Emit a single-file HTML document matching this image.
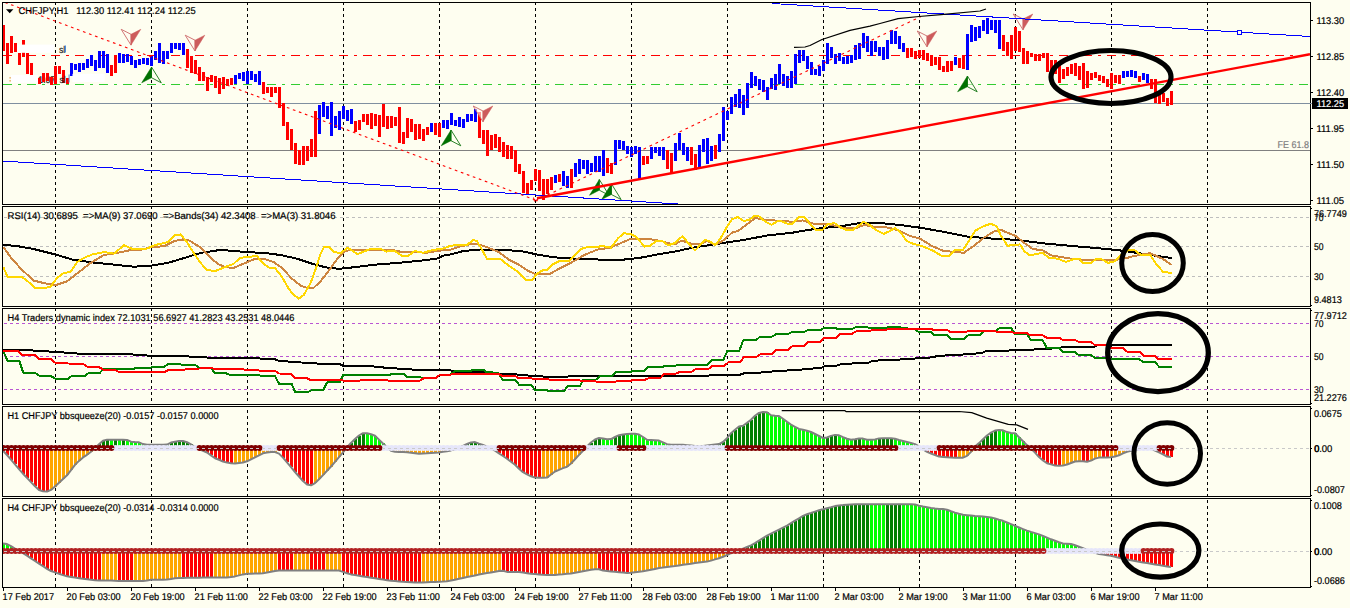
<!DOCTYPE html>
<html><head><meta charset="utf-8"><title>CHFJPY H1</title>
<style>html,body{margin:0;padding:0;background:#FEFEF0;overflow:hidden}svg text{font-family:"Liberation Sans",sans-serif}</style></head>
<body>
<svg width="1350" height="608" viewBox="0 0 1350 608" font-family="Liberation Sans, sans-serif" style="display:block">
<rect width="1350" height="608" fill="#FEFEF0"/>
<defs>
<clipPath id="cp0"><rect x="3" y="3" width="1307" height="201"/></clipPath>
<clipPath id="cp1"><rect x="3" y="207" width="1307" height="99"/></clipPath>
<clipPath id="cp2"><rect x="3" y="309" width="1307" height="95"/></clipPath>
<clipPath id="cp3"><rect x="3" y="407" width="1307" height="89"/></clipPath>
<clipPath id="cp4"><rect x="3" y="499" width="1307" height="88"/></clipPath>
</defs>
<clipPath id="cpall"><rect x="3" y="3" width="1307" height="201"/><rect x="3" y="207" width="1307" height="99"/><rect x="3" y="309" width="1307" height="95"/><rect x="3" y="407" width="1307" height="89"/><rect x="3" y="499" width="1307" height="88"/></clipPath>
<g clip-path="url(#cpall)">
<line x1="55.5" y1="2" x2="55.5" y2="590" stroke="#000" stroke-width="1" stroke-dasharray="3 3" shape-rendering="crispEdges"/>
<line x1="151.5" y1="2" x2="151.5" y2="590" stroke="#000" stroke-width="1" stroke-dasharray="3 3" shape-rendering="crispEdges"/>
<line x1="247.5" y1="2" x2="247.5" y2="590" stroke="#000" stroke-width="1" stroke-dasharray="3 3" shape-rendering="crispEdges"/>
<line x1="343.5" y1="2" x2="343.5" y2="590" stroke="#000" stroke-width="1" stroke-dasharray="3 3" shape-rendering="crispEdges"/>
<line x1="439.5" y1="2" x2="439.5" y2="590" stroke="#000" stroke-width="1" stroke-dasharray="3 3" shape-rendering="crispEdges"/>
<line x1="535.5" y1="2" x2="535.5" y2="590" stroke="#000" stroke-width="1" stroke-dasharray="3 3" shape-rendering="crispEdges"/>
<line x1="631.5" y1="2" x2="631.5" y2="590" stroke="#000" stroke-width="1" stroke-dasharray="3 3" shape-rendering="crispEdges"/>
<line x1="727.5" y1="2" x2="727.5" y2="590" stroke="#000" stroke-width="1" stroke-dasharray="3 3" shape-rendering="crispEdges"/>
<line x1="823.5" y1="2" x2="823.5" y2="590" stroke="#000" stroke-width="1" stroke-dasharray="3 3" shape-rendering="crispEdges"/>
<line x1="919.5" y1="2" x2="919.5" y2="590" stroke="#000" stroke-width="1" stroke-dasharray="3 3" shape-rendering="crispEdges"/>
<line x1="1015.5" y1="2" x2="1015.5" y2="590" stroke="#000" stroke-width="1" stroke-dasharray="3 3" shape-rendering="crispEdges"/>
<line x1="1111.5" y1="2" x2="1111.5" y2="590" stroke="#000" stroke-width="1" stroke-dasharray="3 3" shape-rendering="crispEdges"/>
<line x1="1207.5" y1="2" x2="1207.5" y2="590" stroke="#000" stroke-width="1" stroke-dasharray="3 3" shape-rendering="crispEdges"/>
</g>
<g clip-path="url(#cp0)">
<line x1="3" y1="103.5" x2="1310" y2="103.5" stroke="#7F8FA0" stroke-width="1" shape-rendering="crispEdges"/>
<line x1="3" y1="150.5" x2="1310" y2="150.5" stroke="#808080" stroke-width="1" shape-rendering="crispEdges"/>
<line x1="3" y1="55.5" x2="1310" y2="55.5" stroke="#FF0000" stroke-width="1" stroke-dasharray="9 6 3 6" shape-rendering="crispEdges"/>
<line x1="3" y1="84.5" x2="1310" y2="84.5" stroke="#32CD32" stroke-width="1" stroke-dasharray="9 6 3 6" shape-rendering="crispEdges"/>
<text x="38.30" y="82.60" font-size="9.8px" fill="#1a1a1a" text-anchor="start" textLength="17.00" lengthAdjust="spacingAndGlyphs" xml:space="preserve" stroke="#1a1a1a" stroke-width="0.2" style="text-rendering:geometricPrecision" >1.07</text>
<rect x="2" y="25" width="3" height="26" fill="#FF0000" shape-rendering="crispEdges"/>
<rect x="6" y="43" width="3" height="21" fill="#FF0000" shape-rendering="crispEdges"/>
<rect x="10" y="36" width="3" height="17" fill="#FF0000" shape-rendering="crispEdges"/>
<rect x="14" y="43" width="3" height="9" fill="#FF0000" shape-rendering="crispEdges"/>
<rect x="18" y="53" width="3" height="12" fill="#FF0000" shape-rendering="crispEdges"/>
<rect x="22" y="40" width="3" height="17" fill="#FF0000" shape-rendering="crispEdges"/>
<rect x="26" y="53" width="3" height="21" fill="#FF0000" shape-rendering="crispEdges"/>
<rect x="30" y="63" width="3" height="12" fill="#FF0000" shape-rendering="crispEdges"/>
<rect x="34" y="75" width="3" height="7" fill="#FF0000" shape-rendering="crispEdges"/>
<rect x="38" y="78" width="3" height="6" fill="#FF0000" shape-rendering="crispEdges"/>
<rect x="42" y="73" width="3" height="9" fill="#FF0000" shape-rendering="crispEdges"/>
<rect x="46" y="73" width="3" height="8" fill="#FF0000" shape-rendering="crispEdges"/>
<rect x="50" y="77" width="3" height="8" fill="#FF0000" shape-rendering="crispEdges"/>
<rect x="54" y="66" width="3" height="18" fill="#FF0000" shape-rendering="crispEdges"/>
<rect x="58" y="66" width="3" height="8" fill="#FF0000" shape-rendering="crispEdges"/>
<rect x="62" y="70" width="3" height="13" fill="#FF0000" shape-rendering="crispEdges"/>
<rect x="66" y="78" width="3" height="6" fill="#FF0000" shape-rendering="crispEdges"/>
<rect x="70" y="63" width="3" height="13" fill="#0000FF" shape-rendering="crispEdges"/>
<rect x="74" y="64" width="3" height="6" fill="#0000FF" shape-rendering="crispEdges"/>
<rect x="78" y="63" width="3" height="9" fill="#0000FF" shape-rendering="crispEdges"/>
<rect x="82" y="63" width="3" height="7" fill="#0000FF" shape-rendering="crispEdges"/>
<rect x="86" y="59" width="3" height="9" fill="#0000FF" shape-rendering="crispEdges"/>
<rect x="90" y="55" width="3" height="11" fill="#0000FF" shape-rendering="crispEdges"/>
<rect x="94" y="60" width="3" height="11" fill="#0000FF" shape-rendering="crispEdges"/>
<rect x="98" y="51" width="3" height="17" fill="#0000FF" shape-rendering="crispEdges"/>
<rect x="102" y="51" width="3" height="17" fill="#0000FF" shape-rendering="crispEdges"/>
<rect x="106" y="54" width="3" height="19" fill="#0000FF" shape-rendering="crispEdges"/>
<rect x="110" y="65" width="3" height="11" fill="#FF0000" shape-rendering="crispEdges"/>
<rect x="114" y="55" width="3" height="18" fill="#FF0000" shape-rendering="crispEdges"/>
<rect x="118" y="53" width="3" height="10" fill="#0000FF" shape-rendering="crispEdges"/>
<rect x="122" y="54" width="3" height="9" fill="#0000FF" shape-rendering="crispEdges"/>
<rect x="126" y="54" width="3" height="8" fill="#0000FF" shape-rendering="crispEdges"/>
<rect x="130" y="56" width="3" height="9" fill="#0000FF" shape-rendering="crispEdges"/>
<rect x="134" y="60" width="3" height="8" fill="#0000FF" shape-rendering="crispEdges"/>
<rect x="138" y="59" width="3" height="6" fill="#0000FF" shape-rendering="crispEdges"/>
<rect x="142" y="58" width="3" height="6" fill="#0000FF" shape-rendering="crispEdges"/>
<rect x="146" y="58" width="3" height="7" fill="#0000FF" shape-rendering="crispEdges"/>
<rect x="150" y="56" width="3" height="10" fill="#0000FF" shape-rendering="crispEdges"/>
<rect x="154" y="51" width="3" height="9" fill="#0000FF" shape-rendering="crispEdges"/>
<rect x="158" y="43" width="3" height="20" fill="#0000FF" shape-rendering="crispEdges"/>
<rect x="162" y="51" width="3" height="13" fill="#0000FF" shape-rendering="crispEdges"/>
<rect x="166" y="51" width="3" height="8" fill="#0000FF" shape-rendering="crispEdges"/>
<rect x="170" y="43" width="3" height="10" fill="#0000FF" shape-rendering="crispEdges"/>
<rect x="174" y="43" width="3" height="6" fill="#0000FF" shape-rendering="crispEdges"/>
<rect x="178" y="43" width="3" height="7" fill="#0000FF" shape-rendering="crispEdges"/>
<rect x="182" y="43" width="3" height="12" fill="#0000FF" shape-rendering="crispEdges"/>
<rect x="186" y="49" width="3" height="19" fill="#FF0000" shape-rendering="crispEdges"/>
<rect x="190" y="56" width="3" height="17" fill="#FF0000" shape-rendering="crispEdges"/>
<rect x="194" y="60" width="3" height="14" fill="#FF0000" shape-rendering="crispEdges"/>
<rect x="198" y="67" width="3" height="14" fill="#FF0000" shape-rendering="crispEdges"/>
<rect x="202" y="72" width="3" height="9" fill="#FF0000" shape-rendering="crispEdges"/>
<rect x="206" y="77" width="3" height="14" fill="#FF0000" shape-rendering="crispEdges"/>
<rect x="210" y="75" width="3" height="7" fill="#FF0000" shape-rendering="crispEdges"/>
<rect x="214" y="76" width="3" height="12" fill="#FF0000" shape-rendering="crispEdges"/>
<rect x="218" y="78" width="3" height="16" fill="#FF0000" shape-rendering="crispEdges"/>
<rect x="222" y="77" width="3" height="12" fill="#FF0000" shape-rendering="crispEdges"/>
<rect x="226" y="79" width="3" height="7" fill="#FF0000" shape-rendering="crispEdges"/>
<rect x="230" y="78" width="3" height="7" fill="#FF0000" shape-rendering="crispEdges"/>
<rect x="234" y="75" width="3" height="9" fill="#0000FF" shape-rendering="crispEdges"/>
<rect x="238" y="73" width="3" height="6" fill="#0000FF" shape-rendering="crispEdges"/>
<rect x="242" y="72" width="3" height="9" fill="#0000FF" shape-rendering="crispEdges"/>
<rect x="246" y="71" width="3" height="13" fill="#0000FF" shape-rendering="crispEdges"/>
<rect x="250" y="71" width="3" height="9" fill="#0000FF" shape-rendering="crispEdges"/>
<rect x="254" y="74" width="3" height="8" fill="#0000FF" shape-rendering="crispEdges"/>
<rect x="258" y="71" width="3" height="14" fill="#0000FF" shape-rendering="crispEdges"/>
<rect x="262" y="82" width="3" height="12" fill="#FF0000" shape-rendering="crispEdges"/>
<rect x="266" y="87" width="3" height="6" fill="#FF0000" shape-rendering="crispEdges"/>
<rect x="270" y="87" width="3" height="10" fill="#FF0000" shape-rendering="crispEdges"/>
<rect x="274" y="87" width="3" height="6" fill="#FF0000" shape-rendering="crispEdges"/>
<rect x="278" y="87" width="3" height="21" fill="#FF0000" shape-rendering="crispEdges"/>
<rect x="282" y="103" width="3" height="23" fill="#FF0000" shape-rendering="crispEdges"/>
<rect x="286" y="122" width="3" height="18" fill="#FF0000" shape-rendering="crispEdges"/>
<rect x="290" y="129" width="3" height="21" fill="#FF0000" shape-rendering="crispEdges"/>
<rect x="294" y="143" width="3" height="21" fill="#FF0000" shape-rendering="crispEdges"/>
<rect x="298" y="150" width="3" height="15" fill="#FF0000" shape-rendering="crispEdges"/>
<rect x="302" y="146" width="3" height="19" fill="#FF0000" shape-rendering="crispEdges"/>
<rect x="306" y="146" width="3" height="15" fill="#FF0000" shape-rendering="crispEdges"/>
<rect x="310" y="139" width="3" height="18" fill="#FF0000" shape-rendering="crispEdges"/>
<rect x="314" y="111" width="3" height="46" fill="#FF0000" shape-rendering="crispEdges"/>
<rect x="318" y="105" width="3" height="29" fill="#0000FF" shape-rendering="crispEdges"/>
<rect x="322" y="102" width="3" height="15" fill="#0000FF" shape-rendering="crispEdges"/>
<rect x="326" y="106" width="3" height="13" fill="#0000FF" shape-rendering="crispEdges"/>
<rect x="330" y="102" width="3" height="34" fill="#0000FF" shape-rendering="crispEdges"/>
<rect x="334" y="116" width="3" height="12" fill="#0000FF" shape-rendering="crispEdges"/>
<rect x="338" y="111" width="3" height="19" fill="#0000FF" shape-rendering="crispEdges"/>
<rect x="342" y="106" width="3" height="13" fill="#0000FF" shape-rendering="crispEdges"/>
<rect x="346" y="110" width="3" height="11" fill="#0000FF" shape-rendering="crispEdges"/>
<rect x="350" y="109" width="3" height="15" fill="#0000FF" shape-rendering="crispEdges"/>
<rect x="354" y="121" width="3" height="11" fill="#FF0000" shape-rendering="crispEdges"/>
<rect x="358" y="120" width="3" height="10" fill="#FF0000" shape-rendering="crispEdges"/>
<rect x="362" y="114" width="3" height="8" fill="#FF0000" shape-rendering="crispEdges"/>
<rect x="366" y="114" width="3" height="11" fill="#FF0000" shape-rendering="crispEdges"/>
<rect x="370" y="113" width="3" height="16" fill="#FF0000" shape-rendering="crispEdges"/>
<rect x="374" y="114" width="3" height="12" fill="#FF0000" shape-rendering="crispEdges"/>
<rect x="378" y="115" width="3" height="22" fill="#FF0000" shape-rendering="crispEdges"/>
<rect x="382" y="104" width="3" height="23" fill="#FF0000" shape-rendering="crispEdges"/>
<rect x="386" y="116" width="3" height="13" fill="#FF0000" shape-rendering="crispEdges"/>
<rect x="390" y="116" width="3" height="12" fill="#FF0000" shape-rendering="crispEdges"/>
<rect x="394" y="117" width="3" height="9" fill="#FF0000" shape-rendering="crispEdges"/>
<rect x="398" y="107" width="3" height="36" fill="#FF0000" shape-rendering="crispEdges"/>
<rect x="402" y="132" width="3" height="12" fill="#FF0000" shape-rendering="crispEdges"/>
<rect x="406" y="118" width="3" height="20" fill="#FF0000" shape-rendering="crispEdges"/>
<rect x="410" y="119" width="3" height="13" fill="#FF0000" shape-rendering="crispEdges"/>
<rect x="414" y="124" width="3" height="16" fill="#FF0000" shape-rendering="crispEdges"/>
<rect x="418" y="124" width="3" height="15" fill="#FF0000" shape-rendering="crispEdges"/>
<rect x="422" y="129" width="3" height="12" fill="#FF0000" shape-rendering="crispEdges"/>
<rect x="426" y="127" width="3" height="8" fill="#FF0000" shape-rendering="crispEdges"/>
<rect x="430" y="123" width="3" height="9" fill="#0000FF" shape-rendering="crispEdges"/>
<rect x="434" y="123" width="3" height="12" fill="#FF0000" shape-rendering="crispEdges"/>
<rect x="438" y="123" width="3" height="14" fill="#FF0000" shape-rendering="crispEdges"/>
<rect x="442" y="120" width="3" height="8" fill="#0000FF" shape-rendering="crispEdges"/>
<rect x="446" y="120" width="3" height="9" fill="#0000FF" shape-rendering="crispEdges"/>
<rect x="450" y="113" width="3" height="12" fill="#0000FF" shape-rendering="crispEdges"/>
<rect x="454" y="120" width="3" height="6" fill="#0000FF" shape-rendering="crispEdges"/>
<rect x="458" y="117" width="3" height="10" fill="#0000FF" shape-rendering="crispEdges"/>
<rect x="462" y="119" width="3" height="9" fill="#0000FF" shape-rendering="crispEdges"/>
<rect x="466" y="114" width="3" height="8" fill="#0000FF" shape-rendering="crispEdges"/>
<rect x="470" y="114" width="3" height="7" fill="#0000FF" shape-rendering="crispEdges"/>
<rect x="474" y="109" width="3" height="13" fill="#0000FF" shape-rendering="crispEdges"/>
<rect x="478" y="112" width="3" height="26" fill="#FF0000" shape-rendering="crispEdges"/>
<rect x="482" y="130" width="3" height="14" fill="#FF0000" shape-rendering="crispEdges"/>
<rect x="486" y="130" width="3" height="26" fill="#FF0000" shape-rendering="crispEdges"/>
<rect x="490" y="135" width="3" height="15" fill="#FF0000" shape-rendering="crispEdges"/>
<rect x="494" y="134" width="3" height="14" fill="#FF0000" shape-rendering="crispEdges"/>
<rect x="498" y="137" width="3" height="15" fill="#FF0000" shape-rendering="crispEdges"/>
<rect x="502" y="142" width="3" height="15" fill="#FF0000" shape-rendering="crispEdges"/>
<rect x="506" y="145" width="3" height="14" fill="#FF0000" shape-rendering="crispEdges"/>
<rect x="510" y="146" width="3" height="13" fill="#FF0000" shape-rendering="crispEdges"/>
<rect x="514" y="150" width="3" height="22" fill="#FF0000" shape-rendering="crispEdges"/>
<rect x="518" y="164" width="3" height="10" fill="#FF0000" shape-rendering="crispEdges"/>
<rect x="522" y="171" width="3" height="22" fill="#FF0000" shape-rendering="crispEdges"/>
<rect x="526" y="183" width="3" height="12" fill="#FF0000" shape-rendering="crispEdges"/>
<rect x="530" y="180" width="3" height="10" fill="#FF0000" shape-rendering="crispEdges"/>
<rect x="534" y="169" width="3" height="12" fill="#FF0000" shape-rendering="crispEdges"/>
<rect x="538" y="170" width="3" height="21" fill="#FF0000" shape-rendering="crispEdges"/>
<rect x="542" y="179" width="3" height="21" fill="#FF0000" shape-rendering="crispEdges"/>
<rect x="546" y="179" width="3" height="15" fill="#FF0000" shape-rendering="crispEdges"/>
<rect x="550" y="177" width="3" height="13" fill="#FF0000" shape-rendering="crispEdges"/>
<rect x="554" y="175" width="3" height="8" fill="#0000FF" shape-rendering="crispEdges"/>
<rect x="558" y="174" width="3" height="8" fill="#FF0000" shape-rendering="crispEdges"/>
<rect x="562" y="171" width="3" height="15" fill="#0000FF" shape-rendering="crispEdges"/>
<rect x="566" y="176" width="3" height="12" fill="#0000FF" shape-rendering="crispEdges"/>
<rect x="570" y="169" width="3" height="19" fill="#FF0000" shape-rendering="crispEdges"/>
<rect x="574" y="163" width="3" height="14" fill="#0000FF" shape-rendering="crispEdges"/>
<rect x="578" y="159" width="3" height="15" fill="#0000FF" shape-rendering="crispEdges"/>
<rect x="582" y="160" width="3" height="9" fill="#0000FF" shape-rendering="crispEdges"/>
<rect x="586" y="160" width="3" height="14" fill="#0000FF" shape-rendering="crispEdges"/>
<rect x="590" y="163" width="3" height="9" fill="#0000FF" shape-rendering="crispEdges"/>
<rect x="594" y="156" width="3" height="16" fill="#0000FF" shape-rendering="crispEdges"/>
<rect x="598" y="156" width="3" height="16" fill="#0000FF" shape-rendering="crispEdges"/>
<rect x="602" y="150" width="3" height="26" fill="#0000FF" shape-rendering="crispEdges"/>
<rect x="606" y="158" width="3" height="15" fill="#FF0000" shape-rendering="crispEdges"/>
<rect x="610" y="163" width="3" height="11" fill="#FF0000" shape-rendering="crispEdges"/>
<rect x="614" y="140" width="3" height="25" fill="#0000FF" shape-rendering="crispEdges"/>
<rect x="618" y="140" width="3" height="9" fill="#0000FF" shape-rendering="crispEdges"/>
<rect x="622" y="141" width="3" height="9" fill="#0000FF" shape-rendering="crispEdges"/>
<rect x="626" y="146" width="3" height="8" fill="#0000FF" shape-rendering="crispEdges"/>
<rect x="630" y="147" width="3" height="10" fill="#0000FF" shape-rendering="crispEdges"/>
<rect x="634" y="146" width="3" height="8" fill="#0000FF" shape-rendering="crispEdges"/>
<rect x="638" y="147" width="3" height="32" fill="#0000FF" shape-rendering="crispEdges"/>
<rect x="642" y="156" width="3" height="9" fill="#FF0000" shape-rendering="crispEdges"/>
<rect x="646" y="156" width="3" height="8" fill="#FF0000" shape-rendering="crispEdges"/>
<rect x="650" y="147" width="3" height="12" fill="#0000FF" shape-rendering="crispEdges"/>
<rect x="654" y="147" width="3" height="6" fill="#0000FF" shape-rendering="crispEdges"/>
<rect x="658" y="147" width="3" height="9" fill="#0000FF" shape-rendering="crispEdges"/>
<rect x="662" y="147" width="3" height="13" fill="#0000FF" shape-rendering="crispEdges"/>
<rect x="666" y="150" width="3" height="19" fill="#FF0000" shape-rendering="crispEdges"/>
<rect x="670" y="153" width="3" height="21" fill="#FF0000" shape-rendering="crispEdges"/>
<rect x="674" y="143" width="3" height="18" fill="#0000FF" shape-rendering="crispEdges"/>
<rect x="678" y="133" width="3" height="17" fill="#0000FF" shape-rendering="crispEdges"/>
<rect x="682" y="143" width="3" height="12" fill="#0000FF" shape-rendering="crispEdges"/>
<rect x="686" y="147" width="3" height="14" fill="#0000FF" shape-rendering="crispEdges"/>
<rect x="690" y="147" width="3" height="18" fill="#FF0000" shape-rendering="crispEdges"/>
<rect x="694" y="154" width="3" height="16" fill="#FF0000" shape-rendering="crispEdges"/>
<rect x="698" y="145" width="3" height="22" fill="#0000FF" shape-rendering="crispEdges"/>
<rect x="702" y="139" width="3" height="13" fill="#0000FF" shape-rendering="crispEdges"/>
<rect x="706" y="138" width="3" height="26" fill="#0000FF" shape-rendering="crispEdges"/>
<rect x="710" y="146" width="3" height="15" fill="#0000FF" shape-rendering="crispEdges"/>
<rect x="714" y="145" width="3" height="14" fill="#FF0000" shape-rendering="crispEdges"/>
<rect x="718" y="134" width="3" height="18" fill="#0000FF" shape-rendering="crispEdges"/>
<rect x="722" y="107" width="3" height="34" fill="#0000FF" shape-rendering="crispEdges"/>
<rect x="726" y="111" width="3" height="9" fill="#0000FF" shape-rendering="crispEdges"/>
<rect x="730" y="97" width="3" height="17" fill="#0000FF" shape-rendering="crispEdges"/>
<rect x="734" y="94" width="3" height="13" fill="#0000FF" shape-rendering="crispEdges"/>
<rect x="738" y="89" width="3" height="19" fill="#0000FF" shape-rendering="crispEdges"/>
<rect x="742" y="95" width="3" height="20" fill="#0000FF" shape-rendering="crispEdges"/>
<rect x="746" y="83" width="3" height="25" fill="#0000FF" shape-rendering="crispEdges"/>
<rect x="750" y="72" width="3" height="16" fill="#0000FF" shape-rendering="crispEdges"/>
<rect x="754" y="76" width="3" height="10" fill="#0000FF" shape-rendering="crispEdges"/>
<rect x="758" y="79" width="3" height="11" fill="#0000FF" shape-rendering="crispEdges"/>
<rect x="762" y="80" width="3" height="12" fill="#0000FF" shape-rendering="crispEdges"/>
<rect x="766" y="87" width="3" height="13" fill="#0000FF" shape-rendering="crispEdges"/>
<rect x="770" y="78" width="3" height="11" fill="#0000FF" shape-rendering="crispEdges"/>
<rect x="774" y="74" width="3" height="16" fill="#0000FF" shape-rendering="crispEdges"/>
<rect x="778" y="64" width="3" height="20" fill="#0000FF" shape-rendering="crispEdges"/>
<rect x="782" y="74" width="3" height="12" fill="#0000FF" shape-rendering="crispEdges"/>
<rect x="786" y="76" width="3" height="12" fill="#0000FF" shape-rendering="crispEdges"/>
<rect x="790" y="71" width="3" height="17" fill="#0000FF" shape-rendering="crispEdges"/>
<rect x="794" y="54" width="3" height="30" fill="#0000FF" shape-rendering="crispEdges"/>
<rect x="798" y="50" width="3" height="13" fill="#0000FF" shape-rendering="crispEdges"/>
<rect x="802" y="50" width="3" height="11" fill="#0000FF" shape-rendering="crispEdges"/>
<rect x="806" y="56" width="3" height="13" fill="#0000FF" shape-rendering="crispEdges"/>
<rect x="810" y="62" width="3" height="13" fill="#0000FF" shape-rendering="crispEdges"/>
<rect x="814" y="69" width="3" height="6" fill="#0000FF" shape-rendering="crispEdges"/>
<rect x="818" y="66" width="3" height="10" fill="#0000FF" shape-rendering="crispEdges"/>
<rect x="822" y="60" width="3" height="11" fill="#0000FF" shape-rendering="crispEdges"/>
<rect x="826" y="43" width="3" height="21" fill="#0000FF" shape-rendering="crispEdges"/>
<rect x="830" y="47" width="3" height="11" fill="#0000FF" shape-rendering="crispEdges"/>
<rect x="834" y="54" width="3" height="10" fill="#0000FF" shape-rendering="crispEdges"/>
<rect x="838" y="53" width="3" height="8" fill="#0000FF" shape-rendering="crispEdges"/>
<rect x="842" y="57" width="3" height="7" fill="#0000FF" shape-rendering="crispEdges"/>
<rect x="846" y="56" width="3" height="8" fill="#0000FF" shape-rendering="crispEdges"/>
<rect x="850" y="55" width="3" height="8" fill="#0000FF" shape-rendering="crispEdges"/>
<rect x="854" y="45" width="3" height="15" fill="#0000FF" shape-rendering="crispEdges"/>
<rect x="858" y="43" width="3" height="16" fill="#0000FF" shape-rendering="crispEdges"/>
<rect x="862" y="33" width="3" height="15" fill="#0000FF" shape-rendering="crispEdges"/>
<rect x="866" y="36" width="3" height="16" fill="#0000FF" shape-rendering="crispEdges"/>
<rect x="870" y="41" width="3" height="15" fill="#0000FF" shape-rendering="crispEdges"/>
<rect x="874" y="41" width="3" height="11" fill="#0000FF" shape-rendering="crispEdges"/>
<rect x="878" y="47" width="3" height="9" fill="#0000FF" shape-rendering="crispEdges"/>
<rect x="882" y="47" width="3" height="13" fill="#0000FF" shape-rendering="crispEdges"/>
<rect x="886" y="40" width="3" height="19" fill="#0000FF" shape-rendering="crispEdges"/>
<rect x="890" y="30" width="3" height="14" fill="#0000FF" shape-rendering="crispEdges"/>
<rect x="894" y="31" width="3" height="13" fill="#0000FF" shape-rendering="crispEdges"/>
<rect x="898" y="36" width="3" height="13" fill="#0000FF" shape-rendering="crispEdges"/>
<rect x="902" y="43" width="3" height="9" fill="#0000FF" shape-rendering="crispEdges"/>
<rect x="906" y="48" width="3" height="10" fill="#FF0000" shape-rendering="crispEdges"/>
<rect x="910" y="48" width="3" height="9" fill="#FF0000" shape-rendering="crispEdges"/>
<rect x="914" y="51" width="3" height="8" fill="#FF0000" shape-rendering="crispEdges"/>
<rect x="918" y="50" width="3" height="8" fill="#FF0000" shape-rendering="crispEdges"/>
<rect x="922" y="50" width="3" height="10" fill="#FF0000" shape-rendering="crispEdges"/>
<rect x="926" y="53" width="3" height="8" fill="#FF0000" shape-rendering="crispEdges"/>
<rect x="930" y="55" width="3" height="11" fill="#FF0000" shape-rendering="crispEdges"/>
<rect x="934" y="57" width="3" height="8" fill="#FF0000" shape-rendering="crispEdges"/>
<rect x="938" y="57" width="3" height="13" fill="#FF0000" shape-rendering="crispEdges"/>
<rect x="942" y="66" width="3" height="6" fill="#FF0000" shape-rendering="crispEdges"/>
<rect x="946" y="61" width="3" height="11" fill="#FF0000" shape-rendering="crispEdges"/>
<rect x="950" y="61" width="3" height="10" fill="#FF0000" shape-rendering="crispEdges"/>
<rect x="954" y="57" width="3" height="8" fill="#0000FF" shape-rendering="crispEdges"/>
<rect x="958" y="58" width="3" height="10" fill="#FF0000" shape-rendering="crispEdges"/>
<rect x="962" y="55" width="3" height="14" fill="#FF0000" shape-rendering="crispEdges"/>
<rect x="966" y="34" width="3" height="36" fill="#0000FF" shape-rendering="crispEdges"/>
<rect x="970" y="25" width="3" height="17" fill="#0000FF" shape-rendering="crispEdges"/>
<rect x="974" y="27" width="3" height="14" fill="#0000FF" shape-rendering="crispEdges"/>
<rect x="978" y="26" width="3" height="12" fill="#0000FF" shape-rendering="crispEdges"/>
<rect x="982" y="20" width="3" height="11" fill="#0000FF" shape-rendering="crispEdges"/>
<rect x="986" y="18" width="3" height="16" fill="#0000FF" shape-rendering="crispEdges"/>
<rect x="990" y="20" width="3" height="10" fill="#0000FF" shape-rendering="crispEdges"/>
<rect x="994" y="20" width="3" height="13" fill="#0000FF" shape-rendering="crispEdges"/>
<rect x="998" y="20" width="3" height="29" fill="#0000FF" shape-rendering="crispEdges"/>
<rect x="1002" y="35" width="3" height="16" fill="#FF0000" shape-rendering="crispEdges"/>
<rect x="1006" y="42" width="3" height="14" fill="#FF0000" shape-rendering="crispEdges"/>
<rect x="1010" y="35" width="3" height="24" fill="#FF0000" shape-rendering="crispEdges"/>
<rect x="1014" y="27" width="3" height="24" fill="#FF0000" shape-rendering="crispEdges"/>
<rect x="1018" y="31" width="3" height="21" fill="#FF0000" shape-rendering="crispEdges"/>
<rect x="1022" y="48" width="3" height="16" fill="#FF0000" shape-rendering="crispEdges"/>
<rect x="1026" y="51" width="3" height="13" fill="#FF0000" shape-rendering="crispEdges"/>
<rect x="1030" y="53" width="3" height="4" fill="#FF0000" shape-rendering="crispEdges"/>
<rect x="1034" y="54" width="3" height="7" fill="#FF0000" shape-rendering="crispEdges"/>
<rect x="1038" y="54" width="3" height="7" fill="#FF0000" shape-rendering="crispEdges"/>
<rect x="1042" y="53" width="3" height="5" fill="#FF0000" shape-rendering="crispEdges"/>
<rect x="1046" y="53" width="3" height="19" fill="#FF0000" shape-rendering="crispEdges"/>
<rect x="1050" y="60" width="3" height="10" fill="#FF0000" shape-rendering="crispEdges"/>
<rect x="1054" y="60" width="3" height="14" fill="#FF0000" shape-rendering="crispEdges"/>
<rect x="1058" y="61" width="3" height="22" fill="#FF0000" shape-rendering="crispEdges"/>
<rect x="1062" y="69" width="3" height="10" fill="#FF0000" shape-rendering="crispEdges"/>
<rect x="1066" y="67" width="3" height="9" fill="#FF0000" shape-rendering="crispEdges"/>
<rect x="1070" y="64" width="3" height="10" fill="#FF0000" shape-rendering="crispEdges"/>
<rect x="1074" y="63" width="3" height="13" fill="#FF0000" shape-rendering="crispEdges"/>
<rect x="1078" y="66" width="3" height="14" fill="#FF0000" shape-rendering="crispEdges"/>
<rect x="1082" y="63" width="3" height="26" fill="#FF0000" shape-rendering="crispEdges"/>
<rect x="1086" y="71" width="3" height="17" fill="#FF0000" shape-rendering="crispEdges"/>
<rect x="1090" y="73" width="3" height="7" fill="#FF0000" shape-rendering="crispEdges"/>
<rect x="1094" y="72" width="3" height="6" fill="#FF0000" shape-rendering="crispEdges"/>
<rect x="1098" y="75" width="3" height="6" fill="#FF0000" shape-rendering="crispEdges"/>
<rect x="1102" y="76" width="3" height="7" fill="#FF0000" shape-rendering="crispEdges"/>
<rect x="1106" y="79" width="3" height="8" fill="#FF0000" shape-rendering="crispEdges"/>
<rect x="1110" y="73" width="3" height="16" fill="#FF0000" shape-rendering="crispEdges"/>
<rect x="1114" y="75" width="3" height="8" fill="#FF0000" shape-rendering="crispEdges"/>
<rect x="1118" y="75" width="3" height="9" fill="#FF0000" shape-rendering="crispEdges"/>
<rect x="1122" y="71" width="3" height="7" fill="#0000FF" shape-rendering="crispEdges"/>
<rect x="1126" y="71" width="3" height="6" fill="#0000FF" shape-rendering="crispEdges"/>
<rect x="1130" y="70" width="3" height="7" fill="#0000FF" shape-rendering="crispEdges"/>
<rect x="1134" y="71" width="3" height="7" fill="#0000FF" shape-rendering="crispEdges"/>
<rect x="1138" y="76" width="3" height="6" fill="#FF0000" shape-rendering="crispEdges"/>
<rect x="1142" y="73" width="3" height="7" fill="#0000FF" shape-rendering="crispEdges"/>
<rect x="1146" y="74" width="3" height="9" fill="#0000FF" shape-rendering="crispEdges"/>
<rect x="1150" y="79" width="3" height="10" fill="#FF0000" shape-rendering="crispEdges"/>
<rect x="1154" y="79" width="3" height="24" fill="#FF0000" shape-rendering="crispEdges"/>
<rect x="1158" y="93" width="3" height="11" fill="#FF0000" shape-rendering="crispEdges"/>
<rect x="1162" y="93" width="3" height="9" fill="#FF0000" shape-rendering="crispEdges"/>
<rect x="1166" y="98" width="3" height="8" fill="#FF0000" shape-rendering="crispEdges"/>
<rect x="1170" y="91" width="3" height="14" fill="#FF0000" shape-rendering="crispEdges"/>
<rect x="17" y="44.6" width="37.3" height="8.2" fill="#FFFFFF"/>
<rect x="11" y="75" width="27" height="7.8" fill="#FFFFFF"/>
<rect x="72.5" y="73.8" width="32" height="8.2" fill="#FFFFFF"/>
<rect x="9.6" y="77" width="1" height="1.6" fill="#E0903A"/><rect x="9.6" y="80" width="1" height="1.6" fill="#E0903A"/>
<text x="59.00" y="52.60" font-size="9.8px" fill="#1a1a1a" text-anchor="start" textLength="6.20" lengthAdjust="spacingAndGlyphs" xml:space="preserve" stroke="#1a1a1a" stroke-width="0.2" style="text-rendering:geometricPrecision" >sl</text>
<text x="59.50" y="82.60" font-size="9.8px" fill="#1a1a1a" text-anchor="start" textLength="6.20" lengthAdjust="spacingAndGlyphs" xml:space="preserve" stroke="#1a1a1a" stroke-width="0.2" style="text-rendering:geometricPrecision" >sl</text>
<rect x="65" y="45.5" width="1" height="7" fill="#4A90D9"/>
<rect x="68.6" y="74.5" width="1" height="8" fill="#4A90D9"/>
<polygon points="121.2,29.3 131,34.3 131,45.1" fill="#FFFAF0" fill-opacity="0.6" stroke="#CF7070" stroke-width="0.95"/>
<polygon points="131,34.3 140.8,29.3 131,45.1" fill="#CD5C5C" stroke="#CD5C5C" stroke-width="0.5"/>
<polygon points="185.2,35.2 195,40.2 195,51.0" fill="#FFFAF0" fill-opacity="0.6" stroke="#CF7070" stroke-width="0.95"/>
<polygon points="195,40.2 204.8,35.2 195,51.0" fill="#CD5C5C" stroke="#CD5C5C" stroke-width="0.5"/>
<polygon points="473.2,106 483,111 483,121.8" fill="#FFFAF0" fill-opacity="0.6" stroke="#CF7070" stroke-width="0.95"/>
<polygon points="483,111 492.8,106 483,121.8" fill="#CD5C5C" stroke="#CD5C5C" stroke-width="0.5"/>
<polygon points="917.2,31 927,36 927,46.8" fill="#FFFAF0" fill-opacity="0.6" stroke="#CF7070" stroke-width="0.95"/>
<polygon points="927,36 936.8,31 927,46.8" fill="#CD5C5C" stroke="#CD5C5C" stroke-width="0.5"/>
<polygon points="1013.2,14 1023,19 1023,29.8" fill="#FFFAF0" fill-opacity="0.6" stroke="#CF7070" stroke-width="0.95"/>
<polygon points="1023,19 1032.8,14 1023,29.8" fill="#CD5C5C" stroke="#CD5C5C" stroke-width="0.5"/>
<polygon points="151.5,67 161.3,82.8 151.5,77.7" fill="#FFFFF0" fill-opacity="0.5" stroke="#1E7B1E" stroke-width="0.95"/>
<polygon points="151.5,67 141.7,82.8 151.5,77.7" fill="#007000" stroke="#007000" stroke-width="0.5"/>
<polygon points="451,130 460.8,145.8 451,140.7" fill="#FFFFF0" fill-opacity="0.5" stroke="#1E7B1E" stroke-width="0.95"/>
<polygon points="451,130 441.2,145.8 451,140.7" fill="#007000" stroke="#007000" stroke-width="0.5"/>
<polygon points="599.3,179.5 609.0999999999999,195.3 599.3,190.2" fill="#FFFFF0" fill-opacity="0.5" stroke="#1E7B1E" stroke-width="0.95"/>
<polygon points="599.3,179.5 589.5,195.3 599.3,190.2" fill="#007000" stroke="#007000" stroke-width="0.5"/>
<polygon points="611.4,183.8 621.1999999999999,199.60000000000002 611.4,194.5" fill="#FFFFF0" fill-opacity="0.5" stroke="#1E7B1E" stroke-width="0.95"/>
<polygon points="611.4,183.8 601.6,199.60000000000002 611.4,194.5" fill="#007000" stroke="#007000" stroke-width="0.5"/>
<polygon points="967.4,76 977.1999999999999,91.8 967.4,86.7" fill="#FFFFF0" fill-opacity="0.5" stroke="#1E7B1E" stroke-width="0.95"/>
<polygon points="967.4,76 957.6,91.8 967.4,86.7" fill="#007000" stroke="#007000" stroke-width="0.5"/>
<line x1="3" y1="161.02" x2="680" y2="204.15" stroke="#0000FF" stroke-width="1" shape-rendering="crispEdges"/>
<line x1="772" y1="3.48" x2="1310" y2="36.5" stroke="#0000FF" stroke-width="1" shape-rendering="crispEdges"/>
<rect x="1237.5" y="30.5" width="4" height="4" fill="#FEFEF0" stroke="#0000FF" stroke-width="1"/>
<line x1="537" y1="198.3" x2="1310" y2="54.3" stroke="#FF0000" stroke-width="2.4"/>
<line x1="-1" y1="0.2" x2="535.5" y2="200" stroke="#FF0000" stroke-width="1.1" stroke-dasharray="2.7 3.7"/>
<line x1="535.5" y1="200.8" x2="921" y2="16.5" stroke="#FF0000" stroke-width="1.1" stroke-dasharray="2.8 3.85"/>
<path d="M533.5,197.5 L534.5,201.5 M537.8,197.5 L536.8,201.5" stroke="#FF0000" stroke-width="1" fill="none"/>
<polyline points="794.0,47.4 805.0,47.0 810.0,45.5 822.0,39.5 850.0,30.4 870.0,26.2 880.0,23.5 898.0,18.6 919.0,16.5 941.0,14.6 980.0,11.0 986.0,9.0" fill="none" stroke="#000" stroke-width="1.25" stroke-linejoin="round" />
<text x="1309.00" y="148.00" font-size="9.8px" fill="#808080" text-anchor="end" textLength="31.50" lengthAdjust="spacingAndGlyphs" xml:space="preserve" stroke="#808080" stroke-width="0.2" style="text-rendering:geometricPrecision" >FE 61.8</text>
</g>
<polygon points="6,9.2 13.4,9.2 9.7,13.2" fill="#000"/>
<text x="18.50" y="14.00" font-size="9.8px" fill="#000" text-anchor="start" textLength="50.00" lengthAdjust="spacingAndGlyphs" xml:space="preserve" stroke="#000" stroke-width="0.2" style="text-rendering:geometricPrecision" >CHFJPY,H1</text>
<text x="76.20" y="14.00" font-size="9.8px" fill="#000" text-anchor="start" textLength="119.40" lengthAdjust="spacingAndGlyphs" xml:space="preserve" stroke="#000" stroke-width="0.2" style="text-rendering:geometricPrecision" >112.30 112.41 112.24 112.25</text>
<g clip-path="url(#cp1)">
<line x1="4" y1="217.5" x2="1310" y2="217.5" stroke="#BEBEBE" stroke-width="1" stroke-dasharray="3 3" shape-rendering="crispEdges"/>
<line x1="4" y1="246.5" x2="1310" y2="246.5" stroke="#BEBEBE" stroke-width="1" stroke-dasharray="3 3" shape-rendering="crispEdges"/>
<line x1="4" y1="276.5" x2="1310" y2="276.5" stroke="#BEBEBE" stroke-width="1" stroke-dasharray="3 3" shape-rendering="crispEdges"/>
<polyline points="3.4,244.9 16.8,246.0 33.6,249.0 55.4,254.5 72.0,259.5 92.0,262.4 117.4,265.0 134.0,266.7 151.0,265.7 168.0,262.9 184.6,257.9 201.0,252.8 218.0,250.3 225.0,250.3 246.8,252.0 267.0,253.3 280.4,255.0 297.0,258.7 312.0,263.7 325.7,267.4 339.0,268.8 352.5,267.4 376.0,264.6 401.0,262.6 423.0,260.4 438.0,258.4 443.0,255.7 450.0,254.5 463.4,251.0 480.2,249.5 503.7,250.0 520.5,251.0 537.2,254.5 554.0,257.3 570.8,258.4 597.7,259.5 624.5,259.5 639.6,257.9 659.7,254.0 675.0,251.6 691.8,247.8 717.0,243.9 742.0,240.2 767.3,235.5 792.4,232.7 809.2,229.8 826.0,227.7 842.8,226.0 859.6,223.0 876.3,222.6 900.0,225.0 920.0,227.7 942.0,231.5 967.0,236.5 992.3,238.6 1017.4,239.9 1042.6,243.3 1067.8,245.6 1093.0,247.8 1111.4,249.5 1125.0,251.0 1142.0,253.7 1158.7,256.2 1171.8,258.0" fill="none" stroke="#000" stroke-width="2" stroke-linejoin="round" shape-rendering="crispEdges"/>
<polyline points="3.4,247.0 11.7,258.7 21.8,269.6 33.6,280.5 43.6,283.0 55.4,285.2 67.0,281.3 79.0,272.0 90.6,262.9 104.0,255.0 117.4,252.8 131.0,250.0 142.6,249.5 151.0,247.3 164.4,246.1 174.5,241.0 183.0,239.4 189.6,240.6 199.7,247.0 209.7,257.0 218.0,264.0 225.0,267.0 233.4,268.0 243.5,263.7 253.5,259.5 263.6,258.7 273.7,262.0 282.0,268.0 292.0,278.8 300.5,285.5 307.2,288.0 314.0,287.5 320.6,281.3 329.0,270.4 337.4,258.7 345.8,250.6 352.5,250.3 369.3,250.3 382.7,250.0 392.8,250.0 402.9,252.3 414.6,252.0 426.3,252.8 439.8,250.6 450.0,249.8 460.0,246.6 471.8,243.9 478.5,244.4 488.6,247.8 498.7,252.0 508.7,259.5 518.8,264.6 527.2,270.4 533.9,273.5 550.7,273.5 559.0,268.8 570.8,262.9 584.2,255.0 597.7,249.5 609.4,247.8 619.5,243.6 629.5,239.4 638.0,238.6 651.3,239.4 661.4,241.0 669.8,243.6 675.0,244.2 681.7,240.6 691.8,243.9 700.0,243.9 706.9,241.0 715.3,245.0 723.7,240.2 732.0,232.7 738.8,230.5 748.8,223.0 755.5,218.0 765.6,219.8 782.4,221.0 792.4,221.8 802.5,220.4 814.3,223.8 826.0,223.8 836.0,226.0 846.0,228.5 856.0,228.0 864.6,225.0 873.0,226.5 889.8,227.7 900.0,231.0 910.0,236.0 920.0,238.6 931.9,246.0 943.6,251.0 955.4,252.0 963.8,252.8 973.8,246.0 983.9,237.7 994.0,231.5 1000.7,229.8 1007.4,232.7 1015.8,236.0 1024.2,242.8 1032.6,249.0 1042.6,250.3 1051.0,255.3 1061.0,257.0 1071.0,258.7 1084.6,260.0 1098.0,259.5 1109.7,260.4 1118.0,259.5 1125.0,258.4 1133.5,256.2 1142.0,254.5 1150.0,253.3 1157.0,256.2 1163.8,259.5 1171.8,265.0" fill="none" stroke="#CD853F" stroke-width="2" stroke-linejoin="round" shape-rendering="crispEdges"/>
<polyline points="3.4,267.0 7.5,277.0 16.8,277.5 21.8,277.0 26.8,280.5 36.0,288.5 50.3,287.2 57.0,278.0 63.8,273.0 70.5,272.0 77.2,262.0 84.0,257.8 92.3,254.5 104.0,252.0 114.0,253.6 124.0,245.3 132.5,249.0 146.0,249.0 154.4,245.3 167.8,242.0 174.5,235.2 180.4,234.4 186.2,241.0 194.6,254.5 201.3,263.7 206.4,269.6 214.8,271.3 225.0,267.0 233.4,264.0 240.0,257.9 248.5,256.7 256.9,256.2 263.6,263.7 268.6,267.4 275.3,268.4 282.0,277.0 288.8,289.0 293.8,294.8 298.8,298.6 303.9,294.8 310.6,283.0 316.4,267.0 320.6,253.7 324.0,247.3 329.0,247.0 334.0,252.3 340.8,252.8 347.5,247.8 357.6,254.0 369.3,249.5 381.0,249.0 386.0,251.6 394.5,251.0 402.9,256.2 407.9,256.2 414.6,251.0 423.0,252.8 433.0,250.0 443.0,248.6 450.0,246.0 456.7,245.0 466.8,245.0 473.5,240.0 476.8,241.0 481.9,249.5 486.9,258.7 500.3,259.0 508.7,265.7 517.0,271.3 525.5,279.7 532.2,279.7 537.2,273.8 543.0,270.0 547.3,269.6 552.3,264.6 559.0,261.2 569.0,261.2 574.2,256.2 580.9,249.0 587.6,247.0 594.3,247.3 602.7,246.0 611.0,247.8 617.8,238.6 623.7,233.2 631.2,234.4 636.2,236.9 644.6,246.6 649.7,246.0 656.4,241.0 662.2,241.0 668.0,245.3 675.0,243.0 682.6,236.0 688.4,243.6 695.0,250.6 700.0,245.3 705.2,240.0 710.2,241.6 715.3,245.0 721.0,237.7 727.0,226.8 732.0,219.3 738.0,217.0 743.8,221.0 748.8,220.0 753.9,216.4 758.9,216.4 765.6,221.8 771.5,224.8 779.0,220.4 789.0,224.3 792.4,223.8 799.2,217.0 804.2,217.0 810.9,224.8 816.0,230.2 822.7,229.8 827.7,224.3 834.4,223.0 841.0,227.7 847.8,230.5 852.9,229.8 857.9,226.0 863.8,221.8 869.6,225.0 876.3,230.2 883.9,233.9 889.8,231.0 894.8,228.0 900.0,231.6 906.7,241.0 913.4,243.9 921.8,246.0 933.6,251.0 942.0,256.2 948.7,256.2 955.4,249.5 963.0,250.0 968.8,241.0 975.5,230.5 983.9,226.0 990.6,223.8 996.5,226.0 1000.7,235.2 1007.4,245.6 1014.0,245.3 1020.0,244.4 1024.2,251.0 1029.2,255.0 1034.2,254.5 1042.6,252.8 1049.3,257.9 1057.7,258.7 1066.0,262.0 1074.5,258.7 1079.5,258.7 1082.9,262.9 1091.3,262.9 1096.3,258.7 1101.3,259.0 1108.0,262.9 1115.0,261.2 1121.8,254.5 1128.5,250.0 1134.4,250.0 1140.3,254.5 1150.3,255.3 1155.4,262.9 1163.0,271.8 1171.8,273.0" fill="none" stroke="#FFD700" stroke-width="2" stroke-linejoin="round" shape-rendering="crispEdges"/>
</g>
<text x="7.50" y="219.00" font-size="9.8px" fill="#000" text-anchor="start" textLength="328.00" lengthAdjust="spacingAndGlyphs" xml:space="preserve" stroke="#000" stroke-width="0.2" style="text-rendering:geometricPrecision" >RSI(14) 30.6895  =&gt;MA(9) 37.0690  =&gt;Bands(34) 42.3408  =&gt;MA(3) 31.8046</text>
<g clip-path="url(#cp2)">
<line x1="4" y1="323.5" x2="1310" y2="323.5" stroke="#BA55D3" stroke-width="1" stroke-dasharray="3 3" shape-rendering="crispEdges"/>
<line x1="4" y1="356.5" x2="1310" y2="356.5" stroke="#BA55D3" stroke-width="1" stroke-dasharray="3 3" shape-rendering="crispEdges"/>
<line x1="4" y1="389.5" x2="1310" y2="389.5" stroke="#BA55D3" stroke-width="1" stroke-dasharray="3 3" shape-rendering="crispEdges"/>
<polyline points="3.3,349.7 18.3,349.7 36.7,350.7 66.7,352.7 86.7,354.3 130.0,354.3 150.0,355.7 180.0,356.0 210.0,357.7 225.0,358.0 258.3,358.0 261.7,359.0 275.0,359.3 278.3,360.7 291.7,361.8 308.3,363.0 325.0,364.0 340.0,364.3 343.3,366.0 371.7,366.3 388.3,368.0 405.0,369.0 421.7,370.2 450.0,370.2 455.0,371.8 483.3,372.3 500.0,374.0 515.0,374.3 530.0,375.7 548.3,376.8 566.7,376.8 570.0,376.0 616.7,376.0 675.0,376.0 708.3,375.7 713.3,374.7 740.0,374.7 745.0,373.0 758.3,372.7 775.0,371.3 805.0,369.3 821.7,367.7 825.0,366.0 836.7,365.7 841.7,364.0 868.3,362.7 873.3,360.7 886.7,360.2 890.0,359.5 900.0,359.5 933.3,357.3 936.7,356.0 966.7,354.3 981.7,353.0 985.0,351.5 1016.7,350.2 1046.7,349.0 1063.3,347.3 1080.0,346.5 1095.0,346.5 1096.7,345.2 1171.7,345.2" fill="none" stroke="#000" stroke-width="2" stroke-linejoin="round" shape-rendering="crispEdges"/>
<polyline points="3.3,351.0 7.5,360.7 19.2,360.7 23.3,372.7 35.0,372.7 39.2,375.7 50.8,376.0 55.8,379.0 67.5,379.0 71.7,376.0 85.0,375.7 89.2,372.7 100.0,372.7 103.3,369.0 133.3,369.0 136.7,367.7 150.0,367.7 153.3,366.8 164.2,366.8 168.3,364.0 179.2,364.0 181.7,364.8 195.0,364.8 199.2,368.0 210.8,368.0 215.0,373.0 225.0,373.0 230.0,374.8 258.3,374.8 260.8,376.0 275.0,376.0 279.2,384.0 291.7,384.0 295.0,391.8 308.3,391.8 311.7,390.2 323.3,389.8 327.5,381.8 340.0,381.8 343.3,374.7 390.0,374.7 393.3,373.5 403.3,373.5 406.7,376.8 419.2,376.8 422.5,378.0 435.8,378.0 440.0,374.7 450.0,374.7 455.0,371.3 470.0,371.0 473.3,369.8 483.3,369.8 486.7,372.3 498.3,372.7 502.5,379.8 515.0,379.8 519.2,384.8 530.8,384.8 535.0,389.8 546.7,390.2 548.3,391.0 564.2,391.0 567.5,386.0 580.0,386.0 583.3,379.8 595.8,379.8 600.0,376.0 611.7,376.0 615.8,372.2 630.8,372.2 632.5,371.0 644.2,371.0 648.3,366.8 663.3,366.8 665.0,365.7 675.0,365.7 680.0,364.7 707.5,364.7 711.7,359.8 723.3,359.8 727.5,350.7 739.2,350.7 743.3,340.2 755.8,340.2 760.0,336.8 771.7,336.8 776.7,333.8 788.3,333.8 792.5,331.8 804.2,331.8 808.3,329.8 820.8,329.8 824.2,327.7 835.0,327.7 837.5,329.0 851.7,329.0 856.7,326.8 866.7,326.8 869.2,328.0 886.7,327.7 890.0,326.8 900.0,326.8 900.0,327.7 915.0,329.3 918.3,331.8 930.8,331.8 934.2,335.2 947.5,335.2 950.8,339.0 964.2,339.0 968.3,335.2 980.0,335.2 983.3,331.3 995.8,331.0 1000.0,327.7 1010.8,327.7 1015.0,334.0 1026.7,334.0 1030.8,339.8 1042.5,339.8 1046.7,348.0 1059.2,348.0 1062.5,351.8 1075.0,351.8 1078.3,354.8 1090.8,354.8 1095.0,358.0 1106.7,358.0 1110.0,359.0 1139.2,359.0 1142.5,361.8 1155.0,361.8 1159.2,367.0 1171.7,367.0" fill="none" stroke="#008000" stroke-width="2" stroke-linejoin="round" shape-rendering="crispEdges"/>
<polyline points="3.3,351.0 18.3,351.3 22.5,355.2 35.0,355.2 39.2,359.0 50.8,359.0 55.8,363.2 68.3,363.5 83.3,364.0 87.5,366.8 99.2,367.2 103.3,369.8 115.0,369.8 118.3,371.8 165.0,371.8 169.2,369.8 183.3,369.8 188.3,368.8 200.0,368.5 211.7,368.0 215.0,369.3 225.0,369.3 241.7,369.0 245.0,369.8 258.3,370.2 260.8,371.0 275.0,371.0 279.2,373.5 290.8,373.8 295.0,378.0 306.7,378.0 310.0,379.7 341.7,380.2 345.0,381.0 358.3,381.0 361.7,379.8 386.7,379.8 389.2,381.0 419.2,381.0 424.2,378.0 435.8,378.0 440.0,374.7 450.0,374.7 455.0,374.0 498.3,374.0 501.7,375.7 515.0,376.0 518.3,378.0 530.0,378.0 533.3,379.0 546.7,379.0 550.0,379.8 578.3,379.8 581.7,381.0 595.0,381.0 597.5,382.0 615.0,382.0 618.3,380.7 630.8,380.7 633.3,379.8 645.0,379.8 649.2,378.0 660.8,377.7 664.2,374.0 675.0,374.0 680.0,371.8 691.7,371.8 695.8,369.0 708.3,369.0 712.5,366.0 724.2,366.0 728.3,362.3 740.0,362.3 744.2,356.8 756.7,356.8 760.8,354.0 771.7,354.0 776.7,349.8 788.3,349.8 792.5,346.0 804.2,346.0 808.3,341.8 820.0,341.8 824.2,338.0 835.8,338.0 840.0,334.0 851.7,334.0 856.7,331.0 870.0,331.0 873.3,329.7 886.7,329.7 890.0,328.5 900.0,328.5 930.0,328.5 933.3,329.8 946.7,329.8 950.0,331.8 965.8,331.8 969.2,331.0 994.2,331.0 996.7,331.8 1010.8,331.8 1014.2,333.0 1026.7,333.0 1030.0,335.2 1042.5,335.2 1046.7,337.7 1059.2,337.7 1062.5,339.8 1075.0,339.8 1078.3,341.8 1090.8,341.8 1095.0,345.2 1106.7,345.2 1110.0,347.7 1122.5,347.7 1126.7,351.5 1139.2,351.5 1143.3,355.7 1155.0,355.7 1158.3,359.0 1171.7,359.0" fill="none" stroke="#FF0000" stroke-width="2" stroke-linejoin="round" shape-rendering="crispEdges"/>
</g>
<text x="7.50" y="321.00" font-size="9.8px" fill="#000" text-anchor="start" textLength="287.00" lengthAdjust="spacingAndGlyphs" xml:space="preserve" stroke="#000" stroke-width="0.2" style="text-rendering:geometricPrecision" >H4 Traders dynamic index 72.1031 56.6927 41.2823 43.2531 48.0446</text>
<g clip-path="url(#cp3)">
<rect x="2" y="448.5" width="3" height="2.2" fill="#FF0000" shape-rendering="crispEdges"/>
<rect x="6" y="448.5" width="3" height="6.5" fill="#FF0000" shape-rendering="crispEdges"/>
<rect x="10" y="448.5" width="3" height="11.2" fill="#FF0000" shape-rendering="crispEdges"/>
<rect x="14" y="448.5" width="3" height="15.9" fill="#FF0000" shape-rendering="crispEdges"/>
<rect x="18" y="448.5" width="3" height="20.6" fill="#FF0000" shape-rendering="crispEdges"/>
<rect x="22" y="448.5" width="3" height="25.2" fill="#FF0000" shape-rendering="crispEdges"/>
<rect x="26" y="448.5" width="3" height="29.4" fill="#FF0000" shape-rendering="crispEdges"/>
<rect x="30" y="448.5" width="3" height="33.6" fill="#FF0000" shape-rendering="crispEdges"/>
<rect x="34" y="448.5" width="3" height="37.8" fill="#FF0000" shape-rendering="crispEdges"/>
<rect x="38" y="448.5" width="3" height="41.5" fill="#FF0000" shape-rendering="crispEdges"/>
<rect x="42" y="448.5" width="3" height="42.7" fill="#FF0000" shape-rendering="crispEdges"/>
<rect x="46" y="448.5" width="3" height="43.0" fill="#FF0000" shape-rendering="crispEdges"/>
<rect x="50" y="448.5" width="3" height="41.4" fill="#FFA500" shape-rendering="crispEdges"/>
<rect x="54" y="448.5" width="3" height="38.0" fill="#FFA500" shape-rendering="crispEdges"/>
<rect x="58" y="448.5" width="3" height="34.3" fill="#FFA500" shape-rendering="crispEdges"/>
<rect x="62" y="448.5" width="3" height="30.6" fill="#FFA500" shape-rendering="crispEdges"/>
<rect x="66" y="448.5" width="3" height="26.8" fill="#FFA500" shape-rendering="crispEdges"/>
<rect x="70" y="448.5" width="3" height="21.6" fill="#FFA500" shape-rendering="crispEdges"/>
<rect x="74" y="448.5" width="3" height="16.3" fill="#FFA500" shape-rendering="crispEdges"/>
<rect x="78" y="448.5" width="3" height="12.4" fill="#FFA500" shape-rendering="crispEdges"/>
<rect x="82" y="448.5" width="3" height="8.9" fill="#FFA500" shape-rendering="crispEdges"/>
<rect x="86" y="448.5" width="3" height="6.3" fill="#FFA500" shape-rendering="crispEdges"/>
<rect x="90" y="448.5" width="3" height="3.2" fill="#FFA500" shape-rendering="crispEdges"/>
<rect x="98" y="444.2" width="3" height="4.3" fill="#008000" shape-rendering="crispEdges"/>
<rect x="102" y="440.8" width="3" height="7.7" fill="#008000" shape-rendering="crispEdges"/>
<rect x="106" y="439.8" width="3" height="8.7" fill="#008000" shape-rendering="crispEdges"/>
<rect x="110" y="439.8" width="3" height="8.7" fill="#00FF00" shape-rendering="crispEdges"/>
<rect x="114" y="439.8" width="3" height="8.7" fill="#008000" shape-rendering="crispEdges"/>
<rect x="118" y="439.8" width="3" height="8.7" fill="#00FF00" shape-rendering="crispEdges"/>
<rect x="122" y="439.8" width="3" height="8.7" fill="#008000" shape-rendering="crispEdges"/>
<rect x="126" y="439.9" width="3" height="8.6" fill="#00FF00" shape-rendering="crispEdges"/>
<rect x="130" y="441.7" width="3" height="6.8" fill="#00FF00" shape-rendering="crispEdges"/>
<rect x="134" y="442.1" width="3" height="6.4" fill="#00FF00" shape-rendering="crispEdges"/>
<rect x="138" y="442.3" width="3" height="6.2" fill="#00FF00" shape-rendering="crispEdges"/>
<rect x="142" y="444.1" width="3" height="4.4" fill="#00FF00" shape-rendering="crispEdges"/>
<rect x="166" y="444.6" width="3" height="3.9" fill="#008000" shape-rendering="crispEdges"/>
<rect x="170" y="442.6" width="3" height="5.9" fill="#008000" shape-rendering="crispEdges"/>
<rect x="174" y="441.8" width="3" height="6.7" fill="#008000" shape-rendering="crispEdges"/>
<rect x="178" y="441.1" width="3" height="7.4" fill="#008000" shape-rendering="crispEdges"/>
<rect x="182" y="441.0" width="3" height="7.5" fill="#008000" shape-rendering="crispEdges"/>
<rect x="186" y="442.2" width="3" height="6.3" fill="#008000" shape-rendering="crispEdges"/>
<rect x="190" y="444.4" width="3" height="4.1" fill="#008000" shape-rendering="crispEdges"/>
<rect x="198" y="448.5" width="3" height="0.6" fill="#FF0000" shape-rendering="crispEdges"/>
<rect x="202" y="448.5" width="3" height="2.3" fill="#FF0000" shape-rendering="crispEdges"/>
<rect x="206" y="448.5" width="3" height="4.0" fill="#FF0000" shape-rendering="crispEdges"/>
<rect x="210" y="448.5" width="3" height="6.9" fill="#FF0000" shape-rendering="crispEdges"/>
<rect x="214" y="448.5" width="3" height="9.7" fill="#FF0000" shape-rendering="crispEdges"/>
<rect x="218" y="448.5" width="3" height="11.3" fill="#FF0000" shape-rendering="crispEdges"/>
<rect x="222" y="448.5" width="3" height="13.0" fill="#FF0000" shape-rendering="crispEdges"/>
<rect x="226" y="448.5" width="3" height="14.1" fill="#FF0000" shape-rendering="crispEdges"/>
<rect x="230" y="448.5" width="3" height="14.8" fill="#FF0000" shape-rendering="crispEdges"/>
<rect x="234" y="448.5" width="3" height="15.0" fill="#FFA500" shape-rendering="crispEdges"/>
<rect x="238" y="448.5" width="3" height="14.5" fill="#FFA500" shape-rendering="crispEdges"/>
<rect x="242" y="448.5" width="3" height="14.0" fill="#FFA500" shape-rendering="crispEdges"/>
<rect x="246" y="448.5" width="3" height="12.8" fill="#FFA500" shape-rendering="crispEdges"/>
<rect x="250" y="448.5" width="3" height="10.8" fill="#FFA500" shape-rendering="crispEdges"/>
<rect x="254" y="448.5" width="3" height="8.8" fill="#FFA500" shape-rendering="crispEdges"/>
<rect x="258" y="448.5" width="3" height="6.8" fill="#FFA500" shape-rendering="crispEdges"/>
<rect x="262" y="448.5" width="3" height="4.8" fill="#FFA500" shape-rendering="crispEdges"/>
<rect x="266" y="448.5" width="3" height="4.1" fill="#FFA500" shape-rendering="crispEdges"/>
<rect x="270" y="448.5" width="3" height="3.4" fill="#FFA500" shape-rendering="crispEdges"/>
<rect x="274" y="448.5" width="3" height="3.6" fill="#FFA500" shape-rendering="crispEdges"/>
<rect x="282" y="448.5" width="3" height="9.1" fill="#FF0000" shape-rendering="crispEdges"/>
<rect x="286" y="448.5" width="3" height="13.9" fill="#FF0000" shape-rendering="crispEdges"/>
<rect x="290" y="448.5" width="3" height="18.7" fill="#FF0000" shape-rendering="crispEdges"/>
<rect x="294" y="448.5" width="3" height="23.5" fill="#FF0000" shape-rendering="crispEdges"/>
<rect x="298" y="448.5" width="3" height="28.0" fill="#FF0000" shape-rendering="crispEdges"/>
<rect x="302" y="448.5" width="3" height="32.5" fill="#FF0000" shape-rendering="crispEdges"/>
<rect x="306" y="448.5" width="3" height="35.9" fill="#FF0000" shape-rendering="crispEdges"/>
<rect x="310" y="448.5" width="3" height="36.8" fill="#FF0000" shape-rendering="crispEdges"/>
<rect x="314" y="448.5" width="3" height="34.6" fill="#FFA500" shape-rendering="crispEdges"/>
<rect x="318" y="448.5" width="3" height="30.7" fill="#FFA500" shape-rendering="crispEdges"/>
<rect x="322" y="448.5" width="3" height="26.6" fill="#FFA500" shape-rendering="crispEdges"/>
<rect x="326" y="448.5" width="3" height="22.3" fill="#FFA500" shape-rendering="crispEdges"/>
<rect x="330" y="448.5" width="3" height="18.0" fill="#FFA500" shape-rendering="crispEdges"/>
<rect x="334" y="448.5" width="3" height="13.3" fill="#FFA500" shape-rendering="crispEdges"/>
<rect x="338" y="448.5" width="3" height="8.7" fill="#FFA500" shape-rendering="crispEdges"/>
<rect x="342" y="448.5" width="3" height="3.9" fill="#FFA500" shape-rendering="crispEdges"/>
<rect x="346" y="447.3" width="3" height="1.2" fill="#008000" shape-rendering="crispEdges"/>
<rect x="350" y="443.0" width="3" height="5.5" fill="#008000" shape-rendering="crispEdges"/>
<rect x="354" y="439.0" width="3" height="9.5" fill="#008000" shape-rendering="crispEdges"/>
<rect x="358" y="435.5" width="3" height="13.0" fill="#008000" shape-rendering="crispEdges"/>
<rect x="362" y="433.2" width="3" height="15.3" fill="#008000" shape-rendering="crispEdges"/>
<rect x="366" y="433.2" width="3" height="15.3" fill="#00FF00" shape-rendering="crispEdges"/>
<rect x="370" y="434.2" width="3" height="14.3" fill="#00FF00" shape-rendering="crispEdges"/>
<rect x="374" y="435.7" width="3" height="12.8" fill="#00FF00" shape-rendering="crispEdges"/>
<rect x="378" y="439.6" width="3" height="8.9" fill="#00FF00" shape-rendering="crispEdges"/>
<rect x="382" y="443.4" width="3" height="5.1" fill="#00FF00" shape-rendering="crispEdges"/>
<rect x="386" y="446.9" width="3" height="1.6" fill="#FFA500" shape-rendering="crispEdges"/>
<rect x="390" y="448.5" width="3" height="2.3" fill="#FFA500" shape-rendering="crispEdges"/>
<rect x="394" y="448.5" width="3" height="3.2" fill="#FFA500" shape-rendering="crispEdges"/>
<rect x="398" y="448.5" width="3" height="3.4" fill="#FFA500" shape-rendering="crispEdges"/>
<rect x="402" y="448.5" width="3" height="3.5" fill="#FFA500" shape-rendering="crispEdges"/>
<rect x="406" y="448.5" width="3" height="3.7" fill="#FFA500" shape-rendering="crispEdges"/>
<rect x="410" y="448.5" width="3" height="4.2" fill="#FFA500" shape-rendering="crispEdges"/>
<rect x="414" y="448.5" width="3" height="4.7" fill="#FFA500" shape-rendering="crispEdges"/>
<rect x="418" y="448.5" width="3" height="5.2" fill="#FFA500" shape-rendering="crispEdges"/>
<rect x="422" y="448.5" width="3" height="5.0" fill="#FFA500" shape-rendering="crispEdges"/>
<rect x="426" y="448.5" width="3" height="4.8" fill="#FFA500" shape-rendering="crispEdges"/>
<rect x="430" y="448.5" width="3" height="4.5" fill="#FFA500" shape-rendering="crispEdges"/>
<rect x="434" y="448.5" width="3" height="4.2" fill="#FFA500" shape-rendering="crispEdges"/>
<rect x="438" y="448.5" width="3" height="3.9" fill="#FFA500" shape-rendering="crispEdges"/>
<rect x="442" y="448.5" width="3" height="3.3" fill="#FFA500" shape-rendering="crispEdges"/>
<rect x="446" y="448.5" width="3" height="2.7" fill="#FFA500" shape-rendering="crispEdges"/>
<rect x="450" y="448.5" width="3" height="1.9" fill="#FFA500" shape-rendering="crispEdges"/>
<rect x="454" y="448.5" width="3" height="0.8" fill="#FFA500" shape-rendering="crispEdges"/>
<rect x="462" y="445.9" width="3" height="2.6" fill="#008000" shape-rendering="crispEdges"/>
<rect x="466" y="444.0" width="3" height="4.5" fill="#008000" shape-rendering="crispEdges"/>
<rect x="470" y="442.4" width="3" height="6.1" fill="#008000" shape-rendering="crispEdges"/>
<rect x="474" y="442.1" width="3" height="6.4" fill="#008000" shape-rendering="crispEdges"/>
<rect x="478" y="443.6" width="3" height="4.9" fill="#008000" shape-rendering="crispEdges"/>
<rect x="482" y="444.9" width="3" height="3.6" fill="#008000" shape-rendering="crispEdges"/>
<rect x="498" y="448.5" width="3" height="4.8" fill="#FF0000" shape-rendering="crispEdges"/>
<rect x="502" y="448.5" width="3" height="7.5" fill="#FF0000" shape-rendering="crispEdges"/>
<rect x="506" y="448.5" width="3" height="10.3" fill="#FF0000" shape-rendering="crispEdges"/>
<rect x="510" y="448.5" width="3" height="13.3" fill="#FF0000" shape-rendering="crispEdges"/>
<rect x="514" y="448.5" width="3" height="16.3" fill="#FF0000" shape-rendering="crispEdges"/>
<rect x="518" y="448.5" width="3" height="20.3" fill="#FF0000" shape-rendering="crispEdges"/>
<rect x="522" y="448.5" width="3" height="23.7" fill="#FF0000" shape-rendering="crispEdges"/>
<rect x="526" y="448.5" width="3" height="25.9" fill="#FF0000" shape-rendering="crispEdges"/>
<rect x="530" y="448.5" width="3" height="27.8" fill="#FF0000" shape-rendering="crispEdges"/>
<rect x="534" y="448.5" width="3" height="29.1" fill="#FF0000" shape-rendering="crispEdges"/>
<rect x="538" y="448.5" width="3" height="29.3" fill="#FF0000" shape-rendering="crispEdges"/>
<rect x="542" y="448.5" width="3" height="29.3" fill="#FFA500" shape-rendering="crispEdges"/>
<rect x="546" y="448.5" width="3" height="29.1" fill="#FFA500" shape-rendering="crispEdges"/>
<rect x="550" y="448.5" width="3" height="26.0" fill="#FFA500" shape-rendering="crispEdges"/>
<rect x="554" y="448.5" width="3" height="23.0" fill="#FFA500" shape-rendering="crispEdges"/>
<rect x="558" y="448.5" width="3" height="21.3" fill="#FFA500" shape-rendering="crispEdges"/>
<rect x="562" y="448.5" width="3" height="19.6" fill="#FFA500" shape-rendering="crispEdges"/>
<rect x="566" y="448.5" width="3" height="18.3" fill="#FFA500" shape-rendering="crispEdges"/>
<rect x="570" y="448.5" width="3" height="15.0" fill="#FFA500" shape-rendering="crispEdges"/>
<rect x="574" y="448.5" width="3" height="10.7" fill="#FFA500" shape-rendering="crispEdges"/>
<rect x="578" y="448.5" width="3" height="6.4" fill="#FFA500" shape-rendering="crispEdges"/>
<rect x="582" y="448.5" width="3" height="2.3" fill="#FFA500" shape-rendering="crispEdges"/>
<rect x="586" y="446.5" width="3" height="2.0" fill="#FFA500" shape-rendering="crispEdges"/>
<rect x="590" y="442.5" width="3" height="6.0" fill="#008000" shape-rendering="crispEdges"/>
<rect x="594" y="439.5" width="3" height="9.0" fill="#008000" shape-rendering="crispEdges"/>
<rect x="598" y="438.0" width="3" height="10.5" fill="#008000" shape-rendering="crispEdges"/>
<rect x="602" y="438.4" width="3" height="10.1" fill="#00FF00" shape-rendering="crispEdges"/>
<rect x="606" y="439.2" width="3" height="9.3" fill="#00FF00" shape-rendering="crispEdges"/>
<rect x="610" y="439.1" width="3" height="9.4" fill="#00FF00" shape-rendering="crispEdges"/>
<rect x="614" y="437.0" width="3" height="11.5" fill="#008000" shape-rendering="crispEdges"/>
<rect x="618" y="435.2" width="3" height="13.3" fill="#008000" shape-rendering="crispEdges"/>
<rect x="622" y="434.4" width="3" height="14.1" fill="#008000" shape-rendering="crispEdges"/>
<rect x="626" y="433.9" width="3" height="14.6" fill="#00FF00" shape-rendering="crispEdges"/>
<rect x="630" y="433.8" width="3" height="14.7" fill="#00FF00" shape-rendering="crispEdges"/>
<rect x="634" y="433.7" width="3" height="14.8" fill="#00FF00" shape-rendering="crispEdges"/>
<rect x="638" y="434.6" width="3" height="13.9" fill="#00FF00" shape-rendering="crispEdges"/>
<rect x="642" y="437.0" width="3" height="11.5" fill="#00FF00" shape-rendering="crispEdges"/>
<rect x="646" y="439.8" width="3" height="8.7" fill="#00FF00" shape-rendering="crispEdges"/>
<rect x="650" y="440.0" width="3" height="8.5" fill="#00FF00" shape-rendering="crispEdges"/>
<rect x="654" y="440.2" width="3" height="8.3" fill="#00FF00" shape-rendering="crispEdges"/>
<rect x="658" y="440.6" width="3" height="7.9" fill="#00FF00" shape-rendering="crispEdges"/>
<rect x="662" y="442.4" width="3" height="6.1" fill="#00FF00" shape-rendering="crispEdges"/>
<rect x="666" y="444.2" width="3" height="4.3" fill="#00FF00" shape-rendering="crispEdges"/>
<rect x="670" y="444.8" width="3" height="3.7" fill="#00FF00" shape-rendering="crispEdges"/>
<rect x="718" y="444.1" width="3" height="4.4" fill="#008000" shape-rendering="crispEdges"/>
<rect x="722" y="442.0" width="3" height="6.5" fill="#008000" shape-rendering="crispEdges"/>
<rect x="726" y="438.2" width="3" height="10.3" fill="#008000" shape-rendering="crispEdges"/>
<rect x="730" y="433.2" width="3" height="15.3" fill="#008000" shape-rendering="crispEdges"/>
<rect x="734" y="429.7" width="3" height="18.8" fill="#008000" shape-rendering="crispEdges"/>
<rect x="738" y="426.5" width="3" height="22.0" fill="#008000" shape-rendering="crispEdges"/>
<rect x="742" y="425.7" width="3" height="22.8" fill="#008000" shape-rendering="crispEdges"/>
<rect x="746" y="422.9" width="3" height="25.6" fill="#008000" shape-rendering="crispEdges"/>
<rect x="750" y="419.7" width="3" height="28.8" fill="#008000" shape-rendering="crispEdges"/>
<rect x="754" y="415.7" width="3" height="32.8" fill="#008000" shape-rendering="crispEdges"/>
<rect x="758" y="412.9" width="3" height="35.6" fill="#008000" shape-rendering="crispEdges"/>
<rect x="762" y="412.0" width="3" height="36.5" fill="#008000" shape-rendering="crispEdges"/>
<rect x="766" y="412.2" width="3" height="36.3" fill="#00FF00" shape-rendering="crispEdges"/>
<rect x="770" y="415.2" width="3" height="33.3" fill="#00FF00" shape-rendering="crispEdges"/>
<rect x="774" y="415.8" width="3" height="32.7" fill="#00FF00" shape-rendering="crispEdges"/>
<rect x="778" y="416.0" width="3" height="32.5" fill="#00FF00" shape-rendering="crispEdges"/>
<rect x="782" y="418.8" width="3" height="29.7" fill="#00FF00" shape-rendering="crispEdges"/>
<rect x="786" y="421.8" width="3" height="26.7" fill="#00FF00" shape-rendering="crispEdges"/>
<rect x="790" y="424.6" width="3" height="23.9" fill="#00FF00" shape-rendering="crispEdges"/>
<rect x="794" y="426.8" width="3" height="21.7" fill="#00FF00" shape-rendering="crispEdges"/>
<rect x="798" y="428.9" width="3" height="19.6" fill="#00FF00" shape-rendering="crispEdges"/>
<rect x="802" y="429.8" width="3" height="18.7" fill="#00FF00" shape-rendering="crispEdges"/>
<rect x="806" y="430.8" width="3" height="17.7" fill="#00FF00" shape-rendering="crispEdges"/>
<rect x="810" y="432.0" width="3" height="16.5" fill="#00FF00" shape-rendering="crispEdges"/>
<rect x="814" y="434.0" width="3" height="14.5" fill="#00FF00" shape-rendering="crispEdges"/>
<rect x="818" y="436.0" width="3" height="12.5" fill="#00FF00" shape-rendering="crispEdges"/>
<rect x="822" y="438.0" width="3" height="10.5" fill="#00FF00" shape-rendering="crispEdges"/>
<rect x="826" y="437.5" width="3" height="11.0" fill="#008000" shape-rendering="crispEdges"/>
<rect x="830" y="435.9" width="3" height="12.6" fill="#008000" shape-rendering="crispEdges"/>
<rect x="834" y="434.9" width="3" height="13.6" fill="#008000" shape-rendering="crispEdges"/>
<rect x="838" y="435.3" width="3" height="13.2" fill="#00FF00" shape-rendering="crispEdges"/>
<rect x="842" y="437.2" width="3" height="11.3" fill="#00FF00" shape-rendering="crispEdges"/>
<rect x="846" y="438.7" width="3" height="9.8" fill="#00FF00" shape-rendering="crispEdges"/>
<rect x="850" y="439.7" width="3" height="8.8" fill="#00FF00" shape-rendering="crispEdges"/>
<rect x="854" y="439.3" width="3" height="9.2" fill="#008000" shape-rendering="crispEdges"/>
<rect x="858" y="438.6" width="3" height="9.9" fill="#008000" shape-rendering="crispEdges"/>
<rect x="862" y="438.6" width="3" height="9.9" fill="#00FF00" shape-rendering="crispEdges"/>
<rect x="866" y="439.8" width="3" height="8.7" fill="#00FF00" shape-rendering="crispEdges"/>
<rect x="870" y="439.8" width="3" height="8.7" fill="#00FF00" shape-rendering="crispEdges"/>
<rect x="874" y="439.4" width="3" height="9.1" fill="#00FF00" shape-rendering="crispEdges"/>
<rect x="878" y="438.4" width="3" height="10.1" fill="#008000" shape-rendering="crispEdges"/>
<rect x="882" y="438.2" width="3" height="10.3" fill="#008000" shape-rendering="crispEdges"/>
<rect x="886" y="438.2" width="3" height="10.3" fill="#008000" shape-rendering="crispEdges"/>
<rect x="890" y="438.2" width="3" height="10.3" fill="#008000" shape-rendering="crispEdges"/>
<rect x="894" y="438.7" width="3" height="9.8" fill="#00FF00" shape-rendering="crispEdges"/>
<rect x="898" y="440.0" width="3" height="8.5" fill="#00FF00" shape-rendering="crispEdges"/>
<rect x="902" y="441.0" width="3" height="7.5" fill="#00FF00" shape-rendering="crispEdges"/>
<rect x="906" y="442.0" width="3" height="6.5" fill="#00FF00" shape-rendering="crispEdges"/>
<rect x="910" y="443.0" width="3" height="5.5" fill="#00FF00" shape-rendering="crispEdges"/>
<rect x="914" y="444.1" width="3" height="4.4" fill="#00FF00" shape-rendering="crispEdges"/>
<rect x="918" y="446.3" width="3" height="2.2" fill="#00FF00" shape-rendering="crispEdges"/>
<rect x="926" y="448.5" width="3" height="3.3" fill="#FF0000" shape-rendering="crispEdges"/>
<rect x="930" y="448.5" width="3" height="5.0" fill="#FF0000" shape-rendering="crispEdges"/>
<rect x="934" y="448.5" width="3" height="6.6" fill="#FF0000" shape-rendering="crispEdges"/>
<rect x="938" y="448.5" width="3" height="8.1" fill="#FF0000" shape-rendering="crispEdges"/>
<rect x="942" y="448.5" width="3" height="8.4" fill="#FF0000" shape-rendering="crispEdges"/>
<rect x="946" y="448.5" width="3" height="8.8" fill="#FF0000" shape-rendering="crispEdges"/>
<rect x="950" y="448.5" width="3" height="9.1" fill="#FF0000" shape-rendering="crispEdges"/>
<rect x="954" y="448.5" width="3" height="9.2" fill="#FF0000" shape-rendering="crispEdges"/>
<rect x="958" y="448.5" width="3" height="9.2" fill="#FFA500" shape-rendering="crispEdges"/>
<rect x="962" y="448.5" width="3" height="9.2" fill="#FFA500" shape-rendering="crispEdges"/>
<rect x="966" y="448.5" width="3" height="7.4" fill="#FFA500" shape-rendering="crispEdges"/>
<rect x="970" y="448.5" width="3" height="3.4" fill="#FFA500" shape-rendering="crispEdges"/>
<rect x="974" y="446.5" width="3" height="2.0" fill="#008000" shape-rendering="crispEdges"/>
<rect x="978" y="443.1" width="3" height="5.4" fill="#008000" shape-rendering="crispEdges"/>
<rect x="982" y="439.3" width="3" height="9.2" fill="#008000" shape-rendering="crispEdges"/>
<rect x="986" y="435.5" width="3" height="13.0" fill="#008000" shape-rendering="crispEdges"/>
<rect x="990" y="432.6" width="3" height="15.9" fill="#008000" shape-rendering="crispEdges"/>
<rect x="994" y="430.6" width="3" height="17.9" fill="#008000" shape-rendering="crispEdges"/>
<rect x="998" y="429.9" width="3" height="18.6" fill="#00FF00" shape-rendering="crispEdges"/>
<rect x="1002" y="430.3" width="3" height="18.2" fill="#00FF00" shape-rendering="crispEdges"/>
<rect x="1006" y="432.1" width="3" height="16.4" fill="#00FF00" shape-rendering="crispEdges"/>
<rect x="1010" y="432.9" width="3" height="15.6" fill="#00FF00" shape-rendering="crispEdges"/>
<rect x="1014" y="433.2" width="3" height="15.3" fill="#00FF00" shape-rendering="crispEdges"/>
<rect x="1018" y="437.2" width="3" height="11.3" fill="#00FF00" shape-rendering="crispEdges"/>
<rect x="1022" y="441.2" width="3" height="7.3" fill="#00FF00" shape-rendering="crispEdges"/>
<rect x="1026" y="445.1" width="3" height="3.4" fill="#00FF00" shape-rendering="crispEdges"/>
<rect x="1034" y="448.5" width="3" height="4.1" fill="#FF0000" shape-rendering="crispEdges"/>
<rect x="1038" y="448.5" width="3" height="8.6" fill="#FF0000" shape-rendering="crispEdges"/>
<rect x="1042" y="448.5" width="3" height="11.9" fill="#FF0000" shape-rendering="crispEdges"/>
<rect x="1046" y="448.5" width="3" height="14.8" fill="#FF0000" shape-rendering="crispEdges"/>
<rect x="1050" y="448.5" width="3" height="15.9" fill="#FF0000" shape-rendering="crispEdges"/>
<rect x="1054" y="448.5" width="3" height="17.0" fill="#FF0000" shape-rendering="crispEdges"/>
<rect x="1058" y="448.5" width="3" height="17.3" fill="#FF0000" shape-rendering="crispEdges"/>
<rect x="1062" y="448.5" width="3" height="17.0" fill="#FFA500" shape-rendering="crispEdges"/>
<rect x="1066" y="448.5" width="3" height="16.0" fill="#FFA500" shape-rendering="crispEdges"/>
<rect x="1070" y="448.5" width="3" height="14.5" fill="#FFA500" shape-rendering="crispEdges"/>
<rect x="1074" y="448.5" width="3" height="13.0" fill="#FFA500" shape-rendering="crispEdges"/>
<rect x="1078" y="448.5" width="3" height="12.7" fill="#FFA500" shape-rendering="crispEdges"/>
<rect x="1082" y="448.5" width="3" height="12.7" fill="#FF0000" shape-rendering="crispEdges"/>
<rect x="1086" y="448.5" width="3" height="13.3" fill="#FF0000" shape-rendering="crispEdges"/>
<rect x="1090" y="448.5" width="3" height="12.1" fill="#FFA500" shape-rendering="crispEdges"/>
<rect x="1094" y="448.5" width="3" height="10.1" fill="#FFA500" shape-rendering="crispEdges"/>
<rect x="1098" y="448.5" width="3" height="9.1" fill="#FFA500" shape-rendering="crispEdges"/>
<rect x="1102" y="448.5" width="3" height="9.0" fill="#FF0000" shape-rendering="crispEdges"/>
<rect x="1106" y="448.5" width="3" height="8.9" fill="#FF0000" shape-rendering="crispEdges"/>
<rect x="1110" y="448.5" width="3" height="8.8" fill="#FFA500" shape-rendering="crispEdges"/>
<rect x="1114" y="448.5" width="3" height="8.0" fill="#FFA500" shape-rendering="crispEdges"/>
<rect x="1118" y="448.5" width="3" height="6.8" fill="#FFA500" shape-rendering="crispEdges"/>
<rect x="1122" y="448.5" width="3" height="4.8" fill="#FFA500" shape-rendering="crispEdges"/>
<rect x="1126" y="448.5" width="3" height="3.3" fill="#FFA500" shape-rendering="crispEdges"/>
<rect x="1130" y="448.5" width="3" height="2.3" fill="#FFA500" shape-rendering="crispEdges"/>
<rect x="1134" y="448.5" width="3" height="1.5" fill="#FFA500" shape-rendering="crispEdges"/>
<rect x="1138" y="448.5" width="3" height="0.6" fill="#FFA500" shape-rendering="crispEdges"/>
<rect x="1154" y="448.5" width="3" height="2.2" fill="#FFA500" shape-rendering="crispEdges"/>
<rect x="1158" y="448.5" width="3" height="3.9" fill="#FF0000" shape-rendering="crispEdges"/>
<rect x="1162" y="448.5" width="3" height="5.9" fill="#FF0000" shape-rendering="crispEdges"/>
<rect x="1166" y="448.5" width="3" height="8.0" fill="#FF0000" shape-rendering="crispEdges"/>
<rect x="1170" y="448.5" width="3" height="8.6" fill="#FF0000" shape-rendering="crispEdges"/>
<polyline points="3.0,450.7 7.0,455.0 11.0,459.7 15.0,464.4 19.0,469.1 23.0,473.7 27.0,477.9 31.0,482.1 35.0,486.3 39.0,490.0 43.0,491.2 47.0,491.5 51.0,489.9 55.0,486.5 59.0,482.8 63.0,479.1 67.0,475.3 71.0,470.1 75.0,464.8 79.0,460.9 83.0,457.4 87.0,454.8 91.0,451.7 95.0,448.1 99.0,444.2 103.0,440.8 107.0,439.8 111.0,439.8 115.0,439.8 119.0,439.8 123.0,439.8 127.0,439.9 131.0,441.7 135.0,442.1 139.0,442.3 143.0,444.1 147.0,444.8 151.0,444.8 155.0,444.8 159.0,444.8 163.0,444.8 167.0,444.6 171.0,442.6 175.0,441.8 179.0,441.1 183.0,441.0 187.0,442.2 191.0,444.4 195.0,447.0 199.0,449.1 203.0,450.8 207.0,452.5 211.0,455.4 215.0,458.2 219.0,459.8 223.0,461.5 227.0,462.6 231.0,463.3 235.0,463.5 239.0,463.0 243.0,462.5 247.0,461.3 251.0,459.3 255.0,457.3 259.0,455.3 263.0,453.3 267.0,452.6 271.0,451.9 275.0,452.1 279.0,453.6 283.0,457.6 287.0,462.4 291.0,467.2 295.0,472.0 299.0,476.5 303.0,481.0 307.0,484.4 311.0,485.3 315.0,483.1 319.0,479.2 323.0,475.1 327.0,470.8 331.0,466.5 335.0,461.8 339.0,457.2 343.0,452.4 347.0,447.3 351.0,443.0 355.0,439.0 359.0,435.5 363.0,433.2 367.0,433.2 371.0,434.2 375.0,435.7 379.0,439.6 383.0,443.4 387.0,446.9 391.0,450.8 395.0,451.7 399.0,451.9 403.0,452.0 407.0,452.2 411.0,452.7 415.0,453.2 419.0,453.7 423.0,453.5 427.0,453.3 431.0,453.0 435.0,452.7 439.0,452.4 443.0,451.8 447.0,451.2 451.0,450.4 455.0,449.3 459.0,448.0 463.0,445.9 467.0,444.0 471.0,442.4 475.0,442.1 479.0,443.6 483.0,444.9 487.0,446.7 491.0,448.7 495.0,450.7 499.0,453.3 503.0,456.0 507.0,458.8 511.0,461.8 515.0,464.8 519.0,468.8 523.0,472.2 527.0,474.4 531.0,476.3 535.0,477.6 539.0,477.8 543.0,477.8 547.0,477.6 551.0,474.5 555.0,471.5 559.0,469.8 563.0,468.1 567.0,466.8 571.0,463.5 575.0,459.2 579.0,454.9 583.0,450.8 587.0,446.5 591.0,442.5 595.0,439.5 599.0,438.0 603.0,438.4 607.0,439.2 611.0,439.1 615.0,437.0 619.0,435.2 623.0,434.4 627.0,433.9 631.0,433.8 635.0,433.7 639.0,434.6 643.0,437.0 647.0,439.8 651.0,440.0 655.0,440.2 659.0,440.6 663.0,442.4 667.0,444.2 671.0,444.8 675.0,444.8 679.0,444.8 683.0,444.8 687.0,445.2 691.0,445.6 695.0,446.0 699.0,446.4 703.0,446.1 707.0,445.5 711.0,445.0 715.0,444.5 719.0,444.1 723.0,442.0 727.0,438.2 731.0,433.2 735.0,429.7 739.0,426.5 743.0,425.7 747.0,422.9 751.0,419.7 755.0,415.7 759.0,412.9 763.0,412.0 767.0,412.2 771.0,415.2 775.0,415.8 779.0,416.0 783.0,418.8 787.0,421.8 791.0,424.6 795.0,426.8 799.0,428.9 803.0,429.8 807.0,430.8 811.0,432.0 815.0,434.0 819.0,436.0 823.0,438.0 827.0,437.5 831.0,435.9 835.0,434.9 839.0,435.3 843.0,437.2 847.0,438.7 851.0,439.7 855.0,439.3 859.0,438.6 863.0,438.6 867.0,439.8 871.0,439.8 875.0,439.4 879.0,438.4 883.0,438.2 887.0,438.2 891.0,438.2 895.0,438.7 899.0,440.0 903.0,441.0 907.0,442.0 911.0,443.0 915.0,444.1 919.0,446.3 923.0,449.4 927.0,451.8 931.0,453.5 935.0,455.1 939.0,456.6 943.0,456.9 947.0,457.3 951.0,457.6 955.0,457.7 959.0,457.7 963.0,457.7 967.0,455.9 971.0,451.9 975.0,446.5 979.0,443.1 983.0,439.3 987.0,435.5 991.0,432.6 995.0,430.6 999.0,429.9 1003.0,430.3 1007.0,432.1 1011.0,432.9 1015.0,433.2 1019.0,437.2 1023.0,441.2 1027.0,445.1 1031.0,448.6 1035.0,452.6 1039.0,457.1 1043.0,460.4 1047.0,463.3 1051.0,464.4 1055.0,465.5 1059.0,465.8 1063.0,465.5 1067.0,464.5 1071.0,463.0 1075.0,461.5 1079.0,461.2 1083.0,461.2 1087.0,461.8 1091.0,460.6 1095.0,458.6 1099.0,457.6 1103.0,457.5 1107.0,457.4 1111.0,457.3 1115.0,456.5 1119.0,455.3 1123.0,453.3 1127.0,451.8 1131.0,450.8 1135.0,450.0 1139.0,449.1 1143.0,448.5 1147.0,448.5 1151.0,448.9 1155.0,450.7 1159.0,452.4 1163.0,454.4 1167.0,456.5 1171.0,457.1" fill="none" stroke="#808080" stroke-width="2" stroke-linejoin="round" />
<circle cx="115.5" cy="448.0" r="2.9" fill="#E6E6FA"/>
<circle cx="119.5" cy="448.0" r="2.9" fill="#E6E6FA"/>
<circle cx="123.5" cy="448.0" r="2.9" fill="#E6E6FA"/>
<circle cx="127.5" cy="448.0" r="2.9" fill="#E6E6FA"/>
<circle cx="131.5" cy="448.0" r="2.9" fill="#E6E6FA"/>
<circle cx="135.5" cy="448.0" r="2.9" fill="#E6E6FA"/>
<circle cx="139.5" cy="448.0" r="2.9" fill="#E6E6FA"/>
<circle cx="143.5" cy="448.0" r="2.9" fill="#E6E6FA"/>
<circle cx="147.5" cy="448.0" r="2.9" fill="#E6E6FA"/>
<circle cx="151.5" cy="448.0" r="2.9" fill="#E6E6FA"/>
<circle cx="155.5" cy="448.0" r="2.9" fill="#E6E6FA"/>
<circle cx="159.5" cy="448.0" r="2.9" fill="#E6E6FA"/>
<circle cx="163.5" cy="448.0" r="2.9" fill="#E6E6FA"/>
<circle cx="167.5" cy="448.0" r="2.9" fill="#E6E6FA"/>
<circle cx="171.5" cy="448.0" r="2.9" fill="#E6E6FA"/>
<circle cx="175.5" cy="448.0" r="2.9" fill="#E6E6FA"/>
<circle cx="179.5" cy="448.0" r="2.9" fill="#E6E6FA"/>
<circle cx="183.5" cy="448.0" r="2.9" fill="#E6E6FA"/>
<circle cx="187.5" cy="448.0" r="2.9" fill="#E6E6FA"/>
<circle cx="191.5" cy="448.0" r="2.9" fill="#E6E6FA"/>
<circle cx="195.5" cy="448.0" r="2.9" fill="#E6E6FA"/>
<circle cx="263.5" cy="448.0" r="2.9" fill="#E6E6FA"/>
<circle cx="267.5" cy="448.0" r="2.9" fill="#E6E6FA"/>
<circle cx="271.5" cy="448.0" r="2.9" fill="#E6E6FA"/>
<circle cx="275.5" cy="448.0" r="2.9" fill="#E6E6FA"/>
<circle cx="383.5" cy="448.0" r="2.9" fill="#E6E6FA"/>
<circle cx="387.5" cy="448.0" r="2.9" fill="#E6E6FA"/>
<circle cx="391.5" cy="448.0" r="2.9" fill="#E6E6FA"/>
<circle cx="395.5" cy="448.0" r="2.9" fill="#E6E6FA"/>
<circle cx="399.5" cy="448.0" r="2.9" fill="#E6E6FA"/>
<circle cx="403.5" cy="448.0" r="2.9" fill="#E6E6FA"/>
<circle cx="407.5" cy="448.0" r="2.9" fill="#E6E6FA"/>
<circle cx="411.5" cy="448.0" r="2.9" fill="#E6E6FA"/>
<circle cx="415.5" cy="448.0" r="2.9" fill="#E6E6FA"/>
<circle cx="419.5" cy="448.0" r="2.9" fill="#E6E6FA"/>
<circle cx="423.5" cy="448.0" r="2.9" fill="#E6E6FA"/>
<circle cx="427.5" cy="448.0" r="2.9" fill="#E6E6FA"/>
<circle cx="431.5" cy="448.0" r="2.9" fill="#E6E6FA"/>
<circle cx="435.5" cy="448.0" r="2.9" fill="#E6E6FA"/>
<circle cx="439.5" cy="448.0" r="2.9" fill="#E6E6FA"/>
<circle cx="443.5" cy="448.0" r="2.9" fill="#E6E6FA"/>
<circle cx="447.5" cy="448.0" r="2.9" fill="#E6E6FA"/>
<circle cx="451.5" cy="448.0" r="2.9" fill="#E6E6FA"/>
<circle cx="455.5" cy="448.0" r="2.9" fill="#E6E6FA"/>
<circle cx="459.5" cy="448.0" r="2.9" fill="#E6E6FA"/>
<circle cx="463.5" cy="448.0" r="2.9" fill="#E6E6FA"/>
<circle cx="467.5" cy="448.0" r="2.9" fill="#E6E6FA"/>
<circle cx="471.5" cy="448.0" r="2.9" fill="#E6E6FA"/>
<circle cx="475.5" cy="448.0" r="2.9" fill="#E6E6FA"/>
<circle cx="479.5" cy="448.0" r="2.9" fill="#E6E6FA"/>
<circle cx="483.5" cy="448.0" r="2.9" fill="#E6E6FA"/>
<circle cx="487.5" cy="448.0" r="2.9" fill="#E6E6FA"/>
<circle cx="491.5" cy="448.0" r="2.9" fill="#E6E6FA"/>
<circle cx="495.5" cy="448.0" r="2.9" fill="#E6E6FA"/>
<circle cx="587.5" cy="448.0" r="2.9" fill="#E6E6FA"/>
<circle cx="591.5" cy="448.0" r="2.9" fill="#E6E6FA"/>
<circle cx="595.5" cy="448.0" r="2.9" fill="#E6E6FA"/>
<circle cx="599.5" cy="448.0" r="2.9" fill="#E6E6FA"/>
<circle cx="603.5" cy="448.0" r="2.9" fill="#E6E6FA"/>
<circle cx="607.5" cy="448.0" r="2.9" fill="#E6E6FA"/>
<circle cx="611.5" cy="448.0" r="2.9" fill="#E6E6FA"/>
<circle cx="615.5" cy="448.0" r="2.9" fill="#E6E6FA"/>
<circle cx="647.5" cy="448.0" r="2.9" fill="#E6E6FA"/>
<circle cx="651.5" cy="448.0" r="2.9" fill="#E6E6FA"/>
<circle cx="655.5" cy="448.0" r="2.9" fill="#E6E6FA"/>
<circle cx="659.5" cy="448.0" r="2.9" fill="#E6E6FA"/>
<circle cx="663.5" cy="448.0" r="2.9" fill="#E6E6FA"/>
<circle cx="667.5" cy="448.0" r="2.9" fill="#E6E6FA"/>
<circle cx="671.5" cy="448.0" r="2.9" fill="#E6E6FA"/>
<circle cx="675.5" cy="448.0" r="2.9" fill="#E6E6FA"/>
<circle cx="679.5" cy="448.0" r="2.9" fill="#E6E6FA"/>
<circle cx="683.5" cy="448.0" r="2.9" fill="#E6E6FA"/>
<circle cx="687.5" cy="448.0" r="2.9" fill="#E6E6FA"/>
<circle cx="691.5" cy="448.0" r="2.9" fill="#E6E6FA"/>
<circle cx="695.5" cy="448.0" r="2.9" fill="#E6E6FA"/>
<circle cx="699.5" cy="448.0" r="2.9" fill="#E6E6FA"/>
<circle cx="703.5" cy="448.0" r="2.9" fill="#E6E6FA"/>
<circle cx="707.5" cy="448.0" r="2.9" fill="#E6E6FA"/>
<circle cx="711.5" cy="448.0" r="2.9" fill="#E6E6FA"/>
<circle cx="715.5" cy="448.0" r="2.9" fill="#E6E6FA"/>
<circle cx="719.5" cy="448.0" r="2.9" fill="#E6E6FA"/>
<circle cx="723.5" cy="448.0" r="2.9" fill="#E6E6FA"/>
<circle cx="899.5" cy="448.0" r="2.9" fill="#E6E6FA"/>
<circle cx="903.5" cy="448.0" r="2.9" fill="#E6E6FA"/>
<circle cx="907.5" cy="448.0" r="2.9" fill="#E6E6FA"/>
<circle cx="911.5" cy="448.0" r="2.9" fill="#E6E6FA"/>
<circle cx="915.5" cy="448.0" r="2.9" fill="#E6E6FA"/>
<circle cx="919.5" cy="448.0" r="2.9" fill="#E6E6FA"/>
<circle cx="923.5" cy="448.0" r="2.9" fill="#E6E6FA"/>
<circle cx="927.5" cy="448.0" r="2.9" fill="#E6E6FA"/>
<circle cx="931.5" cy="448.0" r="2.9" fill="#E6E6FA"/>
<circle cx="935.5" cy="448.0" r="2.9" fill="#E6E6FA"/>
<circle cx="1119.5" cy="448.0" r="2.9" fill="#E6E6FA"/>
<circle cx="1123.5" cy="448.0" r="2.9" fill="#E6E6FA"/>
<circle cx="1127.5" cy="448.0" r="2.9" fill="#E6E6FA"/>
<circle cx="1131.5" cy="448.0" r="2.9" fill="#E6E6FA"/>
<circle cx="1135.5" cy="448.0" r="2.9" fill="#E6E6FA"/>
<circle cx="1139.5" cy="448.0" r="2.9" fill="#E6E6FA"/>
<circle cx="1143.5" cy="448.0" r="2.9" fill="#E6E6FA"/>
<circle cx="1147.5" cy="448.0" r="2.9" fill="#E6E6FA"/>
<circle cx="1151.5" cy="448.0" r="2.9" fill="#E6E6FA"/>
<circle cx="1155.5" cy="448.0" r="2.9" fill="#E6E6FA"/>
<circle cx="3.5" cy="448.0" r="2.9" fill="#800000"/>
<circle cx="7.5" cy="448.0" r="2.9" fill="#800000"/>
<circle cx="11.5" cy="448.0" r="2.9" fill="#800000"/>
<circle cx="15.5" cy="448.0" r="2.9" fill="#800000"/>
<circle cx="19.5" cy="448.0" r="2.9" fill="#800000"/>
<circle cx="23.5" cy="448.0" r="2.9" fill="#800000"/>
<circle cx="27.5" cy="448.0" r="2.9" fill="#800000"/>
<circle cx="31.5" cy="448.0" r="2.9" fill="#800000"/>
<circle cx="35.5" cy="448.0" r="2.9" fill="#800000"/>
<circle cx="39.5" cy="448.0" r="2.9" fill="#800000"/>
<circle cx="43.5" cy="448.0" r="2.9" fill="#800000"/>
<circle cx="47.5" cy="448.0" r="2.9" fill="#800000"/>
<circle cx="51.5" cy="448.0" r="2.9" fill="#800000"/>
<circle cx="55.5" cy="448.0" r="2.9" fill="#800000"/>
<circle cx="59.5" cy="448.0" r="2.9" fill="#800000"/>
<circle cx="63.5" cy="448.0" r="2.9" fill="#800000"/>
<circle cx="67.5" cy="448.0" r="2.9" fill="#800000"/>
<circle cx="71.5" cy="448.0" r="2.9" fill="#800000"/>
<circle cx="75.5" cy="448.0" r="2.9" fill="#800000"/>
<circle cx="79.5" cy="448.0" r="2.9" fill="#800000"/>
<circle cx="83.5" cy="448.0" r="2.9" fill="#800000"/>
<circle cx="87.5" cy="448.0" r="2.9" fill="#800000"/>
<circle cx="91.5" cy="448.0" r="2.9" fill="#800000"/>
<circle cx="95.5" cy="448.0" r="2.9" fill="#800000"/>
<circle cx="99.5" cy="448.0" r="2.9" fill="#800000"/>
<circle cx="103.5" cy="448.0" r="2.9" fill="#800000"/>
<circle cx="107.5" cy="448.0" r="2.9" fill="#800000"/>
<circle cx="111.5" cy="448.0" r="2.9" fill="#800000"/>
<circle cx="199.5" cy="448.0" r="2.9" fill="#800000"/>
<circle cx="203.5" cy="448.0" r="2.9" fill="#800000"/>
<circle cx="207.5" cy="448.0" r="2.9" fill="#800000"/>
<circle cx="211.5" cy="448.0" r="2.9" fill="#800000"/>
<circle cx="215.5" cy="448.0" r="2.9" fill="#800000"/>
<circle cx="219.5" cy="448.0" r="2.9" fill="#800000"/>
<circle cx="223.5" cy="448.0" r="2.9" fill="#800000"/>
<circle cx="227.5" cy="448.0" r="2.9" fill="#800000"/>
<circle cx="231.5" cy="448.0" r="2.9" fill="#800000"/>
<circle cx="235.5" cy="448.0" r="2.9" fill="#800000"/>
<circle cx="239.5" cy="448.0" r="2.9" fill="#800000"/>
<circle cx="243.5" cy="448.0" r="2.9" fill="#800000"/>
<circle cx="247.5" cy="448.0" r="2.9" fill="#800000"/>
<circle cx="251.5" cy="448.0" r="2.9" fill="#800000"/>
<circle cx="255.5" cy="448.0" r="2.9" fill="#800000"/>
<circle cx="259.5" cy="448.0" r="2.9" fill="#800000"/>
<circle cx="279.5" cy="448.0" r="2.9" fill="#800000"/>
<circle cx="283.5" cy="448.0" r="2.9" fill="#800000"/>
<circle cx="287.5" cy="448.0" r="2.9" fill="#800000"/>
<circle cx="291.5" cy="448.0" r="2.9" fill="#800000"/>
<circle cx="295.5" cy="448.0" r="2.9" fill="#800000"/>
<circle cx="299.5" cy="448.0" r="2.9" fill="#800000"/>
<circle cx="303.5" cy="448.0" r="2.9" fill="#800000"/>
<circle cx="307.5" cy="448.0" r="2.9" fill="#800000"/>
<circle cx="311.5" cy="448.0" r="2.9" fill="#800000"/>
<circle cx="315.5" cy="448.0" r="2.9" fill="#800000"/>
<circle cx="319.5" cy="448.0" r="2.9" fill="#800000"/>
<circle cx="323.5" cy="448.0" r="2.9" fill="#800000"/>
<circle cx="327.5" cy="448.0" r="2.9" fill="#800000"/>
<circle cx="331.5" cy="448.0" r="2.9" fill="#800000"/>
<circle cx="335.5" cy="448.0" r="2.9" fill="#800000"/>
<circle cx="339.5" cy="448.0" r="2.9" fill="#800000"/>
<circle cx="343.5" cy="448.0" r="2.9" fill="#800000"/>
<circle cx="347.5" cy="448.0" r="2.9" fill="#800000"/>
<circle cx="351.5" cy="448.0" r="2.9" fill="#800000"/>
<circle cx="355.5" cy="448.0" r="2.9" fill="#800000"/>
<circle cx="359.5" cy="448.0" r="2.9" fill="#800000"/>
<circle cx="363.5" cy="448.0" r="2.9" fill="#800000"/>
<circle cx="367.5" cy="448.0" r="2.9" fill="#800000"/>
<circle cx="371.5" cy="448.0" r="2.9" fill="#800000"/>
<circle cx="375.5" cy="448.0" r="2.9" fill="#800000"/>
<circle cx="379.5" cy="448.0" r="2.9" fill="#800000"/>
<circle cx="499.5" cy="448.0" r="2.9" fill="#800000"/>
<circle cx="503.5" cy="448.0" r="2.9" fill="#800000"/>
<circle cx="507.5" cy="448.0" r="2.9" fill="#800000"/>
<circle cx="511.5" cy="448.0" r="2.9" fill="#800000"/>
<circle cx="515.5" cy="448.0" r="2.9" fill="#800000"/>
<circle cx="519.5" cy="448.0" r="2.9" fill="#800000"/>
<circle cx="523.5" cy="448.0" r="2.9" fill="#800000"/>
<circle cx="527.5" cy="448.0" r="2.9" fill="#800000"/>
<circle cx="531.5" cy="448.0" r="2.9" fill="#800000"/>
<circle cx="535.5" cy="448.0" r="2.9" fill="#800000"/>
<circle cx="539.5" cy="448.0" r="2.9" fill="#800000"/>
<circle cx="543.5" cy="448.0" r="2.9" fill="#800000"/>
<circle cx="547.5" cy="448.0" r="2.9" fill="#800000"/>
<circle cx="551.5" cy="448.0" r="2.9" fill="#800000"/>
<circle cx="555.5" cy="448.0" r="2.9" fill="#800000"/>
<circle cx="559.5" cy="448.0" r="2.9" fill="#800000"/>
<circle cx="563.5" cy="448.0" r="2.9" fill="#800000"/>
<circle cx="567.5" cy="448.0" r="2.9" fill="#800000"/>
<circle cx="571.5" cy="448.0" r="2.9" fill="#800000"/>
<circle cx="575.5" cy="448.0" r="2.9" fill="#800000"/>
<circle cx="579.5" cy="448.0" r="2.9" fill="#800000"/>
<circle cx="583.5" cy="448.0" r="2.9" fill="#800000"/>
<circle cx="619.5" cy="448.0" r="2.9" fill="#800000"/>
<circle cx="623.5" cy="448.0" r="2.9" fill="#800000"/>
<circle cx="627.5" cy="448.0" r="2.9" fill="#800000"/>
<circle cx="631.5" cy="448.0" r="2.9" fill="#800000"/>
<circle cx="635.5" cy="448.0" r="2.9" fill="#800000"/>
<circle cx="639.5" cy="448.0" r="2.9" fill="#800000"/>
<circle cx="643.5" cy="448.0" r="2.9" fill="#800000"/>
<circle cx="727.5" cy="448.0" r="2.9" fill="#800000"/>
<circle cx="731.5" cy="448.0" r="2.9" fill="#800000"/>
<circle cx="735.5" cy="448.0" r="2.9" fill="#800000"/>
<circle cx="739.5" cy="448.0" r="2.9" fill="#800000"/>
<circle cx="743.5" cy="448.0" r="2.9" fill="#800000"/>
<circle cx="747.5" cy="448.0" r="2.9" fill="#800000"/>
<circle cx="751.5" cy="448.0" r="2.9" fill="#800000"/>
<circle cx="755.5" cy="448.0" r="2.9" fill="#800000"/>
<circle cx="759.5" cy="448.0" r="2.9" fill="#800000"/>
<circle cx="763.5" cy="448.0" r="2.9" fill="#800000"/>
<circle cx="767.5" cy="448.0" r="2.9" fill="#800000"/>
<circle cx="771.5" cy="448.0" r="2.9" fill="#800000"/>
<circle cx="775.5" cy="448.0" r="2.9" fill="#800000"/>
<circle cx="779.5" cy="448.0" r="2.9" fill="#800000"/>
<circle cx="783.5" cy="448.0" r="2.9" fill="#800000"/>
<circle cx="787.5" cy="448.0" r="2.9" fill="#800000"/>
<circle cx="791.5" cy="448.0" r="2.9" fill="#800000"/>
<circle cx="795.5" cy="448.0" r="2.9" fill="#800000"/>
<circle cx="799.5" cy="448.0" r="2.9" fill="#800000"/>
<circle cx="803.5" cy="448.0" r="2.9" fill="#800000"/>
<circle cx="807.5" cy="448.0" r="2.9" fill="#800000"/>
<circle cx="811.5" cy="448.0" r="2.9" fill="#800000"/>
<circle cx="815.5" cy="448.0" r="2.9" fill="#800000"/>
<circle cx="819.5" cy="448.0" r="2.9" fill="#800000"/>
<circle cx="823.5" cy="448.0" r="2.9" fill="#800000"/>
<circle cx="827.5" cy="448.0" r="2.9" fill="#800000"/>
<circle cx="831.5" cy="448.0" r="2.9" fill="#800000"/>
<circle cx="835.5" cy="448.0" r="2.9" fill="#800000"/>
<circle cx="839.5" cy="448.0" r="2.9" fill="#800000"/>
<circle cx="843.5" cy="448.0" r="2.9" fill="#800000"/>
<circle cx="847.5" cy="448.0" r="2.9" fill="#800000"/>
<circle cx="851.5" cy="448.0" r="2.9" fill="#800000"/>
<circle cx="855.5" cy="448.0" r="2.9" fill="#800000"/>
<circle cx="859.5" cy="448.0" r="2.9" fill="#800000"/>
<circle cx="863.5" cy="448.0" r="2.9" fill="#800000"/>
<circle cx="867.5" cy="448.0" r="2.9" fill="#800000"/>
<circle cx="871.5" cy="448.0" r="2.9" fill="#800000"/>
<circle cx="875.5" cy="448.0" r="2.9" fill="#800000"/>
<circle cx="879.5" cy="448.0" r="2.9" fill="#800000"/>
<circle cx="883.5" cy="448.0" r="2.9" fill="#800000"/>
<circle cx="887.5" cy="448.0" r="2.9" fill="#800000"/>
<circle cx="891.5" cy="448.0" r="2.9" fill="#800000"/>
<circle cx="895.5" cy="448.0" r="2.9" fill="#800000"/>
<circle cx="939.5" cy="448.0" r="2.9" fill="#800000"/>
<circle cx="943.5" cy="448.0" r="2.9" fill="#800000"/>
<circle cx="947.5" cy="448.0" r="2.9" fill="#800000"/>
<circle cx="951.5" cy="448.0" r="2.9" fill="#800000"/>
<circle cx="955.5" cy="448.0" r="2.9" fill="#800000"/>
<circle cx="959.5" cy="448.0" r="2.9" fill="#800000"/>
<circle cx="963.5" cy="448.0" r="2.9" fill="#800000"/>
<circle cx="967.5" cy="448.0" r="2.9" fill="#800000"/>
<circle cx="971.5" cy="448.0" r="2.9" fill="#800000"/>
<circle cx="975.5" cy="448.0" r="2.9" fill="#800000"/>
<circle cx="979.5" cy="448.0" r="2.9" fill="#800000"/>
<circle cx="983.5" cy="448.0" r="2.9" fill="#800000"/>
<circle cx="987.5" cy="448.0" r="2.9" fill="#800000"/>
<circle cx="991.5" cy="448.0" r="2.9" fill="#800000"/>
<circle cx="995.5" cy="448.0" r="2.9" fill="#800000"/>
<circle cx="999.5" cy="448.0" r="2.9" fill="#800000"/>
<circle cx="1003.5" cy="448.0" r="2.9" fill="#800000"/>
<circle cx="1007.5" cy="448.0" r="2.9" fill="#800000"/>
<circle cx="1011.5" cy="448.0" r="2.9" fill="#800000"/>
<circle cx="1015.5" cy="448.0" r="2.9" fill="#800000"/>
<circle cx="1019.5" cy="448.0" r="2.9" fill="#800000"/>
<circle cx="1023.5" cy="448.0" r="2.9" fill="#800000"/>
<circle cx="1027.5" cy="448.0" r="2.9" fill="#800000"/>
<circle cx="1031.5" cy="448.0" r="2.9" fill="#800000"/>
<circle cx="1035.5" cy="448.0" r="2.9" fill="#800000"/>
<circle cx="1039.5" cy="448.0" r="2.9" fill="#800000"/>
<circle cx="1043.5" cy="448.0" r="2.9" fill="#800000"/>
<circle cx="1047.5" cy="448.0" r="2.9" fill="#800000"/>
<circle cx="1051.5" cy="448.0" r="2.9" fill="#800000"/>
<circle cx="1055.5" cy="448.0" r="2.9" fill="#800000"/>
<circle cx="1059.5" cy="448.0" r="2.9" fill="#800000"/>
<circle cx="1063.5" cy="448.0" r="2.9" fill="#800000"/>
<circle cx="1067.5" cy="448.0" r="2.9" fill="#800000"/>
<circle cx="1071.5" cy="448.0" r="2.9" fill="#800000"/>
<circle cx="1075.5" cy="448.0" r="2.9" fill="#800000"/>
<circle cx="1079.5" cy="448.0" r="2.9" fill="#800000"/>
<circle cx="1083.5" cy="448.0" r="2.9" fill="#800000"/>
<circle cx="1087.5" cy="448.0" r="2.9" fill="#800000"/>
<circle cx="1091.5" cy="448.0" r="2.9" fill="#800000"/>
<circle cx="1095.5" cy="448.0" r="2.9" fill="#800000"/>
<circle cx="1099.5" cy="448.0" r="2.9" fill="#800000"/>
<circle cx="1103.5" cy="448.0" r="2.9" fill="#800000"/>
<circle cx="1107.5" cy="448.0" r="2.9" fill="#800000"/>
<circle cx="1111.5" cy="448.0" r="2.9" fill="#800000"/>
<circle cx="1115.5" cy="448.0" r="2.9" fill="#800000"/>
<circle cx="1159.5" cy="448.0" r="2.9" fill="#800000"/>
<circle cx="1163.5" cy="448.0" r="2.9" fill="#800000"/>
<circle cx="1167.5" cy="448.0" r="2.9" fill="#800000"/>
<circle cx="1171.5" cy="448.0" r="2.9" fill="#800000"/>
<line x1="4" y1="448.5" x2="1310" y2="448.5" stroke="#C9C9C9" stroke-width="1" stroke-dasharray="3 3" shape-rendering="crispEdges"/>
</g>
<polyline points="781.7,410.7 845.0,410.7 846.0,411.5 959.0,411.5 971.7,412.7 986.7,418.2 1008.3,424.3 1016.7,424.8 1028.0,429.3" fill="none" stroke="#000" stroke-width="1.25" stroke-linejoin="round" />
<text x="7.50" y="418.50" font-size="9.8px" fill="#000" text-anchor="start" textLength="211.00" lengthAdjust="spacingAndGlyphs" xml:space="preserve" stroke="#000" stroke-width="0.2" style="text-rendering:geometricPrecision" >H1 CHFJPY bbsqueeze(20) -0.0157 -0.0157 0.0000</text>
<g clip-path="url(#cp4)">
<rect x="2" y="543.5" width="3" height="8.0" fill="#00FF00" shape-rendering="crispEdges"/>
<rect x="6" y="544.1" width="3" height="7.4" fill="#00FF00" shape-rendering="crispEdges"/>
<rect x="10" y="546.1" width="3" height="5.4" fill="#00FF00" shape-rendering="crispEdges"/>
<rect x="14" y="548.7" width="3" height="2.8" fill="#FF0000" shape-rendering="crispEdges"/>
<rect x="22" y="551.5" width="3" height="1.6" fill="#FF0000" shape-rendering="crispEdges"/>
<rect x="26" y="551.5" width="3" height="4.2" fill="#FF0000" shape-rendering="crispEdges"/>
<rect x="30" y="551.5" width="3" height="6.9" fill="#FF0000" shape-rendering="crispEdges"/>
<rect x="34" y="551.5" width="3" height="9.5" fill="#FF0000" shape-rendering="crispEdges"/>
<rect x="38" y="551.5" width="3" height="12.2" fill="#FF0000" shape-rendering="crispEdges"/>
<rect x="42" y="551.5" width="3" height="14.7" fill="#FF0000" shape-rendering="crispEdges"/>
<rect x="46" y="551.5" width="3" height="17.3" fill="#FF0000" shape-rendering="crispEdges"/>
<rect x="50" y="551.5" width="3" height="19.5" fill="#FF0000" shape-rendering="crispEdges"/>
<rect x="54" y="551.5" width="3" height="20.9" fill="#FF0000" shape-rendering="crispEdges"/>
<rect x="58" y="551.5" width="3" height="22.2" fill="#FF0000" shape-rendering="crispEdges"/>
<rect x="62" y="551.5" width="3" height="23.6" fill="#FF0000" shape-rendering="crispEdges"/>
<rect x="66" y="551.5" width="3" height="24.8" fill="#FF0000" shape-rendering="crispEdges"/>
<rect x="70" y="551.5" width="3" height="25.4" fill="#FF0000" shape-rendering="crispEdges"/>
<rect x="74" y="551.5" width="3" height="26.1" fill="#FF0000" shape-rendering="crispEdges"/>
<rect x="78" y="551.5" width="3" height="26.7" fill="#FF0000" shape-rendering="crispEdges"/>
<rect x="82" y="551.5" width="3" height="27.3" fill="#FF0000" shape-rendering="crispEdges"/>
<rect x="86" y="551.5" width="3" height="27.8" fill="#FF0000" shape-rendering="crispEdges"/>
<rect x="90" y="551.5" width="3" height="28.3" fill="#FF0000" shape-rendering="crispEdges"/>
<rect x="94" y="551.5" width="3" height="28.8" fill="#FF0000" shape-rendering="crispEdges"/>
<rect x="98" y="551.5" width="3" height="28.9" fill="#FF0000" shape-rendering="crispEdges"/>
<rect x="102" y="551.5" width="3" height="28.9" fill="#FFA500" shape-rendering="crispEdges"/>
<rect x="106" y="551.5" width="3" height="28.9" fill="#FFA500" shape-rendering="crispEdges"/>
<rect x="110" y="551.5" width="3" height="28.9" fill="#FFA500" shape-rendering="crispEdges"/>
<rect x="114" y="551.5" width="3" height="29.3" fill="#FFA500" shape-rendering="crispEdges"/>
<rect x="118" y="551.5" width="3" height="29.6" fill="#FF0000" shape-rendering="crispEdges"/>
<rect x="122" y="551.5" width="3" height="29.6" fill="#FF0000" shape-rendering="crispEdges"/>
<rect x="126" y="551.5" width="3" height="29.6" fill="#FF0000" shape-rendering="crispEdges"/>
<rect x="130" y="551.5" width="3" height="29.6" fill="#FF0000" shape-rendering="crispEdges"/>
<rect x="134" y="551.5" width="3" height="29.6" fill="#FFA500" shape-rendering="crispEdges"/>
<rect x="138" y="551.5" width="3" height="29.6" fill="#FFA500" shape-rendering="crispEdges"/>
<rect x="142" y="551.5" width="3" height="29.6" fill="#FFA500" shape-rendering="crispEdges"/>
<rect x="146" y="551.5" width="3" height="29.0" fill="#FFA500" shape-rendering="crispEdges"/>
<rect x="150" y="551.5" width="3" height="28.3" fill="#FFA500" shape-rendering="crispEdges"/>
<rect x="154" y="551.5" width="3" height="28.3" fill="#FFA500" shape-rendering="crispEdges"/>
<rect x="158" y="551.5" width="3" height="28.3" fill="#FFA500" shape-rendering="crispEdges"/>
<rect x="162" y="551.5" width="3" height="28.3" fill="#FFA500" shape-rendering="crispEdges"/>
<rect x="166" y="551.5" width="3" height="28.1" fill="#FFA500" shape-rendering="crispEdges"/>
<rect x="170" y="551.5" width="3" height="27.5" fill="#FFA500" shape-rendering="crispEdges"/>
<rect x="174" y="551.5" width="3" height="26.8" fill="#FFA500" shape-rendering="crispEdges"/>
<rect x="178" y="551.5" width="3" height="26.5" fill="#FFA500" shape-rendering="crispEdges"/>
<rect x="182" y="551.5" width="3" height="26.4" fill="#FF0000" shape-rendering="crispEdges"/>
<rect x="186" y="551.5" width="3" height="26.3" fill="#FF0000" shape-rendering="crispEdges"/>
<rect x="190" y="551.5" width="3" height="26.3" fill="#FF0000" shape-rendering="crispEdges"/>
<rect x="194" y="551.5" width="3" height="26.2" fill="#FF0000" shape-rendering="crispEdges"/>
<rect x="198" y="551.5" width="3" height="26.2" fill="#FF0000" shape-rendering="crispEdges"/>
<rect x="202" y="551.5" width="3" height="26.1" fill="#FF0000" shape-rendering="crispEdges"/>
<rect x="206" y="551.5" width="3" height="26.1" fill="#FF0000" shape-rendering="crispEdges"/>
<rect x="210" y="551.5" width="3" height="26.1" fill="#FF0000" shape-rendering="crispEdges"/>
<rect x="214" y="551.5" width="3" height="26.1" fill="#FFA500" shape-rendering="crispEdges"/>
<rect x="218" y="551.5" width="3" height="26.1" fill="#FFA500" shape-rendering="crispEdges"/>
<rect x="222" y="551.5" width="3" height="26.1" fill="#FFA500" shape-rendering="crispEdges"/>
<rect x="226" y="551.5" width="3" height="25.9" fill="#FFA500" shape-rendering="crispEdges"/>
<rect x="230" y="551.5" width="3" height="25.6" fill="#FFA500" shape-rendering="crispEdges"/>
<rect x="234" y="551.5" width="3" height="24.9" fill="#FFA500" shape-rendering="crispEdges"/>
<rect x="238" y="551.5" width="3" height="23.9" fill="#FFA500" shape-rendering="crispEdges"/>
<rect x="242" y="551.5" width="3" height="22.9" fill="#FFA500" shape-rendering="crispEdges"/>
<rect x="246" y="551.5" width="3" height="22.3" fill="#FFA500" shape-rendering="crispEdges"/>
<rect x="250" y="551.5" width="3" height="22.2" fill="#FFA500" shape-rendering="crispEdges"/>
<rect x="254" y="551.5" width="3" height="22.1" fill="#FFA500" shape-rendering="crispEdges"/>
<rect x="258" y="551.5" width="3" height="22.0" fill="#FFA500" shape-rendering="crispEdges"/>
<rect x="262" y="551.5" width="3" height="21.7" fill="#FFA500" shape-rendering="crispEdges"/>
<rect x="266" y="551.5" width="3" height="21.0" fill="#FFA500" shape-rendering="crispEdges"/>
<rect x="270" y="551.5" width="3" height="20.3" fill="#FFA500" shape-rendering="crispEdges"/>
<rect x="274" y="551.5" width="3" height="19.5" fill="#FFA500" shape-rendering="crispEdges"/>
<rect x="278" y="551.5" width="3" height="19.1" fill="#FF0000" shape-rendering="crispEdges"/>
<rect x="282" y="551.5" width="3" height="19.1" fill="#FF0000" shape-rendering="crispEdges"/>
<rect x="286" y="551.5" width="3" height="19.1" fill="#FF0000" shape-rendering="crispEdges"/>
<rect x="290" y="551.5" width="3" height="19.1" fill="#FF0000" shape-rendering="crispEdges"/>
<rect x="294" y="551.5" width="3" height="19.1" fill="#FFA500" shape-rendering="crispEdges"/>
<rect x="298" y="551.5" width="3" height="19.1" fill="#FFA500" shape-rendering="crispEdges"/>
<rect x="302" y="551.5" width="3" height="19.1" fill="#FFA500" shape-rendering="crispEdges"/>
<rect x="306" y="551.5" width="3" height="19.1" fill="#FFA500" shape-rendering="crispEdges"/>
<rect x="310" y="551.5" width="3" height="19.1" fill="#FF0000" shape-rendering="crispEdges"/>
<rect x="314" y="551.5" width="3" height="19.1" fill="#FF0000" shape-rendering="crispEdges"/>
<rect x="318" y="551.5" width="3" height="19.1" fill="#FF0000" shape-rendering="crispEdges"/>
<rect x="322" y="551.5" width="3" height="19.1" fill="#FF0000" shape-rendering="crispEdges"/>
<rect x="326" y="551.5" width="3" height="19.1" fill="#FFA500" shape-rendering="crispEdges"/>
<rect x="330" y="551.5" width="3" height="19.1" fill="#FFA500" shape-rendering="crispEdges"/>
<rect x="334" y="551.5" width="3" height="19.1" fill="#FFA500" shape-rendering="crispEdges"/>
<rect x="338" y="551.5" width="3" height="19.1" fill="#FFA500" shape-rendering="crispEdges"/>
<rect x="342" y="551.5" width="3" height="20.4" fill="#FF0000" shape-rendering="crispEdges"/>
<rect x="346" y="551.5" width="3" height="21.7" fill="#FF0000" shape-rendering="crispEdges"/>
<rect x="350" y="551.5" width="3" height="22.9" fill="#FF0000" shape-rendering="crispEdges"/>
<rect x="354" y="551.5" width="3" height="23.6" fill="#FF0000" shape-rendering="crispEdges"/>
<rect x="358" y="551.5" width="3" height="24.2" fill="#FF0000" shape-rendering="crispEdges"/>
<rect x="362" y="551.5" width="3" height="24.9" fill="#FF0000" shape-rendering="crispEdges"/>
<rect x="366" y="551.5" width="3" height="25.5" fill="#FF0000" shape-rendering="crispEdges"/>
<rect x="370" y="551.5" width="3" height="26.2" fill="#FF0000" shape-rendering="crispEdges"/>
<rect x="374" y="551.5" width="3" height="26.8" fill="#FF0000" shape-rendering="crispEdges"/>
<rect x="378" y="551.5" width="3" height="27.5" fill="#FF0000" shape-rendering="crispEdges"/>
<rect x="382" y="551.5" width="3" height="28.1" fill="#FF0000" shape-rendering="crispEdges"/>
<rect x="386" y="551.5" width="3" height="28.7" fill="#FF0000" shape-rendering="crispEdges"/>
<rect x="390" y="551.5" width="3" height="29.3" fill="#FF0000" shape-rendering="crispEdges"/>
<rect x="394" y="551.5" width="3" height="29.6" fill="#FF0000" shape-rendering="crispEdges"/>
<rect x="398" y="551.5" width="3" height="29.9" fill="#FF0000" shape-rendering="crispEdges"/>
<rect x="402" y="551.5" width="3" height="30.2" fill="#FF0000" shape-rendering="crispEdges"/>
<rect x="406" y="551.5" width="3" height="30.4" fill="#FF0000" shape-rendering="crispEdges"/>
<rect x="410" y="551.5" width="3" height="30.7" fill="#FF0000" shape-rendering="crispEdges"/>
<rect x="414" y="551.5" width="3" height="31.0" fill="#FF0000" shape-rendering="crispEdges"/>
<rect x="418" y="551.5" width="3" height="31.0" fill="#FF0000" shape-rendering="crispEdges"/>
<rect x="422" y="551.5" width="3" height="30.9" fill="#FFA500" shape-rendering="crispEdges"/>
<rect x="426" y="551.5" width="3" height="30.7" fill="#FFA500" shape-rendering="crispEdges"/>
<rect x="430" y="551.5" width="3" height="30.6" fill="#FFA500" shape-rendering="crispEdges"/>
<rect x="434" y="551.5" width="3" height="30.5" fill="#FFA500" shape-rendering="crispEdges"/>
<rect x="438" y="551.5" width="3" height="30.3" fill="#FFA500" shape-rendering="crispEdges"/>
<rect x="442" y="551.5" width="3" height="30.1" fill="#FFA500" shape-rendering="crispEdges"/>
<rect x="446" y="551.5" width="3" height="29.7" fill="#FFA500" shape-rendering="crispEdges"/>
<rect x="450" y="551.5" width="3" height="29.1" fill="#FFA500" shape-rendering="crispEdges"/>
<rect x="454" y="551.5" width="3" height="28.2" fill="#FFA500" shape-rendering="crispEdges"/>
<rect x="458" y="551.5" width="3" height="27.3" fill="#FFA500" shape-rendering="crispEdges"/>
<rect x="462" y="551.5" width="3" height="26.4" fill="#FFA500" shape-rendering="crispEdges"/>
<rect x="466" y="551.5" width="3" height="25.5" fill="#FFA500" shape-rendering="crispEdges"/>
<rect x="470" y="551.5" width="3" height="24.7" fill="#FFA500" shape-rendering="crispEdges"/>
<rect x="474" y="551.5" width="3" height="23.9" fill="#FFA500" shape-rendering="crispEdges"/>
<rect x="478" y="551.5" width="3" height="23.1" fill="#FFA500" shape-rendering="crispEdges"/>
<rect x="482" y="551.5" width="3" height="22.3" fill="#FFA500" shape-rendering="crispEdges"/>
<rect x="486" y="551.5" width="3" height="21.5" fill="#FFA500" shape-rendering="crispEdges"/>
<rect x="490" y="551.5" width="3" height="20.9" fill="#FFA500" shape-rendering="crispEdges"/>
<rect x="494" y="551.5" width="3" height="20.3" fill="#FFA500" shape-rendering="crispEdges"/>
<rect x="498" y="551.5" width="3" height="19.6" fill="#FFA500" shape-rendering="crispEdges"/>
<rect x="502" y="551.5" width="3" height="19.3" fill="#FF0000" shape-rendering="crispEdges"/>
<rect x="506" y="551.5" width="3" height="20.4" fill="#FF0000" shape-rendering="crispEdges"/>
<rect x="510" y="551.5" width="3" height="20.4" fill="#FF0000" shape-rendering="crispEdges"/>
<rect x="514" y="551.5" width="3" height="20.4" fill="#FF0000" shape-rendering="crispEdges"/>
<rect x="518" y="551.5" width="3" height="20.5" fill="#FF0000" shape-rendering="crispEdges"/>
<rect x="522" y="551.5" width="3" height="21.1" fill="#FF0000" shape-rendering="crispEdges"/>
<rect x="526" y="551.5" width="3" height="21.7" fill="#FF0000" shape-rendering="crispEdges"/>
<rect x="530" y="551.5" width="3" height="22.3" fill="#FF0000" shape-rendering="crispEdges"/>
<rect x="534" y="551.5" width="3" height="22.6" fill="#FF0000" shape-rendering="crispEdges"/>
<rect x="538" y="551.5" width="3" height="22.9" fill="#FF0000" shape-rendering="crispEdges"/>
<rect x="542" y="551.5" width="3" height="23.2" fill="#FF0000" shape-rendering="crispEdges"/>
<rect x="546" y="551.5" width="3" height="23.4" fill="#FF0000" shape-rendering="crispEdges"/>
<rect x="550" y="551.5" width="3" height="23.4" fill="#FFA500" shape-rendering="crispEdges"/>
<rect x="554" y="551.5" width="3" height="23.4" fill="#FFA500" shape-rendering="crispEdges"/>
<rect x="558" y="551.5" width="3" height="23.0" fill="#FFA500" shape-rendering="crispEdges"/>
<rect x="562" y="551.5" width="3" height="22.7" fill="#FFA500" shape-rendering="crispEdges"/>
<rect x="566" y="551.5" width="3" height="22.3" fill="#FFA500" shape-rendering="crispEdges"/>
<rect x="570" y="551.5" width="3" height="22.0" fill="#FFA500" shape-rendering="crispEdges"/>
<rect x="574" y="551.5" width="3" height="21.3" fill="#FFA500" shape-rendering="crispEdges"/>
<rect x="578" y="551.5" width="3" height="20.5" fill="#FFA500" shape-rendering="crispEdges"/>
<rect x="582" y="551.5" width="3" height="19.7" fill="#FFA500" shape-rendering="crispEdges"/>
<rect x="586" y="551.5" width="3" height="19.0" fill="#FFA500" shape-rendering="crispEdges"/>
<rect x="590" y="551.5" width="3" height="18.3" fill="#FFA500" shape-rendering="crispEdges"/>
<rect x="594" y="551.5" width="3" height="17.7" fill="#FFA500" shape-rendering="crispEdges"/>
<rect x="598" y="551.5" width="3" height="17.8" fill="#FF0000" shape-rendering="crispEdges"/>
<rect x="602" y="551.5" width="3" height="19.1" fill="#FF0000" shape-rendering="crispEdges"/>
<rect x="606" y="551.5" width="3" height="19.5" fill="#FF0000" shape-rendering="crispEdges"/>
<rect x="610" y="551.5" width="3" height="19.9" fill="#FF0000" shape-rendering="crispEdges"/>
<rect x="614" y="551.5" width="3" height="20.3" fill="#FF0000" shape-rendering="crispEdges"/>
<rect x="618" y="551.5" width="3" height="20.7" fill="#FF0000" shape-rendering="crispEdges"/>
<rect x="622" y="551.5" width="3" height="21.0" fill="#FF0000" shape-rendering="crispEdges"/>
<rect x="626" y="551.5" width="3" height="21.4" fill="#FF0000" shape-rendering="crispEdges"/>
<rect x="630" y="551.5" width="3" height="21.2" fill="#FFA500" shape-rendering="crispEdges"/>
<rect x="634" y="551.5" width="3" height="20.7" fill="#FFA500" shape-rendering="crispEdges"/>
<rect x="638" y="551.5" width="3" height="20.2" fill="#FFA500" shape-rendering="crispEdges"/>
<rect x="642" y="551.5" width="3" height="19.8" fill="#FFA500" shape-rendering="crispEdges"/>
<rect x="646" y="551.5" width="3" height="19.0" fill="#FFA500" shape-rendering="crispEdges"/>
<rect x="650" y="551.5" width="3" height="18.2" fill="#FFA500" shape-rendering="crispEdges"/>
<rect x="654" y="551.5" width="3" height="17.4" fill="#FFA500" shape-rendering="crispEdges"/>
<rect x="658" y="551.5" width="3" height="16.6" fill="#FFA500" shape-rendering="crispEdges"/>
<rect x="662" y="551.5" width="3" height="16.1" fill="#FFA500" shape-rendering="crispEdges"/>
<rect x="666" y="551.5" width="3" height="15.5" fill="#FFA500" shape-rendering="crispEdges"/>
<rect x="670" y="551.5" width="3" height="15.0" fill="#FFA500" shape-rendering="crispEdges"/>
<rect x="674" y="551.5" width="3" height="14.5" fill="#FFA500" shape-rendering="crispEdges"/>
<rect x="678" y="551.5" width="3" height="13.9" fill="#FFA500" shape-rendering="crispEdges"/>
<rect x="682" y="551.5" width="3" height="13.3" fill="#FFA500" shape-rendering="crispEdges"/>
<rect x="686" y="551.5" width="3" height="12.7" fill="#FFA500" shape-rendering="crispEdges"/>
<rect x="690" y="551.5" width="3" height="12.2" fill="#FFA500" shape-rendering="crispEdges"/>
<rect x="694" y="551.5" width="3" height="11.6" fill="#FFA500" shape-rendering="crispEdges"/>
<rect x="698" y="551.5" width="3" height="11.1" fill="#FFA500" shape-rendering="crispEdges"/>
<rect x="702" y="551.5" width="3" height="10.6" fill="#FFA500" shape-rendering="crispEdges"/>
<rect x="706" y="551.5" width="3" height="10.1" fill="#FFA500" shape-rendering="crispEdges"/>
<rect x="710" y="551.5" width="3" height="9.1" fill="#FFA500" shape-rendering="crispEdges"/>
<rect x="714" y="551.5" width="3" height="7.9" fill="#FFA500" shape-rendering="crispEdges"/>
<rect x="718" y="551.5" width="3" height="6.8" fill="#FFA500" shape-rendering="crispEdges"/>
<rect x="722" y="551.5" width="3" height="5.3" fill="#FFA500" shape-rendering="crispEdges"/>
<rect x="726" y="551.5" width="3" height="3.5" fill="#FFA500" shape-rendering="crispEdges"/>
<rect x="730" y="551.5" width="3" height="1.7" fill="#FFA500" shape-rendering="crispEdges"/>
<rect x="738" y="550.1" width="3" height="1.4" fill="#008000" shape-rendering="crispEdges"/>
<rect x="742" y="548.6" width="3" height="2.9" fill="#008000" shape-rendering="crispEdges"/>
<rect x="746" y="547.0" width="3" height="4.5" fill="#008000" shape-rendering="crispEdges"/>
<rect x="750" y="545.4" width="3" height="6.1" fill="#008000" shape-rendering="crispEdges"/>
<rect x="754" y="543.2" width="3" height="8.3" fill="#008000" shape-rendering="crispEdges"/>
<rect x="758" y="540.6" width="3" height="10.9" fill="#008000" shape-rendering="crispEdges"/>
<rect x="762" y="538.1" width="3" height="13.4" fill="#008000" shape-rendering="crispEdges"/>
<rect x="766" y="535.6" width="3" height="15.9" fill="#008000" shape-rendering="crispEdges"/>
<rect x="770" y="533.6" width="3" height="17.9" fill="#008000" shape-rendering="crispEdges"/>
<rect x="774" y="531.6" width="3" height="19.9" fill="#008000" shape-rendering="crispEdges"/>
<rect x="778" y="529.7" width="3" height="21.8" fill="#008000" shape-rendering="crispEdges"/>
<rect x="782" y="527.7" width="3" height="23.8" fill="#008000" shape-rendering="crispEdges"/>
<rect x="786" y="525.6" width="3" height="25.9" fill="#008000" shape-rendering="crispEdges"/>
<rect x="790" y="523.1" width="3" height="28.4" fill="#008000" shape-rendering="crispEdges"/>
<rect x="794" y="520.7" width="3" height="30.8" fill="#008000" shape-rendering="crispEdges"/>
<rect x="798" y="518.3" width="3" height="33.2" fill="#008000" shape-rendering="crispEdges"/>
<rect x="802" y="515.9" width="3" height="35.6" fill="#008000" shape-rendering="crispEdges"/>
<rect x="806" y="514.3" width="3" height="37.2" fill="#008000" shape-rendering="crispEdges"/>
<rect x="810" y="513.0" width="3" height="38.5" fill="#008000" shape-rendering="crispEdges"/>
<rect x="814" y="511.6" width="3" height="39.9" fill="#008000" shape-rendering="crispEdges"/>
<rect x="818" y="510.3" width="3" height="41.2" fill="#008000" shape-rendering="crispEdges"/>
<rect x="822" y="509.3" width="3" height="42.2" fill="#008000" shape-rendering="crispEdges"/>
<rect x="826" y="508.2" width="3" height="43.3" fill="#008000" shape-rendering="crispEdges"/>
<rect x="830" y="507.2" width="3" height="44.3" fill="#008000" shape-rendering="crispEdges"/>
<rect x="834" y="506.1" width="3" height="45.4" fill="#008000" shape-rendering="crispEdges"/>
<rect x="838" y="505.4" width="3" height="46.1" fill="#008000" shape-rendering="crispEdges"/>
<rect x="842" y="505.1" width="3" height="46.4" fill="#008000" shape-rendering="crispEdges"/>
<rect x="846" y="504.7" width="3" height="46.8" fill="#008000" shape-rendering="crispEdges"/>
<rect x="850" y="504.4" width="3" height="47.1" fill="#008000" shape-rendering="crispEdges"/>
<rect x="854" y="504.3" width="3" height="47.2" fill="#008000" shape-rendering="crispEdges"/>
<rect x="858" y="504.3" width="3" height="47.2" fill="#008000" shape-rendering="crispEdges"/>
<rect x="862" y="504.3" width="3" height="47.2" fill="#008000" shape-rendering="crispEdges"/>
<rect x="866" y="504.3" width="3" height="47.2" fill="#008000" shape-rendering="crispEdges"/>
<rect x="870" y="504.3" width="3" height="47.2" fill="#00FF00" shape-rendering="crispEdges"/>
<rect x="874" y="504.3" width="3" height="47.2" fill="#00FF00" shape-rendering="crispEdges"/>
<rect x="878" y="504.3" width="3" height="47.2" fill="#00FF00" shape-rendering="crispEdges"/>
<rect x="882" y="504.3" width="3" height="47.2" fill="#00FF00" shape-rendering="crispEdges"/>
<rect x="886" y="504.3" width="3" height="47.2" fill="#008000" shape-rendering="crispEdges"/>
<rect x="890" y="504.3" width="3" height="47.2" fill="#008000" shape-rendering="crispEdges"/>
<rect x="894" y="504.3" width="3" height="47.2" fill="#008000" shape-rendering="crispEdges"/>
<rect x="898" y="504.3" width="3" height="47.2" fill="#008000" shape-rendering="crispEdges"/>
<rect x="902" y="504.3" width="3" height="47.2" fill="#00FF00" shape-rendering="crispEdges"/>
<rect x="906" y="504.3" width="3" height="47.2" fill="#00FF00" shape-rendering="crispEdges"/>
<rect x="910" y="504.3" width="3" height="47.2" fill="#00FF00" shape-rendering="crispEdges"/>
<rect x="914" y="504.4" width="3" height="47.1" fill="#00FF00" shape-rendering="crispEdges"/>
<rect x="918" y="505.7" width="3" height="45.8" fill="#00FF00" shape-rendering="crispEdges"/>
<rect x="922" y="506.6" width="3" height="44.9" fill="#00FF00" shape-rendering="crispEdges"/>
<rect x="926" y="507.3" width="3" height="44.2" fill="#00FF00" shape-rendering="crispEdges"/>
<rect x="930" y="508.1" width="3" height="43.4" fill="#00FF00" shape-rendering="crispEdges"/>
<rect x="934" y="508.6" width="3" height="42.9" fill="#00FF00" shape-rendering="crispEdges"/>
<rect x="938" y="508.9" width="3" height="42.6" fill="#00FF00" shape-rendering="crispEdges"/>
<rect x="942" y="509.1" width="3" height="42.4" fill="#00FF00" shape-rendering="crispEdges"/>
<rect x="946" y="509.7" width="3" height="41.8" fill="#00FF00" shape-rendering="crispEdges"/>
<rect x="950" y="511.3" width="3" height="40.2" fill="#00FF00" shape-rendering="crispEdges"/>
<rect x="954" y="512.6" width="3" height="38.9" fill="#00FF00" shape-rendering="crispEdges"/>
<rect x="958" y="513.8" width="3" height="37.7" fill="#00FF00" shape-rendering="crispEdges"/>
<rect x="962" y="514.8" width="3" height="36.7" fill="#00FF00" shape-rendering="crispEdges"/>
<rect x="966" y="515.2" width="3" height="36.3" fill="#00FF00" shape-rendering="crispEdges"/>
<rect x="970" y="515.6" width="3" height="35.9" fill="#00FF00" shape-rendering="crispEdges"/>
<rect x="974" y="516.0" width="3" height="35.5" fill="#00FF00" shape-rendering="crispEdges"/>
<rect x="978" y="516.3" width="3" height="35.2" fill="#00FF00" shape-rendering="crispEdges"/>
<rect x="982" y="516.6" width="3" height="34.9" fill="#00FF00" shape-rendering="crispEdges"/>
<rect x="986" y="516.9" width="3" height="34.6" fill="#00FF00" shape-rendering="crispEdges"/>
<rect x="990" y="517.4" width="3" height="34.1" fill="#00FF00" shape-rendering="crispEdges"/>
<rect x="994" y="518.5" width="3" height="33.0" fill="#00FF00" shape-rendering="crispEdges"/>
<rect x="998" y="519.7" width="3" height="31.8" fill="#00FF00" shape-rendering="crispEdges"/>
<rect x="1002" y="520.8" width="3" height="30.7" fill="#00FF00" shape-rendering="crispEdges"/>
<rect x="1006" y="522.5" width="3" height="29.0" fill="#00FF00" shape-rendering="crispEdges"/>
<rect x="1010" y="524.2" width="3" height="27.3" fill="#00FF00" shape-rendering="crispEdges"/>
<rect x="1014" y="525.8" width="3" height="25.7" fill="#00FF00" shape-rendering="crispEdges"/>
<rect x="1018" y="527.5" width="3" height="24.0" fill="#00FF00" shape-rendering="crispEdges"/>
<rect x="1022" y="529.1" width="3" height="22.4" fill="#00FF00" shape-rendering="crispEdges"/>
<rect x="1026" y="530.6" width="3" height="20.9" fill="#00FF00" shape-rendering="crispEdges"/>
<rect x="1030" y="531.9" width="3" height="19.6" fill="#00FF00" shape-rendering="crispEdges"/>
<rect x="1034" y="533.1" width="3" height="18.4" fill="#00FF00" shape-rendering="crispEdges"/>
<rect x="1038" y="534.4" width="3" height="17.1" fill="#00FF00" shape-rendering="crispEdges"/>
<rect x="1042" y="536.0" width="3" height="15.5" fill="#00FF00" shape-rendering="crispEdges"/>
<rect x="1046" y="537.6" width="3" height="13.9" fill="#00FF00" shape-rendering="crispEdges"/>
<rect x="1050" y="539.3" width="3" height="12.2" fill="#00FF00" shape-rendering="crispEdges"/>
<rect x="1054" y="540.8" width="3" height="10.7" fill="#00FF00" shape-rendering="crispEdges"/>
<rect x="1058" y="542.3" width="3" height="9.2" fill="#00FF00" shape-rendering="crispEdges"/>
<rect x="1062" y="543.5" width="3" height="8.0" fill="#00FF00" shape-rendering="crispEdges"/>
<rect x="1066" y="543.7" width="3" height="7.8" fill="#00FF00" shape-rendering="crispEdges"/>
<rect x="1070" y="543.9" width="3" height="7.6" fill="#00FF00" shape-rendering="crispEdges"/>
<rect x="1074" y="545.3" width="3" height="6.2" fill="#00FF00" shape-rendering="crispEdges"/>
<rect x="1078" y="546.8" width="3" height="4.7" fill="#00FF00" shape-rendering="crispEdges"/>
<rect x="1082" y="548.3" width="3" height="3.2" fill="#00FF00" shape-rendering="crispEdges"/>
<rect x="1086" y="549.9" width="3" height="1.6" fill="#00FF00" shape-rendering="crispEdges"/>
<rect x="1094" y="551.5" width="3" height="1.2" fill="#FF0000" shape-rendering="crispEdges"/>
<rect x="1098" y="551.5" width="3" height="2.5" fill="#FF0000" shape-rendering="crispEdges"/>
<rect x="1102" y="551.5" width="3" height="3.1" fill="#FF0000" shape-rendering="crispEdges"/>
<rect x="1106" y="551.5" width="3" height="3.7" fill="#FF0000" shape-rendering="crispEdges"/>
<rect x="1110" y="551.5" width="3" height="4.3" fill="#FF0000" shape-rendering="crispEdges"/>
<rect x="1114" y="551.5" width="3" height="5.2" fill="#FF0000" shape-rendering="crispEdges"/>
<rect x="1118" y="551.5" width="3" height="6.4" fill="#FF0000" shape-rendering="crispEdges"/>
<rect x="1122" y="551.5" width="3" height="7.4" fill="#FF0000" shape-rendering="crispEdges"/>
<rect x="1126" y="551.5" width="3" height="8.1" fill="#FF0000" shape-rendering="crispEdges"/>
<rect x="1130" y="551.5" width="3" height="8.8" fill="#FF0000" shape-rendering="crispEdges"/>
<rect x="1134" y="551.5" width="3" height="9.5" fill="#FF0000" shape-rendering="crispEdges"/>
<rect x="1138" y="551.5" width="3" height="10.3" fill="#FF0000" shape-rendering="crispEdges"/>
<rect x="1142" y="551.5" width="3" height="11.0" fill="#FF0000" shape-rendering="crispEdges"/>
<rect x="1146" y="551.5" width="3" height="11.6" fill="#FF0000" shape-rendering="crispEdges"/>
<rect x="1150" y="551.5" width="3" height="12.3" fill="#FF0000" shape-rendering="crispEdges"/>
<rect x="1154" y="551.5" width="3" height="13.0" fill="#FF0000" shape-rendering="crispEdges"/>
<rect x="1158" y="551.5" width="3" height="13.6" fill="#FF0000" shape-rendering="crispEdges"/>
<rect x="1162" y="551.5" width="3" height="14.3" fill="#FF0000" shape-rendering="crispEdges"/>
<rect x="1166" y="551.5" width="3" height="14.9" fill="#FF0000" shape-rendering="crispEdges"/>
<rect x="1170" y="551.5" width="3" height="15.6" fill="#FF0000" shape-rendering="crispEdges"/>
<polyline points="3.0,543.5 7.0,544.1 11.0,546.1 15.0,548.7 19.0,550.9 23.0,553.1 27.0,555.7 31.0,558.4 35.0,561.0 39.0,563.7 43.0,566.2 47.0,568.8 51.0,571.0 55.0,572.4 59.0,573.7 63.0,575.1 67.0,576.3 71.0,576.9 75.0,577.6 79.0,578.2 83.0,578.8 87.0,579.3 91.0,579.8 95.0,580.3 99.0,580.4 103.0,580.4 107.0,580.4 111.0,580.4 115.0,580.8 119.0,581.1 123.0,581.1 127.0,581.1 131.0,581.1 135.0,581.1 139.0,581.1 143.0,581.1 147.0,580.5 151.0,579.8 155.0,579.8 159.0,579.8 163.0,579.8 167.0,579.6 171.0,579.0 175.0,578.3 179.0,578.0 183.0,577.9 187.0,577.8 191.0,577.8 195.0,577.7 199.0,577.7 203.0,577.6 207.0,577.6 211.0,577.6 215.0,577.6 219.0,577.6 223.0,577.6 227.0,577.4 231.0,577.1 235.0,576.4 239.0,575.4 243.0,574.4 247.0,573.8 251.0,573.7 255.0,573.6 259.0,573.5 263.0,573.2 267.0,572.5 271.0,571.8 275.0,571.0 279.0,570.6 283.0,570.6 287.0,570.6 291.0,570.6 295.0,570.6 299.0,570.6 303.0,570.6 307.0,570.6 311.0,570.6 315.0,570.6 319.0,570.6 323.0,570.6 327.0,570.6 331.0,570.6 335.0,570.6 339.0,570.6 343.0,571.9 347.0,573.2 351.0,574.4 355.0,575.1 359.0,575.7 363.0,576.4 367.0,577.0 371.0,577.7 375.0,578.3 379.0,579.0 383.0,579.6 387.0,580.2 391.0,580.8 395.0,581.1 399.0,581.4 403.0,581.7 407.0,581.9 411.0,582.2 415.0,582.5 419.0,582.5 423.0,582.4 427.0,582.2 431.0,582.1 435.0,582.0 439.0,581.8 443.0,581.6 447.0,581.2 451.0,580.6 455.0,579.7 459.0,578.8 463.0,577.9 467.0,577.0 471.0,576.2 475.0,575.4 479.0,574.6 483.0,573.8 487.0,573.0 491.0,572.4 495.0,571.8 499.0,571.1 503.0,570.8 507.0,571.9 511.0,571.9 515.0,571.9 519.0,572.0 523.0,572.6 527.0,573.2 531.0,573.8 535.0,574.1 539.0,574.4 543.0,574.7 547.0,574.9 551.0,574.9 555.0,574.9 559.0,574.5 563.0,574.2 567.0,573.8 571.0,573.5 575.0,572.8 579.0,572.0 583.0,571.2 587.0,570.5 591.0,569.8 595.0,569.2 599.0,569.3 603.0,570.6 607.0,571.0 611.0,571.4 615.0,571.8 619.0,572.2 623.0,572.5 627.0,572.9 631.0,572.7 635.0,572.2 639.0,571.7 643.0,571.3 647.0,570.5 651.0,569.7 655.0,568.9 659.0,568.1 663.0,567.6 667.0,567.0 671.0,566.5 675.0,566.0 679.0,565.4 683.0,564.8 687.0,564.2 691.0,563.7 695.0,563.1 699.0,562.6 703.0,562.1 707.0,561.6 711.0,560.6 715.0,559.4 719.0,558.3 723.0,556.8 727.0,555.0 731.0,553.2 735.0,551.6 739.0,550.1 743.0,548.6 747.0,547.0 751.0,545.4 755.0,543.2 759.0,540.6 763.0,538.1 767.0,535.6 771.0,533.6 775.0,531.6 779.0,529.7 783.0,527.7 787.0,525.6 791.0,523.1 795.0,520.7 799.0,518.3 803.0,515.9 807.0,514.3 811.0,513.0 815.0,511.6 819.0,510.3 823.0,509.3 827.0,508.2 831.0,507.2 835.0,506.1 839.0,505.4 843.0,505.1 847.0,504.7 851.0,504.4 855.0,504.3 859.0,504.3 863.0,504.3 867.0,504.3 871.0,504.3 875.0,504.3 879.0,504.3 883.0,504.3 887.0,504.3 891.0,504.3 895.0,504.3 899.0,504.3 903.0,504.3 907.0,504.3 911.0,504.3 915.0,504.4 919.0,505.7 923.0,506.6 927.0,507.3 931.0,508.1 935.0,508.6 939.0,508.9 943.0,509.1 947.0,509.7 951.0,511.3 955.0,512.6 959.0,513.8 963.0,514.8 967.0,515.2 971.0,515.6 975.0,516.0 979.0,516.3 983.0,516.6 987.0,516.9 991.0,517.4 995.0,518.5 999.0,519.7 1003.0,520.8 1007.0,522.5 1011.0,524.2 1015.0,525.8 1019.0,527.5 1023.0,529.1 1027.0,530.6 1031.0,531.9 1035.0,533.1 1039.0,534.4 1043.0,536.0 1047.0,537.6 1051.0,539.3 1055.0,540.8 1059.0,542.3 1063.0,543.5 1067.0,543.7 1071.0,543.9 1075.0,545.3 1079.0,546.8 1083.0,548.3 1087.0,549.9 1091.0,551.3 1095.0,552.7 1099.0,554.0 1103.0,554.6 1107.0,555.2 1111.0,555.8 1115.0,556.7 1119.0,557.9 1123.0,558.9 1127.0,559.6 1131.0,560.3 1135.0,561.0 1139.0,561.8 1143.0,562.5 1147.0,563.1 1151.0,563.8 1155.0,564.5 1159.0,565.1 1163.0,565.8 1167.0,566.4 1171.0,567.1" fill="none" stroke="#808080" stroke-width="2" stroke-linejoin="round" />
<circle cx="1047.5" cy="551.0" r="2.9" fill="#E6E6FA"/>
<circle cx="1051.5" cy="551.0" r="2.9" fill="#E6E6FA"/>
<circle cx="1055.5" cy="551.0" r="2.9" fill="#E6E6FA"/>
<circle cx="1059.5" cy="551.0" r="2.9" fill="#E6E6FA"/>
<circle cx="1063.5" cy="551.0" r="2.9" fill="#E6E6FA"/>
<circle cx="1067.5" cy="551.0" r="2.9" fill="#E6E6FA"/>
<circle cx="1071.5" cy="551.0" r="2.9" fill="#E6E6FA"/>
<circle cx="1075.5" cy="551.0" r="2.9" fill="#E6E6FA"/>
<circle cx="1079.5" cy="551.0" r="2.9" fill="#E6E6FA"/>
<circle cx="1083.5" cy="551.0" r="2.9" fill="#E6E6FA"/>
<circle cx="1087.5" cy="551.0" r="2.9" fill="#E6E6FA"/>
<circle cx="1091.5" cy="551.0" r="2.9" fill="#E6E6FA"/>
<circle cx="1095.5" cy="551.0" r="2.9" fill="#E6E6FA"/>
<circle cx="1099.5" cy="551.0" r="2.9" fill="#E6E6FA"/>
<circle cx="1103.5" cy="551.0" r="2.9" fill="#E6E6FA"/>
<circle cx="1107.5" cy="551.0" r="2.9" fill="#E6E6FA"/>
<circle cx="1111.5" cy="551.0" r="2.9" fill="#E6E6FA"/>
<circle cx="1115.5" cy="551.0" r="2.9" fill="#E6E6FA"/>
<circle cx="1119.5" cy="551.0" r="2.9" fill="#E6E6FA"/>
<circle cx="1123.5" cy="551.0" r="2.9" fill="#E6E6FA"/>
<circle cx="1127.5" cy="551.0" r="2.9" fill="#E6E6FA"/>
<circle cx="1131.5" cy="551.0" r="2.9" fill="#E6E6FA"/>
<circle cx="1135.5" cy="551.0" r="2.9" fill="#E6E6FA"/>
<circle cx="1139.5" cy="551.0" r="2.9" fill="#E6E6FA"/>
<circle cx="3.5" cy="551.0" r="2.9" fill="#B22222"/>
<circle cx="7.5" cy="551.0" r="2.9" fill="#B22222"/>
<circle cx="11.5" cy="551.0" r="2.9" fill="#B22222"/>
<circle cx="15.5" cy="551.0" r="2.9" fill="#B22222"/>
<circle cx="19.5" cy="551.0" r="2.9" fill="#B22222"/>
<circle cx="23.5" cy="551.0" r="2.9" fill="#B22222"/>
<circle cx="27.5" cy="551.0" r="2.9" fill="#B22222"/>
<circle cx="31.5" cy="551.0" r="2.9" fill="#B22222"/>
<circle cx="35.5" cy="551.0" r="2.9" fill="#B22222"/>
<circle cx="39.5" cy="551.0" r="2.9" fill="#B22222"/>
<circle cx="43.5" cy="551.0" r="2.9" fill="#B22222"/>
<circle cx="47.5" cy="551.0" r="2.9" fill="#B22222"/>
<circle cx="51.5" cy="551.0" r="2.9" fill="#B22222"/>
<circle cx="55.5" cy="551.0" r="2.9" fill="#B22222"/>
<circle cx="59.5" cy="551.0" r="2.9" fill="#B22222"/>
<circle cx="63.5" cy="551.0" r="2.9" fill="#B22222"/>
<circle cx="67.5" cy="551.0" r="2.9" fill="#B22222"/>
<circle cx="71.5" cy="551.0" r="2.9" fill="#B22222"/>
<circle cx="75.5" cy="551.0" r="2.9" fill="#B22222"/>
<circle cx="79.5" cy="551.0" r="2.9" fill="#B22222"/>
<circle cx="83.5" cy="551.0" r="2.9" fill="#B22222"/>
<circle cx="87.5" cy="551.0" r="2.9" fill="#B22222"/>
<circle cx="91.5" cy="551.0" r="2.9" fill="#B22222"/>
<circle cx="95.5" cy="551.0" r="2.9" fill="#B22222"/>
<circle cx="99.5" cy="551.0" r="2.9" fill="#B22222"/>
<circle cx="103.5" cy="551.0" r="2.9" fill="#B22222"/>
<circle cx="107.5" cy="551.0" r="2.9" fill="#B22222"/>
<circle cx="111.5" cy="551.0" r="2.9" fill="#B22222"/>
<circle cx="115.5" cy="551.0" r="2.9" fill="#B22222"/>
<circle cx="119.5" cy="551.0" r="2.9" fill="#B22222"/>
<circle cx="123.5" cy="551.0" r="2.9" fill="#B22222"/>
<circle cx="127.5" cy="551.0" r="2.9" fill="#B22222"/>
<circle cx="131.5" cy="551.0" r="2.9" fill="#B22222"/>
<circle cx="135.5" cy="551.0" r="2.9" fill="#B22222"/>
<circle cx="139.5" cy="551.0" r="2.9" fill="#B22222"/>
<circle cx="143.5" cy="551.0" r="2.9" fill="#B22222"/>
<circle cx="147.5" cy="551.0" r="2.9" fill="#B22222"/>
<circle cx="151.5" cy="551.0" r="2.9" fill="#B22222"/>
<circle cx="155.5" cy="551.0" r="2.9" fill="#B22222"/>
<circle cx="159.5" cy="551.0" r="2.9" fill="#B22222"/>
<circle cx="163.5" cy="551.0" r="2.9" fill="#B22222"/>
<circle cx="167.5" cy="551.0" r="2.9" fill="#B22222"/>
<circle cx="171.5" cy="551.0" r="2.9" fill="#B22222"/>
<circle cx="175.5" cy="551.0" r="2.9" fill="#B22222"/>
<circle cx="179.5" cy="551.0" r="2.9" fill="#B22222"/>
<circle cx="183.5" cy="551.0" r="2.9" fill="#B22222"/>
<circle cx="187.5" cy="551.0" r="2.9" fill="#B22222"/>
<circle cx="191.5" cy="551.0" r="2.9" fill="#B22222"/>
<circle cx="195.5" cy="551.0" r="2.9" fill="#B22222"/>
<circle cx="199.5" cy="551.0" r="2.9" fill="#B22222"/>
<circle cx="203.5" cy="551.0" r="2.9" fill="#B22222"/>
<circle cx="207.5" cy="551.0" r="2.9" fill="#B22222"/>
<circle cx="211.5" cy="551.0" r="2.9" fill="#B22222"/>
<circle cx="215.5" cy="551.0" r="2.9" fill="#B22222"/>
<circle cx="219.5" cy="551.0" r="2.9" fill="#B22222"/>
<circle cx="223.5" cy="551.0" r="2.9" fill="#B22222"/>
<circle cx="227.5" cy="551.0" r="2.9" fill="#B22222"/>
<circle cx="231.5" cy="551.0" r="2.9" fill="#B22222"/>
<circle cx="235.5" cy="551.0" r="2.9" fill="#B22222"/>
<circle cx="239.5" cy="551.0" r="2.9" fill="#B22222"/>
<circle cx="243.5" cy="551.0" r="2.9" fill="#B22222"/>
<circle cx="247.5" cy="551.0" r="2.9" fill="#B22222"/>
<circle cx="251.5" cy="551.0" r="2.9" fill="#B22222"/>
<circle cx="255.5" cy="551.0" r="2.9" fill="#B22222"/>
<circle cx="259.5" cy="551.0" r="2.9" fill="#B22222"/>
<circle cx="263.5" cy="551.0" r="2.9" fill="#B22222"/>
<circle cx="267.5" cy="551.0" r="2.9" fill="#B22222"/>
<circle cx="271.5" cy="551.0" r="2.9" fill="#B22222"/>
<circle cx="275.5" cy="551.0" r="2.9" fill="#B22222"/>
<circle cx="279.5" cy="551.0" r="2.9" fill="#B22222"/>
<circle cx="283.5" cy="551.0" r="2.9" fill="#B22222"/>
<circle cx="287.5" cy="551.0" r="2.9" fill="#B22222"/>
<circle cx="291.5" cy="551.0" r="2.9" fill="#B22222"/>
<circle cx="295.5" cy="551.0" r="2.9" fill="#B22222"/>
<circle cx="299.5" cy="551.0" r="2.9" fill="#B22222"/>
<circle cx="303.5" cy="551.0" r="2.9" fill="#B22222"/>
<circle cx="307.5" cy="551.0" r="2.9" fill="#B22222"/>
<circle cx="311.5" cy="551.0" r="2.9" fill="#B22222"/>
<circle cx="315.5" cy="551.0" r="2.9" fill="#B22222"/>
<circle cx="319.5" cy="551.0" r="2.9" fill="#B22222"/>
<circle cx="323.5" cy="551.0" r="2.9" fill="#B22222"/>
<circle cx="327.5" cy="551.0" r="2.9" fill="#B22222"/>
<circle cx="331.5" cy="551.0" r="2.9" fill="#B22222"/>
<circle cx="335.5" cy="551.0" r="2.9" fill="#B22222"/>
<circle cx="339.5" cy="551.0" r="2.9" fill="#B22222"/>
<circle cx="343.5" cy="551.0" r="2.9" fill="#B22222"/>
<circle cx="347.5" cy="551.0" r="2.9" fill="#B22222"/>
<circle cx="351.5" cy="551.0" r="2.9" fill="#B22222"/>
<circle cx="355.5" cy="551.0" r="2.9" fill="#B22222"/>
<circle cx="359.5" cy="551.0" r="2.9" fill="#B22222"/>
<circle cx="363.5" cy="551.0" r="2.9" fill="#B22222"/>
<circle cx="367.5" cy="551.0" r="2.9" fill="#B22222"/>
<circle cx="371.5" cy="551.0" r="2.9" fill="#B22222"/>
<circle cx="375.5" cy="551.0" r="2.9" fill="#B22222"/>
<circle cx="379.5" cy="551.0" r="2.9" fill="#B22222"/>
<circle cx="383.5" cy="551.0" r="2.9" fill="#B22222"/>
<circle cx="387.5" cy="551.0" r="2.9" fill="#B22222"/>
<circle cx="391.5" cy="551.0" r="2.9" fill="#B22222"/>
<circle cx="395.5" cy="551.0" r="2.9" fill="#B22222"/>
<circle cx="399.5" cy="551.0" r="2.9" fill="#B22222"/>
<circle cx="403.5" cy="551.0" r="2.9" fill="#B22222"/>
<circle cx="407.5" cy="551.0" r="2.9" fill="#B22222"/>
<circle cx="411.5" cy="551.0" r="2.9" fill="#B22222"/>
<circle cx="415.5" cy="551.0" r="2.9" fill="#B22222"/>
<circle cx="419.5" cy="551.0" r="2.9" fill="#B22222"/>
<circle cx="423.5" cy="551.0" r="2.9" fill="#B22222"/>
<circle cx="427.5" cy="551.0" r="2.9" fill="#B22222"/>
<circle cx="431.5" cy="551.0" r="2.9" fill="#B22222"/>
<circle cx="435.5" cy="551.0" r="2.9" fill="#B22222"/>
<circle cx="439.5" cy="551.0" r="2.9" fill="#B22222"/>
<circle cx="443.5" cy="551.0" r="2.9" fill="#B22222"/>
<circle cx="447.5" cy="551.0" r="2.9" fill="#B22222"/>
<circle cx="451.5" cy="551.0" r="2.9" fill="#B22222"/>
<circle cx="455.5" cy="551.0" r="2.9" fill="#B22222"/>
<circle cx="459.5" cy="551.0" r="2.9" fill="#B22222"/>
<circle cx="463.5" cy="551.0" r="2.9" fill="#B22222"/>
<circle cx="467.5" cy="551.0" r="2.9" fill="#B22222"/>
<circle cx="471.5" cy="551.0" r="2.9" fill="#B22222"/>
<circle cx="475.5" cy="551.0" r="2.9" fill="#B22222"/>
<circle cx="479.5" cy="551.0" r="2.9" fill="#B22222"/>
<circle cx="483.5" cy="551.0" r="2.9" fill="#B22222"/>
<circle cx="487.5" cy="551.0" r="2.9" fill="#B22222"/>
<circle cx="491.5" cy="551.0" r="2.9" fill="#B22222"/>
<circle cx="495.5" cy="551.0" r="2.9" fill="#B22222"/>
<circle cx="499.5" cy="551.0" r="2.9" fill="#B22222"/>
<circle cx="503.5" cy="551.0" r="2.9" fill="#B22222"/>
<circle cx="507.5" cy="551.0" r="2.9" fill="#B22222"/>
<circle cx="511.5" cy="551.0" r="2.9" fill="#B22222"/>
<circle cx="515.5" cy="551.0" r="2.9" fill="#B22222"/>
<circle cx="519.5" cy="551.0" r="2.9" fill="#B22222"/>
<circle cx="523.5" cy="551.0" r="2.9" fill="#B22222"/>
<circle cx="527.5" cy="551.0" r="2.9" fill="#B22222"/>
<circle cx="531.5" cy="551.0" r="2.9" fill="#B22222"/>
<circle cx="535.5" cy="551.0" r="2.9" fill="#B22222"/>
<circle cx="539.5" cy="551.0" r="2.9" fill="#B22222"/>
<circle cx="543.5" cy="551.0" r="2.9" fill="#B22222"/>
<circle cx="547.5" cy="551.0" r="2.9" fill="#B22222"/>
<circle cx="551.5" cy="551.0" r="2.9" fill="#B22222"/>
<circle cx="555.5" cy="551.0" r="2.9" fill="#B22222"/>
<circle cx="559.5" cy="551.0" r="2.9" fill="#B22222"/>
<circle cx="563.5" cy="551.0" r="2.9" fill="#B22222"/>
<circle cx="567.5" cy="551.0" r="2.9" fill="#B22222"/>
<circle cx="571.5" cy="551.0" r="2.9" fill="#B22222"/>
<circle cx="575.5" cy="551.0" r="2.9" fill="#B22222"/>
<circle cx="579.5" cy="551.0" r="2.9" fill="#B22222"/>
<circle cx="583.5" cy="551.0" r="2.9" fill="#B22222"/>
<circle cx="587.5" cy="551.0" r="2.9" fill="#B22222"/>
<circle cx="591.5" cy="551.0" r="2.9" fill="#B22222"/>
<circle cx="595.5" cy="551.0" r="2.9" fill="#B22222"/>
<circle cx="599.5" cy="551.0" r="2.9" fill="#B22222"/>
<circle cx="603.5" cy="551.0" r="2.9" fill="#B22222"/>
<circle cx="607.5" cy="551.0" r="2.9" fill="#B22222"/>
<circle cx="611.5" cy="551.0" r="2.9" fill="#B22222"/>
<circle cx="615.5" cy="551.0" r="2.9" fill="#B22222"/>
<circle cx="619.5" cy="551.0" r="2.9" fill="#B22222"/>
<circle cx="623.5" cy="551.0" r="2.9" fill="#B22222"/>
<circle cx="627.5" cy="551.0" r="2.9" fill="#B22222"/>
<circle cx="631.5" cy="551.0" r="2.9" fill="#B22222"/>
<circle cx="635.5" cy="551.0" r="2.9" fill="#B22222"/>
<circle cx="639.5" cy="551.0" r="2.9" fill="#B22222"/>
<circle cx="643.5" cy="551.0" r="2.9" fill="#B22222"/>
<circle cx="647.5" cy="551.0" r="2.9" fill="#B22222"/>
<circle cx="651.5" cy="551.0" r="2.9" fill="#B22222"/>
<circle cx="655.5" cy="551.0" r="2.9" fill="#B22222"/>
<circle cx="659.5" cy="551.0" r="2.9" fill="#B22222"/>
<circle cx="663.5" cy="551.0" r="2.9" fill="#B22222"/>
<circle cx="667.5" cy="551.0" r="2.9" fill="#B22222"/>
<circle cx="671.5" cy="551.0" r="2.9" fill="#B22222"/>
<circle cx="675.5" cy="551.0" r="2.9" fill="#B22222"/>
<circle cx="679.5" cy="551.0" r="2.9" fill="#B22222"/>
<circle cx="683.5" cy="551.0" r="2.9" fill="#B22222"/>
<circle cx="687.5" cy="551.0" r="2.9" fill="#B22222"/>
<circle cx="691.5" cy="551.0" r="2.9" fill="#B22222"/>
<circle cx="695.5" cy="551.0" r="2.9" fill="#B22222"/>
<circle cx="699.5" cy="551.0" r="2.9" fill="#B22222"/>
<circle cx="703.5" cy="551.0" r="2.9" fill="#B22222"/>
<circle cx="707.5" cy="551.0" r="2.9" fill="#B22222"/>
<circle cx="711.5" cy="551.0" r="2.9" fill="#B22222"/>
<circle cx="715.5" cy="551.0" r="2.9" fill="#B22222"/>
<circle cx="719.5" cy="551.0" r="2.9" fill="#B22222"/>
<circle cx="723.5" cy="551.0" r="2.9" fill="#B22222"/>
<circle cx="727.5" cy="551.0" r="2.9" fill="#B22222"/>
<circle cx="731.5" cy="551.0" r="2.9" fill="#B22222"/>
<circle cx="735.5" cy="551.0" r="2.9" fill="#B22222"/>
<circle cx="739.5" cy="551.0" r="2.9" fill="#B22222"/>
<circle cx="743.5" cy="551.0" r="2.9" fill="#B22222"/>
<circle cx="747.5" cy="551.0" r="2.9" fill="#B22222"/>
<circle cx="751.5" cy="551.0" r="2.9" fill="#B22222"/>
<circle cx="755.5" cy="551.0" r="2.9" fill="#B22222"/>
<circle cx="759.5" cy="551.0" r="2.9" fill="#B22222"/>
<circle cx="763.5" cy="551.0" r="2.9" fill="#B22222"/>
<circle cx="767.5" cy="551.0" r="2.9" fill="#B22222"/>
<circle cx="771.5" cy="551.0" r="2.9" fill="#B22222"/>
<circle cx="775.5" cy="551.0" r="2.9" fill="#B22222"/>
<circle cx="779.5" cy="551.0" r="2.9" fill="#B22222"/>
<circle cx="783.5" cy="551.0" r="2.9" fill="#B22222"/>
<circle cx="787.5" cy="551.0" r="2.9" fill="#B22222"/>
<circle cx="791.5" cy="551.0" r="2.9" fill="#B22222"/>
<circle cx="795.5" cy="551.0" r="2.9" fill="#B22222"/>
<circle cx="799.5" cy="551.0" r="2.9" fill="#B22222"/>
<circle cx="803.5" cy="551.0" r="2.9" fill="#B22222"/>
<circle cx="807.5" cy="551.0" r="2.9" fill="#B22222"/>
<circle cx="811.5" cy="551.0" r="2.9" fill="#B22222"/>
<circle cx="815.5" cy="551.0" r="2.9" fill="#B22222"/>
<circle cx="819.5" cy="551.0" r="2.9" fill="#B22222"/>
<circle cx="823.5" cy="551.0" r="2.9" fill="#B22222"/>
<circle cx="827.5" cy="551.0" r="2.9" fill="#B22222"/>
<circle cx="831.5" cy="551.0" r="2.9" fill="#B22222"/>
<circle cx="835.5" cy="551.0" r="2.9" fill="#B22222"/>
<circle cx="839.5" cy="551.0" r="2.9" fill="#B22222"/>
<circle cx="843.5" cy="551.0" r="2.9" fill="#B22222"/>
<circle cx="847.5" cy="551.0" r="2.9" fill="#B22222"/>
<circle cx="851.5" cy="551.0" r="2.9" fill="#B22222"/>
<circle cx="855.5" cy="551.0" r="2.9" fill="#B22222"/>
<circle cx="859.5" cy="551.0" r="2.9" fill="#B22222"/>
<circle cx="863.5" cy="551.0" r="2.9" fill="#B22222"/>
<circle cx="867.5" cy="551.0" r="2.9" fill="#B22222"/>
<circle cx="871.5" cy="551.0" r="2.9" fill="#B22222"/>
<circle cx="875.5" cy="551.0" r="2.9" fill="#B22222"/>
<circle cx="879.5" cy="551.0" r="2.9" fill="#B22222"/>
<circle cx="883.5" cy="551.0" r="2.9" fill="#B22222"/>
<circle cx="887.5" cy="551.0" r="2.9" fill="#B22222"/>
<circle cx="891.5" cy="551.0" r="2.9" fill="#B22222"/>
<circle cx="895.5" cy="551.0" r="2.9" fill="#B22222"/>
<circle cx="899.5" cy="551.0" r="2.9" fill="#B22222"/>
<circle cx="903.5" cy="551.0" r="2.9" fill="#B22222"/>
<circle cx="907.5" cy="551.0" r="2.9" fill="#B22222"/>
<circle cx="911.5" cy="551.0" r="2.9" fill="#B22222"/>
<circle cx="915.5" cy="551.0" r="2.9" fill="#B22222"/>
<circle cx="919.5" cy="551.0" r="2.9" fill="#B22222"/>
<circle cx="923.5" cy="551.0" r="2.9" fill="#B22222"/>
<circle cx="927.5" cy="551.0" r="2.9" fill="#B22222"/>
<circle cx="931.5" cy="551.0" r="2.9" fill="#B22222"/>
<circle cx="935.5" cy="551.0" r="2.9" fill="#B22222"/>
<circle cx="939.5" cy="551.0" r="2.9" fill="#B22222"/>
<circle cx="943.5" cy="551.0" r="2.9" fill="#B22222"/>
<circle cx="947.5" cy="551.0" r="2.9" fill="#B22222"/>
<circle cx="951.5" cy="551.0" r="2.9" fill="#B22222"/>
<circle cx="955.5" cy="551.0" r="2.9" fill="#B22222"/>
<circle cx="959.5" cy="551.0" r="2.9" fill="#B22222"/>
<circle cx="963.5" cy="551.0" r="2.9" fill="#B22222"/>
<circle cx="967.5" cy="551.0" r="2.9" fill="#B22222"/>
<circle cx="971.5" cy="551.0" r="2.9" fill="#B22222"/>
<circle cx="975.5" cy="551.0" r="2.9" fill="#B22222"/>
<circle cx="979.5" cy="551.0" r="2.9" fill="#B22222"/>
<circle cx="983.5" cy="551.0" r="2.9" fill="#B22222"/>
<circle cx="987.5" cy="551.0" r="2.9" fill="#B22222"/>
<circle cx="991.5" cy="551.0" r="2.9" fill="#B22222"/>
<circle cx="995.5" cy="551.0" r="2.9" fill="#B22222"/>
<circle cx="999.5" cy="551.0" r="2.9" fill="#B22222"/>
<circle cx="1003.5" cy="551.0" r="2.9" fill="#B22222"/>
<circle cx="1007.5" cy="551.0" r="2.9" fill="#B22222"/>
<circle cx="1011.5" cy="551.0" r="2.9" fill="#B22222"/>
<circle cx="1015.5" cy="551.0" r="2.9" fill="#B22222"/>
<circle cx="1019.5" cy="551.0" r="2.9" fill="#B22222"/>
<circle cx="1023.5" cy="551.0" r="2.9" fill="#B22222"/>
<circle cx="1027.5" cy="551.0" r="2.9" fill="#B22222"/>
<circle cx="1031.5" cy="551.0" r="2.9" fill="#B22222"/>
<circle cx="1035.5" cy="551.0" r="2.9" fill="#B22222"/>
<circle cx="1039.5" cy="551.0" r="2.9" fill="#B22222"/>
<circle cx="1043.5" cy="551.0" r="2.9" fill="#B22222"/>
<circle cx="1143.5" cy="551.0" r="2.9" fill="#B22222"/>
<circle cx="1147.5" cy="551.0" r="2.9" fill="#B22222"/>
<circle cx="1151.5" cy="551.0" r="2.9" fill="#B22222"/>
<circle cx="1155.5" cy="551.0" r="2.9" fill="#B22222"/>
<circle cx="1159.5" cy="551.0" r="2.9" fill="#B22222"/>
<circle cx="1163.5" cy="551.0" r="2.9" fill="#B22222"/>
<circle cx="1167.5" cy="551.0" r="2.9" fill="#B22222"/>
<circle cx="1171.5" cy="551.0" r="2.9" fill="#B22222"/>
<line x1="4" y1="551.5" x2="1310" y2="551.5" stroke="#C9C9C9" stroke-width="1" stroke-dasharray="3 3" shape-rendering="crispEdges"/>
</g>
<text x="7.50" y="510.50" font-size="9.8px" fill="#000" text-anchor="start" textLength="211.00" lengthAdjust="spacingAndGlyphs" xml:space="preserve" stroke="#000" stroke-width="0.2" style="text-rendering:geometricPrecision" >H4 CHFJPY bbsqueeze(20) -0.0314 -0.0314 0.0000</text>
<ellipse cx="1111" cy="77" rx="60" ry="26.5" fill="none" stroke="#000" stroke-width="5.2"/>
<ellipse cx="1152.5" cy="263" rx="30.8" ry="28.5" fill="none" stroke="#000" stroke-width="5"/>
<ellipse cx="1158" cy="352.7" rx="50.3" ry="39" fill="none" stroke="#000" stroke-width="5.3"/>
<ellipse cx="1167.2" cy="453.5" rx="33.3" ry="30.8" fill="none" stroke="#000" stroke-width="5"/>
<ellipse cx="1160.3" cy="550.6" rx="38.6" ry="26.6" fill="none" stroke="#000" stroke-width="5.2"/>
<rect x="2.5" y="2.5" width="1308" height="202" fill="none" stroke="#000" stroke-width="1" shape-rendering="crispEdges"/>
<rect x="2.5" y="206.5" width="1308" height="100" fill="none" stroke="#000" stroke-width="1" shape-rendering="crispEdges"/>
<rect x="2.5" y="308.5" width="1308" height="96" fill="none" stroke="#000" stroke-width="1" shape-rendering="crispEdges"/>
<rect x="2.5" y="406.5" width="1308" height="90" fill="none" stroke="#000" stroke-width="1" shape-rendering="crispEdges"/>
<rect x="2.5" y="498.5" width="1308" height="89" fill="none" stroke="#000" stroke-width="1" shape-rendering="crispEdges"/>
<line x1="1311" y1="20.5" x2="1313" y2="20.5" stroke="#000" stroke-width="1" shape-rendering="crispEdges"/>
<text x="1316.40" y="24.00" font-size="9.8px" fill="#000" text-anchor="start" textLength="27.80" lengthAdjust="spacingAndGlyphs" xml:space="preserve" stroke="#000" stroke-width="0.2" style="text-rendering:geometricPrecision" >113.30</text>
<line x1="1311" y1="56.5" x2="1313" y2="56.5" stroke="#000" stroke-width="1" shape-rendering="crispEdges"/>
<text x="1316.40" y="60.00" font-size="9.8px" fill="#000" text-anchor="start" textLength="27.80" lengthAdjust="spacingAndGlyphs" xml:space="preserve" stroke="#000" stroke-width="0.2" style="text-rendering:geometricPrecision" >112.85</text>
<line x1="1311" y1="92.5" x2="1313" y2="92.5" stroke="#000" stroke-width="1" shape-rendering="crispEdges"/>
<text x="1316.40" y="96.00" font-size="9.8px" fill="#000" text-anchor="start" textLength="27.80" lengthAdjust="spacingAndGlyphs" xml:space="preserve" stroke="#000" stroke-width="0.2" style="text-rendering:geometricPrecision" >112.40</text>
<line x1="1311" y1="128.5" x2="1313" y2="128.5" stroke="#000" stroke-width="1" shape-rendering="crispEdges"/>
<text x="1316.40" y="132.00" font-size="9.8px" fill="#000" text-anchor="start" textLength="27.80" lengthAdjust="spacingAndGlyphs" xml:space="preserve" stroke="#000" stroke-width="0.2" style="text-rendering:geometricPrecision" >111.95</text>
<line x1="1311" y1="164.5" x2="1313" y2="164.5" stroke="#000" stroke-width="1" shape-rendering="crispEdges"/>
<text x="1316.40" y="168.00" font-size="9.8px" fill="#000" text-anchor="start" textLength="27.80" lengthAdjust="spacingAndGlyphs" xml:space="preserve" stroke="#000" stroke-width="0.2" style="text-rendering:geometricPrecision" >111.50</text>
<line x1="1311" y1="200.5" x2="1313" y2="200.5" stroke="#000" stroke-width="1" shape-rendering="crispEdges"/>
<text x="1316.40" y="204.00" font-size="9.8px" fill="#000" text-anchor="start" textLength="27.80" lengthAdjust="spacingAndGlyphs" xml:space="preserve" stroke="#000" stroke-width="0.2" style="text-rendering:geometricPrecision" >111.05</text>
<rect x="1312" y="98" width="36" height="11" fill="#000"/>
<text x="1316.40" y="107.00" font-size="9.8px" fill="#FFF" text-anchor="start" textLength="27.80" lengthAdjust="spacingAndGlyphs" xml:space="preserve" stroke="#FFF" stroke-width="0.2" style="text-rendering:geometricPrecision" >112.25</text>
<line x1="1310" y1="103.5" x2="1312" y2="103.5" stroke="#7F8FA0" stroke-width="1"/>
<text x="1313.90" y="217.00" font-size="9.8px" fill="#000" text-anchor="start" textLength="33.00" lengthAdjust="spacingAndGlyphs" xml:space="preserve" stroke="#000" stroke-width="0.2" style="text-rendering:geometricPrecision" >76.7749</text>
<text x="1313.90" y="221.30" font-size="9.8px" fill="#000" text-anchor="start" textLength="9.60" lengthAdjust="spacingAndGlyphs" xml:space="preserve" stroke="#000" stroke-width="0.2" style="text-rendering:geometricPrecision" >70</text>
<text x="1313.90" y="250.00" font-size="9.8px" fill="#000" text-anchor="start" textLength="9.60" lengthAdjust="spacingAndGlyphs" xml:space="preserve" stroke="#000" stroke-width="0.2" style="text-rendering:geometricPrecision" >50</text>
<text x="1313.90" y="280.00" font-size="9.8px" fill="#000" text-anchor="start" textLength="9.60" lengthAdjust="spacingAndGlyphs" xml:space="preserve" stroke="#000" stroke-width="0.2" style="text-rendering:geometricPrecision" >30</text>
<text x="1313.90" y="303.00" font-size="9.8px" fill="#000" text-anchor="start" textLength="28.00" lengthAdjust="spacingAndGlyphs" xml:space="preserve" stroke="#000" stroke-width="0.2" style="text-rendering:geometricPrecision" >9.4813</text>
<text x="1313.90" y="319.20" font-size="9.8px" fill="#000" text-anchor="start" textLength="33.00" lengthAdjust="spacingAndGlyphs" xml:space="preserve" stroke="#000" stroke-width="0.2" style="text-rendering:geometricPrecision" >77.9712</text>
<text x="1313.90" y="327.00" font-size="9.8px" fill="#000" text-anchor="start" textLength="9.60" lengthAdjust="spacingAndGlyphs" xml:space="preserve" stroke="#000" stroke-width="0.2" style="text-rendering:geometricPrecision" >70</text>
<text x="1313.90" y="360.00" font-size="9.8px" fill="#000" text-anchor="start" textLength="9.60" lengthAdjust="spacingAndGlyphs" xml:space="preserve" stroke="#000" stroke-width="0.2" style="text-rendering:geometricPrecision" >50</text>
<text x="1313.90" y="393.00" font-size="9.8px" fill="#000" text-anchor="start" textLength="9.60" lengthAdjust="spacingAndGlyphs" xml:space="preserve" stroke="#000" stroke-width="0.2" style="text-rendering:geometricPrecision" >30</text>
<text x="1313.90" y="401.30" font-size="9.8px" fill="#000" text-anchor="start" textLength="33.00" lengthAdjust="spacingAndGlyphs" xml:space="preserve" stroke="#000" stroke-width="0.2" style="text-rendering:geometricPrecision" >21.2276</text>
<text x="1313.90" y="416.70" font-size="9.8px" fill="#000" text-anchor="start" textLength="28.00" lengthAdjust="spacingAndGlyphs" xml:space="preserve" stroke="#000" stroke-width="0.2" style="text-rendering:geometricPrecision" >0.0675</text>
<text x="1313.90" y="452.00" font-size="9.8px" fill="#000" text-anchor="start" textLength="18.50" lengthAdjust="spacingAndGlyphs" xml:space="preserve" stroke="#000" stroke-width="0.2" style="text-rendering:geometricPrecision" >0.00</text>
<text x="1313.90" y="493.40" font-size="9.8px" fill="#000" text-anchor="start" textLength="31.00" lengthAdjust="spacingAndGlyphs" xml:space="preserve" stroke="#000" stroke-width="0.2" style="text-rendering:geometricPrecision" >-0.0807</text>
<text x="1313.90" y="508.80" font-size="9.8px" fill="#000" text-anchor="start" textLength="28.00" lengthAdjust="spacingAndGlyphs" xml:space="preserve" stroke="#000" stroke-width="0.2" style="text-rendering:geometricPrecision" >0.1008</text>
<text x="1313.90" y="554.50" font-size="9.8px" fill="#000" text-anchor="start" textLength="18.50" lengthAdjust="spacingAndGlyphs" xml:space="preserve" stroke="#000" stroke-width="0.2" style="text-rendering:geometricPrecision" >0.00</text>
<text x="1313.90" y="584.30" font-size="9.8px" fill="#000" text-anchor="start" textLength="31.00" lengthAdjust="spacingAndGlyphs" xml:space="preserve" stroke="#000" stroke-width="0.2" style="text-rendering:geometricPrecision" >-0.0686</text>
<line x1="1311" y1="448.5" x2="1312" y2="448.5" stroke="#000" stroke-width="1" shape-rendering="crispEdges"/>
<text x="1314.40" y="452.00" font-size="9.8px" fill="#000" text-anchor="start" textLength="4.90" lengthAdjust="spacingAndGlyphs" xml:space="preserve" stroke="#000" stroke-width="0.2" style="text-rendering:geometricPrecision" >0</text>
<line x1="1311" y1="551.5" x2="1312" y2="551.5" stroke="#000" stroke-width="1" shape-rendering="crispEdges"/>
<text x="1314.40" y="555.00" font-size="9.8px" fill="#000" text-anchor="start" textLength="4.90" lengthAdjust="spacingAndGlyphs" xml:space="preserve" stroke="#000" stroke-width="0.2" style="text-rendering:geometricPrecision" >0</text>
<line x1="1311" y1="208.5" x2="1312" y2="208.5" stroke="#000" stroke-width="1" shape-rendering="crispEdges"/>
<line x1="1311" y1="310.5" x2="1312" y2="310.5" stroke="#000" stroke-width="1" shape-rendering="crispEdges"/>
<line x1="1311" y1="408.5" x2="1312" y2="408.5" stroke="#000" stroke-width="1" shape-rendering="crispEdges"/>
<line x1="1311" y1="500.5" x2="1312" y2="500.5" stroke="#000" stroke-width="1" shape-rendering="crispEdges"/>
<line x1="1311" y1="305.5" x2="1312" y2="305.5" stroke="#000" stroke-width="1" shape-rendering="crispEdges"/>
<line x1="1311" y1="403.5" x2="1312" y2="403.5" stroke="#000" stroke-width="1" shape-rendering="crispEdges"/>
<line x1="1311" y1="495.5" x2="1312" y2="495.5" stroke="#000" stroke-width="1" shape-rendering="crispEdges"/>
<line x1="1311" y1="586.5" x2="1312" y2="586.5" stroke="#000" stroke-width="1" shape-rendering="crispEdges"/>
<line x1="3.5" y1="588" x2="3.5" y2="591" stroke="#000" stroke-width="1" shape-rendering="crispEdges"/>
<text x="2.60" y="600.20" font-size="9.8px" fill="#000" text-anchor="start" textLength="51.45" lengthAdjust="spacingAndGlyphs" xml:space="preserve" stroke="#000" stroke-width="0.2" style="text-rendering:geometricPrecision" >17 Feb 2017</text>
<line x1="67.5" y1="588" x2="67.5" y2="591" stroke="#000" stroke-width="1" shape-rendering="crispEdges"/>
<text x="66.60" y="600.20" font-size="9.8px" fill="#000" text-anchor="start" textLength="54.00" lengthAdjust="spacingAndGlyphs" xml:space="preserve" stroke="#000" stroke-width="0.2" style="text-rendering:geometricPrecision" >20 Feb 03:00</text>
<line x1="131.5" y1="588" x2="131.5" y2="591" stroke="#000" stroke-width="1" shape-rendering="crispEdges"/>
<text x="130.60" y="600.20" font-size="9.8px" fill="#000" text-anchor="start" textLength="54.00" lengthAdjust="spacingAndGlyphs" xml:space="preserve" stroke="#000" stroke-width="0.2" style="text-rendering:geometricPrecision" >20 Feb 19:00</text>
<line x1="195.5" y1="588" x2="195.5" y2="591" stroke="#000" stroke-width="1" shape-rendering="crispEdges"/>
<text x="194.60" y="600.20" font-size="9.8px" fill="#000" text-anchor="start" textLength="53.33" lengthAdjust="spacingAndGlyphs" xml:space="preserve" stroke="#000" stroke-width="0.2" style="text-rendering:geometricPrecision" >21 Feb 11:00</text>
<line x1="259.5" y1="588" x2="259.5" y2="591" stroke="#000" stroke-width="1" shape-rendering="crispEdges"/>
<text x="258.60" y="600.20" font-size="9.8px" fill="#000" text-anchor="start" textLength="54.00" lengthAdjust="spacingAndGlyphs" xml:space="preserve" stroke="#000" stroke-width="0.2" style="text-rendering:geometricPrecision" >22 Feb 03:00</text>
<line x1="323.5" y1="588" x2="323.5" y2="591" stroke="#000" stroke-width="1" shape-rendering="crispEdges"/>
<text x="322.60" y="600.20" font-size="9.8px" fill="#000" text-anchor="start" textLength="54.00" lengthAdjust="spacingAndGlyphs" xml:space="preserve" stroke="#000" stroke-width="0.2" style="text-rendering:geometricPrecision" >22 Feb 19:00</text>
<line x1="387.5" y1="588" x2="387.5" y2="591" stroke="#000" stroke-width="1" shape-rendering="crispEdges"/>
<text x="386.60" y="600.20" font-size="9.8px" fill="#000" text-anchor="start" textLength="53.33" lengthAdjust="spacingAndGlyphs" xml:space="preserve" stroke="#000" stroke-width="0.2" style="text-rendering:geometricPrecision" >23 Feb 11:00</text>
<line x1="451.5" y1="588" x2="451.5" y2="591" stroke="#000" stroke-width="1" shape-rendering="crispEdges"/>
<text x="450.60" y="600.20" font-size="9.8px" fill="#000" text-anchor="start" textLength="54.00" lengthAdjust="spacingAndGlyphs" xml:space="preserve" stroke="#000" stroke-width="0.2" style="text-rendering:geometricPrecision" >24 Feb 03:00</text>
<line x1="515.5" y1="588" x2="515.5" y2="591" stroke="#000" stroke-width="1" shape-rendering="crispEdges"/>
<text x="514.60" y="600.20" font-size="9.8px" fill="#000" text-anchor="start" textLength="54.00" lengthAdjust="spacingAndGlyphs" xml:space="preserve" stroke="#000" stroke-width="0.2" style="text-rendering:geometricPrecision" >24 Feb 19:00</text>
<line x1="579.5" y1="588" x2="579.5" y2="591" stroke="#000" stroke-width="1" shape-rendering="crispEdges"/>
<text x="578.60" y="600.20" font-size="9.8px" fill="#000" text-anchor="start" textLength="53.33" lengthAdjust="spacingAndGlyphs" xml:space="preserve" stroke="#000" stroke-width="0.2" style="text-rendering:geometricPrecision" >27 Feb 11:00</text>
<line x1="643.5" y1="588" x2="643.5" y2="591" stroke="#000" stroke-width="1" shape-rendering="crispEdges"/>
<text x="642.60" y="600.20" font-size="9.8px" fill="#000" text-anchor="start" textLength="54.00" lengthAdjust="spacingAndGlyphs" xml:space="preserve" stroke="#000" stroke-width="0.2" style="text-rendering:geometricPrecision" >28 Feb 03:00</text>
<line x1="707.5" y1="588" x2="707.5" y2="591" stroke="#000" stroke-width="1" shape-rendering="crispEdges"/>
<text x="706.60" y="600.20" font-size="9.8px" fill="#000" text-anchor="start" textLength="54.00" lengthAdjust="spacingAndGlyphs" xml:space="preserve" stroke="#000" stroke-width="0.2" style="text-rendering:geometricPrecision" >28 Feb 19:00</text>
<line x1="771.5" y1="588" x2="771.5" y2="591" stroke="#000" stroke-width="1" shape-rendering="crispEdges"/>
<text x="770.60" y="600.20" font-size="9.8px" fill="#000" text-anchor="start" textLength="48.22" lengthAdjust="spacingAndGlyphs" xml:space="preserve" stroke="#000" stroke-width="0.2" style="text-rendering:geometricPrecision" >1 Mar 11:00</text>
<line x1="835.5" y1="588" x2="835.5" y2="591" stroke="#000" stroke-width="1" shape-rendering="crispEdges"/>
<text x="834.60" y="600.20" font-size="9.8px" fill="#000" text-anchor="start" textLength="48.89" lengthAdjust="spacingAndGlyphs" xml:space="preserve" stroke="#000" stroke-width="0.2" style="text-rendering:geometricPrecision" >2 Mar 03:00</text>
<line x1="899.5" y1="588" x2="899.5" y2="591" stroke="#000" stroke-width="1" shape-rendering="crispEdges"/>
<text x="898.60" y="600.20" font-size="9.8px" fill="#000" text-anchor="start" textLength="48.89" lengthAdjust="spacingAndGlyphs" xml:space="preserve" stroke="#000" stroke-width="0.2" style="text-rendering:geometricPrecision" >2 Mar 19:00</text>
<line x1="963.5" y1="588" x2="963.5" y2="591" stroke="#000" stroke-width="1" shape-rendering="crispEdges"/>
<text x="962.60" y="600.20" font-size="9.8px" fill="#000" text-anchor="start" textLength="48.22" lengthAdjust="spacingAndGlyphs" xml:space="preserve" stroke="#000" stroke-width="0.2" style="text-rendering:geometricPrecision" >3 Mar 11:00</text>
<line x1="1027.5" y1="588" x2="1027.5" y2="591" stroke="#000" stroke-width="1" shape-rendering="crispEdges"/>
<text x="1026.60" y="600.20" font-size="9.8px" fill="#000" text-anchor="start" textLength="48.89" lengthAdjust="spacingAndGlyphs" xml:space="preserve" stroke="#000" stroke-width="0.2" style="text-rendering:geometricPrecision" >6 Mar 03:00</text>
<line x1="1091.5" y1="588" x2="1091.5" y2="591" stroke="#000" stroke-width="1" shape-rendering="crispEdges"/>
<text x="1090.60" y="600.20" font-size="9.8px" fill="#000" text-anchor="start" textLength="48.89" lengthAdjust="spacingAndGlyphs" xml:space="preserve" stroke="#000" stroke-width="0.2" style="text-rendering:geometricPrecision" >6 Mar 19:00</text>
<line x1="1155.5" y1="588" x2="1155.5" y2="591" stroke="#000" stroke-width="1" shape-rendering="crispEdges"/>
<text x="1154.60" y="600.20" font-size="9.8px" fill="#000" text-anchor="start" textLength="48.22" lengthAdjust="spacingAndGlyphs" xml:space="preserve" stroke="#000" stroke-width="0.2" style="text-rendering:geometricPrecision" >7 Mar 11:00</text>
</svg>
</body></html>
